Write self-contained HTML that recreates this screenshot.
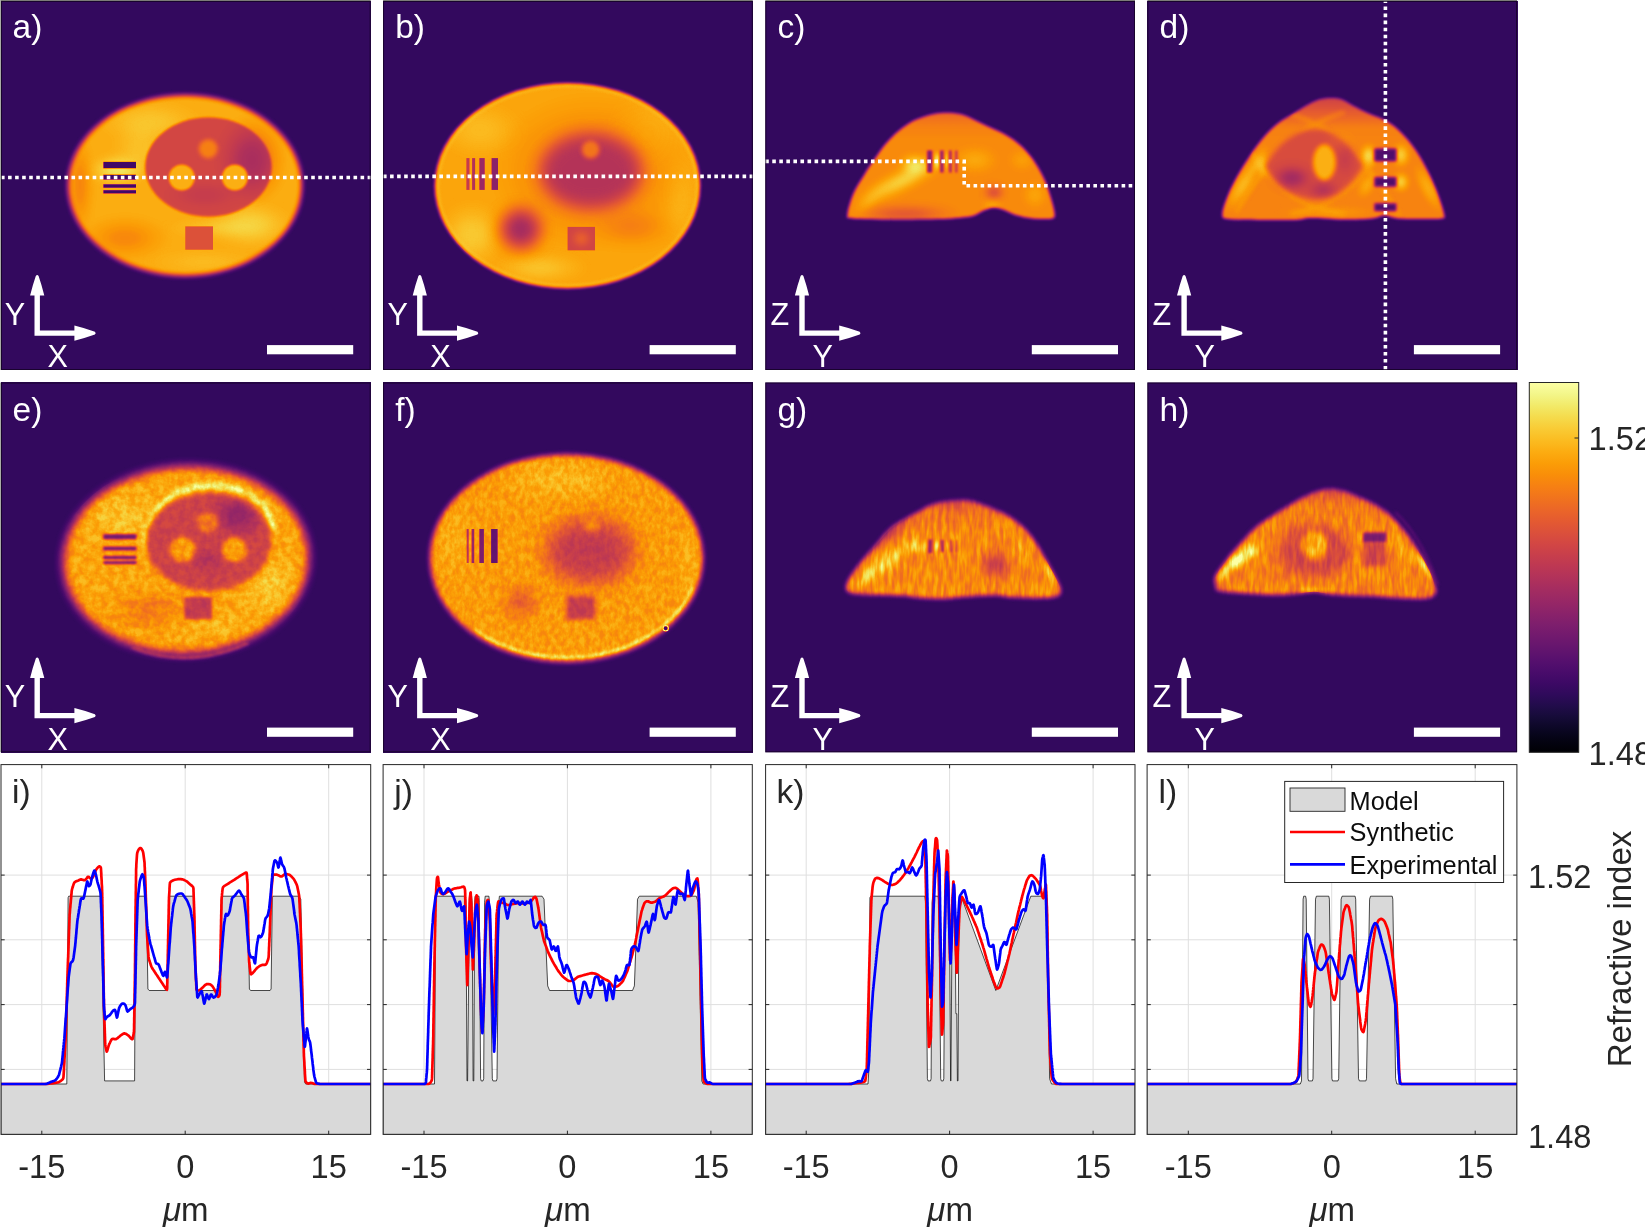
<!DOCTYPE html>
<html lang="en"><head><meta charset="utf-8"><title>Refractive index tomography figure</title>
<style>
html,body{margin:0;padding:0;background:#fff;}
body{width:1645px;height:1228px;overflow:hidden;}
svg{display:block;}
text{font-family:"Liberation Sans",Arial,Helvetica,sans-serif;}
.w{fill:#fff;}
.k{fill:#262626;}
</style></head><body>
<svg width="1645" height="1228" viewBox="0 0 1645 1228">
<defs>
<filter id="cmA" filterUnits="userSpaceOnUse" x="1.0" y="1.0" width="369.7" height="369.8" color-interpolation-filters="sRGB">
<feComponentTransfer in="SourceGraphic">
<feFuncR type="table" tableValues="0.0015 0.0060 0.0140 0.0258 0.0423 0.0613 0.0820 0.1046 0.1293 0.1558 0.1834 0.2111 0.2383 0.2648 0.2908 0.3163 0.3478 0.3728 0.3977 0.4225 0.4474 0.4723 0.4973 0.5222 0.5472 0.5721 0.5969 0.6217 0.6463 0.6706 0.6946 0.7183 0.7471 0.7696 0.7913 0.8122 0.8323 0.8514 0.8694 0.8863 0.9020 0.9165 0.9296 0.9415 0.9521 0.9613 0.9692 0.9757 0.9819 0.9853 0.9873 0.9879 0.9871 0.9849 0.9812 0.9761 0.9698 0.9625 0.9550 0.9487 0.9464 0.9517 0.9662 0.9884"/>
<feFuncG type="table" tableValues="0.0005 0.0047 0.0112 0.0193 0.0281 0.0366 0.0433 0.0470 0.0473 0.0446 0.0403 0.0370 0.0366 0.0396 0.0456 0.0535 0.0646 0.0739 0.0833 0.0925 0.1016 0.1105 0.1194 0.1281 0.1369 0.1458 0.1548 0.1642 0.1739 0.1842 0.1950 0.2066 0.2224 0.2361 0.2509 0.2668 0.2839 0.3023 0.3218 0.3426 0.3645 0.3875 0.4115 0.4364 0.4622 0.4887 0.5159 0.5438 0.5794 0.6084 0.6379 0.6677 0.6979 0.7284 0.7591 0.7900 0.8208 0.8515 0.8816 0.9105 0.9372 0.9606 0.9807 0.9984"/>
<feFuncB type="table" tableValues="0.0139 0.0386 0.0719 0.1059 0.1411 0.1776 0.2153 0.2534 0.2908 0.3253 0.3550 0.3786 0.3964 0.4093 0.4186 0.4251 0.4302 0.4324 0.4332 0.4327 0.4311 0.4283 0.4245 0.4195 0.4135 0.4064 0.3981 0.3888 0.3784 0.3669 0.3544 0.3409 0.3229 0.3075 0.2914 0.2747 0.2574 0.2396 0.2215 0.2030 0.1841 0.1649 0.1454 0.1254 0.1050 0.0843 0.0635 0.0436 0.0262 0.0242 0.0349 0.0583 0.0877 0.1208 0.1569 0.1960 0.2387 0.2855 0.3375 0.3953 0.4586 0.5242 0.5872 0.6449"/>
</feComponentTransfer>
</filter>
<filter id="cmB" filterUnits="userSpaceOnUse" x="383.1" y="1.0" width="369.7" height="369.8" color-interpolation-filters="sRGB">
<feComponentTransfer in="SourceGraphic">
<feFuncR type="table" tableValues="0.0015 0.0060 0.0140 0.0258 0.0423 0.0613 0.0820 0.1046 0.1293 0.1558 0.1834 0.2111 0.2383 0.2648 0.2908 0.3163 0.3478 0.3728 0.3977 0.4225 0.4474 0.4723 0.4973 0.5222 0.5472 0.5721 0.5969 0.6217 0.6463 0.6706 0.6946 0.7183 0.7471 0.7696 0.7913 0.8122 0.8323 0.8514 0.8694 0.8863 0.9020 0.9165 0.9296 0.9415 0.9521 0.9613 0.9692 0.9757 0.9819 0.9853 0.9873 0.9879 0.9871 0.9849 0.9812 0.9761 0.9698 0.9625 0.9550 0.9487 0.9464 0.9517 0.9662 0.9884"/>
<feFuncG type="table" tableValues="0.0005 0.0047 0.0112 0.0193 0.0281 0.0366 0.0433 0.0470 0.0473 0.0446 0.0403 0.0370 0.0366 0.0396 0.0456 0.0535 0.0646 0.0739 0.0833 0.0925 0.1016 0.1105 0.1194 0.1281 0.1369 0.1458 0.1548 0.1642 0.1739 0.1842 0.1950 0.2066 0.2224 0.2361 0.2509 0.2668 0.2839 0.3023 0.3218 0.3426 0.3645 0.3875 0.4115 0.4364 0.4622 0.4887 0.5159 0.5438 0.5794 0.6084 0.6379 0.6677 0.6979 0.7284 0.7591 0.7900 0.8208 0.8515 0.8816 0.9105 0.9372 0.9606 0.9807 0.9984"/>
<feFuncB type="table" tableValues="0.0139 0.0386 0.0719 0.1059 0.1411 0.1776 0.2153 0.2534 0.2908 0.3253 0.3550 0.3786 0.3964 0.4093 0.4186 0.4251 0.4302 0.4324 0.4332 0.4327 0.4311 0.4283 0.4245 0.4195 0.4135 0.4064 0.3981 0.3888 0.3784 0.3669 0.3544 0.3409 0.3229 0.3075 0.2914 0.2747 0.2574 0.2396 0.2215 0.2030 0.1841 0.1649 0.1454 0.1254 0.1050 0.0843 0.0635 0.0436 0.0262 0.0242 0.0349 0.0583 0.0877 0.1208 0.1569 0.1960 0.2387 0.2855 0.3375 0.3953 0.4586 0.5242 0.5872 0.6449"/>
</feComponentTransfer>
</filter>
<filter id="cmC" filterUnits="userSpaceOnUse" x="765.3" y="1.0" width="369.7" height="369.8" color-interpolation-filters="sRGB">
<feComponentTransfer in="SourceGraphic">
<feFuncR type="table" tableValues="0.0015 0.0060 0.0140 0.0258 0.0423 0.0613 0.0820 0.1046 0.1293 0.1558 0.1834 0.2111 0.2383 0.2648 0.2908 0.3163 0.3478 0.3728 0.3977 0.4225 0.4474 0.4723 0.4973 0.5222 0.5472 0.5721 0.5969 0.6217 0.6463 0.6706 0.6946 0.7183 0.7471 0.7696 0.7913 0.8122 0.8323 0.8514 0.8694 0.8863 0.9020 0.9165 0.9296 0.9415 0.9521 0.9613 0.9692 0.9757 0.9819 0.9853 0.9873 0.9879 0.9871 0.9849 0.9812 0.9761 0.9698 0.9625 0.9550 0.9487 0.9464 0.9517 0.9662 0.9884"/>
<feFuncG type="table" tableValues="0.0005 0.0047 0.0112 0.0193 0.0281 0.0366 0.0433 0.0470 0.0473 0.0446 0.0403 0.0370 0.0366 0.0396 0.0456 0.0535 0.0646 0.0739 0.0833 0.0925 0.1016 0.1105 0.1194 0.1281 0.1369 0.1458 0.1548 0.1642 0.1739 0.1842 0.1950 0.2066 0.2224 0.2361 0.2509 0.2668 0.2839 0.3023 0.3218 0.3426 0.3645 0.3875 0.4115 0.4364 0.4622 0.4887 0.5159 0.5438 0.5794 0.6084 0.6379 0.6677 0.6979 0.7284 0.7591 0.7900 0.8208 0.8515 0.8816 0.9105 0.9372 0.9606 0.9807 0.9984"/>
<feFuncB type="table" tableValues="0.0139 0.0386 0.0719 0.1059 0.1411 0.1776 0.2153 0.2534 0.2908 0.3253 0.3550 0.3786 0.3964 0.4093 0.4186 0.4251 0.4302 0.4324 0.4332 0.4327 0.4311 0.4283 0.4245 0.4195 0.4135 0.4064 0.3981 0.3888 0.3784 0.3669 0.3544 0.3409 0.3229 0.3075 0.2914 0.2747 0.2574 0.2396 0.2215 0.2030 0.1841 0.1649 0.1454 0.1254 0.1050 0.0843 0.0635 0.0436 0.0262 0.0242 0.0349 0.0583 0.0877 0.1208 0.1569 0.1960 0.2387 0.2855 0.3375 0.3953 0.4586 0.5242 0.5872 0.6449"/>
</feComponentTransfer>
</filter>
<filter id="cmD" filterUnits="userSpaceOnUse" x="1147.4" y="1.0" width="369.7" height="369.8" color-interpolation-filters="sRGB">
<feComponentTransfer in="SourceGraphic">
<feFuncR type="table" tableValues="0.0015 0.0060 0.0140 0.0258 0.0423 0.0613 0.0820 0.1046 0.1293 0.1558 0.1834 0.2111 0.2383 0.2648 0.2908 0.3163 0.3478 0.3728 0.3977 0.4225 0.4474 0.4723 0.4973 0.5222 0.5472 0.5721 0.5969 0.6217 0.6463 0.6706 0.6946 0.7183 0.7471 0.7696 0.7913 0.8122 0.8323 0.8514 0.8694 0.8863 0.9020 0.9165 0.9296 0.9415 0.9521 0.9613 0.9692 0.9757 0.9819 0.9853 0.9873 0.9879 0.9871 0.9849 0.9812 0.9761 0.9698 0.9625 0.9550 0.9487 0.9464 0.9517 0.9662 0.9884"/>
<feFuncG type="table" tableValues="0.0005 0.0047 0.0112 0.0193 0.0281 0.0366 0.0433 0.0470 0.0473 0.0446 0.0403 0.0370 0.0366 0.0396 0.0456 0.0535 0.0646 0.0739 0.0833 0.0925 0.1016 0.1105 0.1194 0.1281 0.1369 0.1458 0.1548 0.1642 0.1739 0.1842 0.1950 0.2066 0.2224 0.2361 0.2509 0.2668 0.2839 0.3023 0.3218 0.3426 0.3645 0.3875 0.4115 0.4364 0.4622 0.4887 0.5159 0.5438 0.5794 0.6084 0.6379 0.6677 0.6979 0.7284 0.7591 0.7900 0.8208 0.8515 0.8816 0.9105 0.9372 0.9606 0.9807 0.9984"/>
<feFuncB type="table" tableValues="0.0139 0.0386 0.0719 0.1059 0.1411 0.1776 0.2153 0.2534 0.2908 0.3253 0.3550 0.3786 0.3964 0.4093 0.4186 0.4251 0.4302 0.4324 0.4332 0.4327 0.4311 0.4283 0.4245 0.4195 0.4135 0.4064 0.3981 0.3888 0.3784 0.3669 0.3544 0.3409 0.3229 0.3075 0.2914 0.2747 0.2574 0.2396 0.2215 0.2030 0.1841 0.1649 0.1454 0.1254 0.1050 0.0843 0.0635 0.0436 0.0262 0.0242 0.0349 0.0583 0.0877 0.1208 0.1569 0.1960 0.2387 0.2855 0.3375 0.3953 0.4586 0.5242 0.5872 0.6449"/>
</feComponentTransfer>
</filter>
<filter id="cmE" filterUnits="userSpaceOnUse" x="1.0" y="382.5" width="369.7" height="369.8" color-interpolation-filters="sRGB">
<feTurbulence type="fractalNoise" baseFrequency="0.14" numOctaves="3" seed="3" result="t"/>
<feColorMatrix in="t" type="matrix" values="2.2 0 0 0 -0.6000000000000001  2.2 0 0 0 -0.6000000000000001  2.2 0 0 0 -0.6000000000000001  0 0 0 0 1" result="n"/>
<feComposite in="SourceGraphic" in2="n" operator="arithmetic" k1="0.15" k2="0.925" k3="-0.02535" k4="0.012675" result="ny"/>
<feComponentTransfer in="ny">
<feFuncR type="table" tableValues="0.0015 0.0060 0.0140 0.0258 0.0423 0.0613 0.0820 0.1046 0.1293 0.1558 0.1834 0.2111 0.2383 0.2648 0.2908 0.3163 0.3478 0.3728 0.3977 0.4225 0.4474 0.4723 0.4973 0.5222 0.5472 0.5721 0.5969 0.6217 0.6463 0.6706 0.6946 0.7183 0.7471 0.7696 0.7913 0.8122 0.8323 0.8514 0.8694 0.8863 0.9020 0.9165 0.9296 0.9415 0.9521 0.9613 0.9692 0.9757 0.9819 0.9853 0.9873 0.9879 0.9871 0.9849 0.9812 0.9761 0.9698 0.9625 0.9550 0.9487 0.9464 0.9517 0.9662 0.9884"/>
<feFuncG type="table" tableValues="0.0005 0.0047 0.0112 0.0193 0.0281 0.0366 0.0433 0.0470 0.0473 0.0446 0.0403 0.0370 0.0366 0.0396 0.0456 0.0535 0.0646 0.0739 0.0833 0.0925 0.1016 0.1105 0.1194 0.1281 0.1369 0.1458 0.1548 0.1642 0.1739 0.1842 0.1950 0.2066 0.2224 0.2361 0.2509 0.2668 0.2839 0.3023 0.3218 0.3426 0.3645 0.3875 0.4115 0.4364 0.4622 0.4887 0.5159 0.5438 0.5794 0.6084 0.6379 0.6677 0.6979 0.7284 0.7591 0.7900 0.8208 0.8515 0.8816 0.9105 0.9372 0.9606 0.9807 0.9984"/>
<feFuncB type="table" tableValues="0.0139 0.0386 0.0719 0.1059 0.1411 0.1776 0.2153 0.2534 0.2908 0.3253 0.3550 0.3786 0.3964 0.4093 0.4186 0.4251 0.4302 0.4324 0.4332 0.4327 0.4311 0.4283 0.4245 0.4195 0.4135 0.4064 0.3981 0.3888 0.3784 0.3669 0.3544 0.3409 0.3229 0.3075 0.2914 0.2747 0.2574 0.2396 0.2215 0.2030 0.1841 0.1649 0.1454 0.1254 0.1050 0.0843 0.0635 0.0436 0.0262 0.0242 0.0349 0.0583 0.0877 0.1208 0.1569 0.1960 0.2387 0.2855 0.3375 0.3953 0.4586 0.5242 0.5872 0.6449"/>
</feComponentTransfer>
</filter>
<filter id="cmF" filterUnits="userSpaceOnUse" x="383.1" y="382.5" width="369.7" height="369.8" color-interpolation-filters="sRGB">
<feTurbulence type="fractalNoise" baseFrequency="0.2 0.13" numOctaves="3" seed="8" result="t"/>
<feColorMatrix in="t" type="matrix" values="2.2 0 0 0 -0.6000000000000001  2.2 0 0 0 -0.6000000000000001  2.2 0 0 0 -0.6000000000000001  0 0 0 0 1" result="n"/>
<feComposite in="SourceGraphic" in2="n" operator="arithmetic" k1="0.14" k2="0.9299999999999999" k3="-0.023660000000000004" k4="0.011830000000000002" result="ny"/>
<feComponentTransfer in="ny">
<feFuncR type="table" tableValues="0.0015 0.0060 0.0140 0.0258 0.0423 0.0613 0.0820 0.1046 0.1293 0.1558 0.1834 0.2111 0.2383 0.2648 0.2908 0.3163 0.3478 0.3728 0.3977 0.4225 0.4474 0.4723 0.4973 0.5222 0.5472 0.5721 0.5969 0.6217 0.6463 0.6706 0.6946 0.7183 0.7471 0.7696 0.7913 0.8122 0.8323 0.8514 0.8694 0.8863 0.9020 0.9165 0.9296 0.9415 0.9521 0.9613 0.9692 0.9757 0.9819 0.9853 0.9873 0.9879 0.9871 0.9849 0.9812 0.9761 0.9698 0.9625 0.9550 0.9487 0.9464 0.9517 0.9662 0.9884"/>
<feFuncG type="table" tableValues="0.0005 0.0047 0.0112 0.0193 0.0281 0.0366 0.0433 0.0470 0.0473 0.0446 0.0403 0.0370 0.0366 0.0396 0.0456 0.0535 0.0646 0.0739 0.0833 0.0925 0.1016 0.1105 0.1194 0.1281 0.1369 0.1458 0.1548 0.1642 0.1739 0.1842 0.1950 0.2066 0.2224 0.2361 0.2509 0.2668 0.2839 0.3023 0.3218 0.3426 0.3645 0.3875 0.4115 0.4364 0.4622 0.4887 0.5159 0.5438 0.5794 0.6084 0.6379 0.6677 0.6979 0.7284 0.7591 0.7900 0.8208 0.8515 0.8816 0.9105 0.9372 0.9606 0.9807 0.9984"/>
<feFuncB type="table" tableValues="0.0139 0.0386 0.0719 0.1059 0.1411 0.1776 0.2153 0.2534 0.2908 0.3253 0.3550 0.3786 0.3964 0.4093 0.4186 0.4251 0.4302 0.4324 0.4332 0.4327 0.4311 0.4283 0.4245 0.4195 0.4135 0.4064 0.3981 0.3888 0.3784 0.3669 0.3544 0.3409 0.3229 0.3075 0.2914 0.2747 0.2574 0.2396 0.2215 0.2030 0.1841 0.1649 0.1454 0.1254 0.1050 0.0843 0.0635 0.0436 0.0262 0.0242 0.0349 0.0583 0.0877 0.1208 0.1569 0.1960 0.2387 0.2855 0.3375 0.3953 0.4586 0.5242 0.5872 0.6449"/>
</feComponentTransfer>
</filter>
<filter id="cmG" filterUnits="userSpaceOnUse" x="765.3" y="382.5" width="369.7" height="369.8" color-interpolation-filters="sRGB">
<feTurbulence type="fractalNoise" baseFrequency="0.26 0.06" numOctaves="2" seed="5" result="t"/>
<feColorMatrix in="t" type="matrix" values="2.2 0 0 0 -0.6000000000000001  2.2 0 0 0 -0.6000000000000001  2.2 0 0 0 -0.6000000000000001  0 0 0 0 1" result="n"/>
<feComposite in="SourceGraphic" in2="n" operator="arithmetic" k1="0.23" k2="0.885" k3="-0.03887" k4="0.019435" result="ny"/>
<feComponentTransfer in="ny">
<feFuncR type="table" tableValues="0.0015 0.0060 0.0140 0.0258 0.0423 0.0613 0.0820 0.1046 0.1293 0.1558 0.1834 0.2111 0.2383 0.2648 0.2908 0.3163 0.3478 0.3728 0.3977 0.4225 0.4474 0.4723 0.4973 0.5222 0.5472 0.5721 0.5969 0.6217 0.6463 0.6706 0.6946 0.7183 0.7471 0.7696 0.7913 0.8122 0.8323 0.8514 0.8694 0.8863 0.9020 0.9165 0.9296 0.9415 0.9521 0.9613 0.9692 0.9757 0.9819 0.9853 0.9873 0.9879 0.9871 0.9849 0.9812 0.9761 0.9698 0.9625 0.9550 0.9487 0.9464 0.9517 0.9662 0.9884"/>
<feFuncG type="table" tableValues="0.0005 0.0047 0.0112 0.0193 0.0281 0.0366 0.0433 0.0470 0.0473 0.0446 0.0403 0.0370 0.0366 0.0396 0.0456 0.0535 0.0646 0.0739 0.0833 0.0925 0.1016 0.1105 0.1194 0.1281 0.1369 0.1458 0.1548 0.1642 0.1739 0.1842 0.1950 0.2066 0.2224 0.2361 0.2509 0.2668 0.2839 0.3023 0.3218 0.3426 0.3645 0.3875 0.4115 0.4364 0.4622 0.4887 0.5159 0.5438 0.5794 0.6084 0.6379 0.6677 0.6979 0.7284 0.7591 0.7900 0.8208 0.8515 0.8816 0.9105 0.9372 0.9606 0.9807 0.9984"/>
<feFuncB type="table" tableValues="0.0139 0.0386 0.0719 0.1059 0.1411 0.1776 0.2153 0.2534 0.2908 0.3253 0.3550 0.3786 0.3964 0.4093 0.4186 0.4251 0.4302 0.4324 0.4332 0.4327 0.4311 0.4283 0.4245 0.4195 0.4135 0.4064 0.3981 0.3888 0.3784 0.3669 0.3544 0.3409 0.3229 0.3075 0.2914 0.2747 0.2574 0.2396 0.2215 0.2030 0.1841 0.1649 0.1454 0.1254 0.1050 0.0843 0.0635 0.0436 0.0262 0.0242 0.0349 0.0583 0.0877 0.1208 0.1569 0.1960 0.2387 0.2855 0.3375 0.3953 0.4586 0.5242 0.5872 0.6449"/>
</feComponentTransfer>
</filter>
<filter id="cmH" filterUnits="userSpaceOnUse" x="1147.4" y="382.5" width="369.7" height="369.8" color-interpolation-filters="sRGB">
<feTurbulence type="fractalNoise" baseFrequency="0.26 0.06" numOctaves="2" seed="11" result="t"/>
<feColorMatrix in="t" type="matrix" values="2.2 0 0 0 -0.6000000000000001  2.2 0 0 0 -0.6000000000000001  2.2 0 0 0 -0.6000000000000001  0 0 0 0 1" result="n"/>
<feComposite in="SourceGraphic" in2="n" operator="arithmetic" k1="0.23" k2="0.885" k3="-0.03887" k4="0.019435" result="ny"/>
<feComponentTransfer in="ny">
<feFuncR type="table" tableValues="0.0015 0.0060 0.0140 0.0258 0.0423 0.0613 0.0820 0.1046 0.1293 0.1558 0.1834 0.2111 0.2383 0.2648 0.2908 0.3163 0.3478 0.3728 0.3977 0.4225 0.4474 0.4723 0.4973 0.5222 0.5472 0.5721 0.5969 0.6217 0.6463 0.6706 0.6946 0.7183 0.7471 0.7696 0.7913 0.8122 0.8323 0.8514 0.8694 0.8863 0.9020 0.9165 0.9296 0.9415 0.9521 0.9613 0.9692 0.9757 0.9819 0.9853 0.9873 0.9879 0.9871 0.9849 0.9812 0.9761 0.9698 0.9625 0.9550 0.9487 0.9464 0.9517 0.9662 0.9884"/>
<feFuncG type="table" tableValues="0.0005 0.0047 0.0112 0.0193 0.0281 0.0366 0.0433 0.0470 0.0473 0.0446 0.0403 0.0370 0.0366 0.0396 0.0456 0.0535 0.0646 0.0739 0.0833 0.0925 0.1016 0.1105 0.1194 0.1281 0.1369 0.1458 0.1548 0.1642 0.1739 0.1842 0.1950 0.2066 0.2224 0.2361 0.2509 0.2668 0.2839 0.3023 0.3218 0.3426 0.3645 0.3875 0.4115 0.4364 0.4622 0.4887 0.5159 0.5438 0.5794 0.6084 0.6379 0.6677 0.6979 0.7284 0.7591 0.7900 0.8208 0.8515 0.8816 0.9105 0.9372 0.9606 0.9807 0.9984"/>
<feFuncB type="table" tableValues="0.0139 0.0386 0.0719 0.1059 0.1411 0.1776 0.2153 0.2534 0.2908 0.3253 0.3550 0.3786 0.3964 0.4093 0.4186 0.4251 0.4302 0.4324 0.4332 0.4327 0.4311 0.4283 0.4245 0.4195 0.4135 0.4064 0.3981 0.3888 0.3784 0.3669 0.3544 0.3409 0.3229 0.3075 0.2914 0.2747 0.2574 0.2396 0.2215 0.2030 0.1841 0.1649 0.1454 0.1254 0.1050 0.0843 0.0635 0.0436 0.0262 0.0242 0.0349 0.0583 0.0877 0.1208 0.1569 0.1960 0.2387 0.2855 0.3375 0.3953 0.4586 0.5242 0.5872 0.6449"/>
</feComponentTransfer>
</filter>
<filter id="b0_6" x="-50%" y="-50%" width="200%" height="200%" color-interpolation-filters="sRGB"><feGaussianBlur stdDeviation="0.6"/></filter>
<filter id="b1" x="-50%" y="-50%" width="200%" height="200%" color-interpolation-filters="sRGB"><feGaussianBlur stdDeviation="1"/></filter>
<filter id="b1_5" x="-50%" y="-50%" width="200%" height="200%" color-interpolation-filters="sRGB"><feGaussianBlur stdDeviation="1.5"/></filter>
<filter id="b2" x="-50%" y="-50%" width="200%" height="200%" color-interpolation-filters="sRGB"><feGaussianBlur stdDeviation="2"/></filter>
<filter id="b2_5" x="-50%" y="-50%" width="200%" height="200%" color-interpolation-filters="sRGB"><feGaussianBlur stdDeviation="2.5"/></filter>
<filter id="b3" x="-50%" y="-50%" width="200%" height="200%" color-interpolation-filters="sRGB"><feGaussianBlur stdDeviation="3"/></filter>
<filter id="b4" x="-50%" y="-50%" width="200%" height="200%" color-interpolation-filters="sRGB"><feGaussianBlur stdDeviation="4"/></filter>
<filter id="b5" x="-50%" y="-50%" width="200%" height="200%" color-interpolation-filters="sRGB"><feGaussianBlur stdDeviation="5"/></filter>
<filter id="b6" x="-50%" y="-50%" width="200%" height="200%" color-interpolation-filters="sRGB"><feGaussianBlur stdDeviation="6"/></filter>
<filter id="b8" x="-50%" y="-50%" width="200%" height="200%" color-interpolation-filters="sRGB"><feGaussianBlur stdDeviation="8"/></filter>
<filter id="b10" x="-50%" y="-50%" width="200%" height="200%" color-interpolation-filters="sRGB"><feGaussianBlur stdDeviation="10"/></filter>
<filter id="b14" x="-50%" y="-50%" width="200%" height="200%" color-interpolation-filters="sRGB"><feGaussianBlur stdDeviation="14"/></filter>
<clipPath id="cp00"><rect x="1.0" y="1.0" width="369.7" height="369.0"/></clipPath>
<clipPath id="cp01"><rect x="383.1" y="1.0" width="369.7" height="369.0"/></clipPath>
<clipPath id="cp02"><rect x="765.3" y="1.0" width="369.7" height="369.0"/></clipPath>
<clipPath id="cp03"><rect x="1147.4" y="1.0" width="369.7" height="369.0"/></clipPath>
<clipPath id="cp10"><rect x="1.0" y="382.5" width="369.7" height="369.8"/></clipPath>
<clipPath id="cp11"><rect x="383.1" y="382.5" width="369.7" height="369.8"/></clipPath>
<clipPath id="cp12"><rect x="765.3" y="382.5" width="369.7" height="369.8"/></clipPath>
<clipPath id="cp13"><rect x="1147.4" y="382.5" width="369.7" height="369.8"/></clipPath>
<linearGradient id="cbar" x1="0" y1="0" x2="0" y2="1"><stop offset="0.0000" stop-color="rgb(252,255,164)"/><stop offset="0.0312" stop-color="rgb(243,246,138)"/><stop offset="0.0625" stop-color="rgb(242,234,105)"/><stop offset="0.0938" stop-color="rgb(245,219,76)"/><stop offset="0.1250" stop-color="rgb(249,203,53)"/><stop offset="0.1562" stop-color="rgb(251,188,33)"/><stop offset="0.1875" stop-color="rgb(252,172,17)"/><stop offset="0.2188" stop-color="rgb(251,157,7)"/><stop offset="0.2500" stop-color="rgb(249,142,9)"/><stop offset="0.2812" stop-color="rgb(246,128,19)"/><stop offset="0.3125" stop-color="rgb(241,115,29)"/><stop offset="0.3438" stop-color="rgb(235,102,40)"/><stop offset="0.3750" stop-color="rgb(228,90,49)"/><stop offset="0.4062" stop-color="rgb(219,80,59)"/><stop offset="0.4375" stop-color="rgb(210,70,68)"/><stop offset="0.4688" stop-color="rgb(199,62,76)"/><stop offset="0.5000" stop-color="rgb(188,55,84)"/><stop offset="0.5312" stop-color="rgb(176,49,91)"/><stop offset="0.5625" stop-color="rgb(163,44,97)"/><stop offset="0.5938" stop-color="rgb(151,39,102)"/><stop offset="0.6250" stop-color="rgb(138,34,106)"/><stop offset="0.6562" stop-color="rgb(125,30,109)"/><stop offset="0.6875" stop-color="rgb(113,25,110)"/><stop offset="0.7188" stop-color="rgb(100,21,110)"/><stop offset="0.7500" stop-color="rgb(87,16,110)"/><stop offset="0.7812" stop-color="rgb(74,12,107)"/><stop offset="0.8125" stop-color="rgb(61,9,101)"/><stop offset="0.8438" stop-color="rgb(47,10,91)"/><stop offset="0.8750" stop-color="rgb(33,12,74)"/><stop offset="0.9062" stop-color="rgb(21,11,55)"/><stop offset="0.9375" stop-color="rgb(11,7,36)"/><stop offset="0.9688" stop-color="rgb(4,3,18)"/><stop offset="1.0000" stop-color="rgb(0,0,4)"/></linearGradient>
<radialGradient id="sw"><stop offset="0" stop-color="#fff" stop-opacity="1"/><stop offset="0.3" stop-color="#fff" stop-opacity="0.85"/><stop offset="0.65" stop-color="#fff" stop-opacity="0.35"/><stop offset="1" stop-color="#fff" stop-opacity="0"/></radialGradient>
<radialGradient id="sk"><stop offset="0" stop-color="#000" stop-opacity="1"/><stop offset="0.3" stop-color="#000" stop-opacity="0.85"/><stop offset="0.65" stop-color="#000" stop-opacity="0.35"/><stop offset="1" stop-color="#000" stop-opacity="0"/></radialGradient>
<g id="ax">
<path class="w" transform="translate(0.9 1.1)" d="M33.6 294.5 L33.6 334.7 L73.5 334.7 L73.5 339.6 Q84 337 94 333.4 Q95.6 332 94 330.6 Q84 327 73.5 324.4 L73.5 329.3 L39 329.3 L39 294.5 L43.4 294.5 Q40.8 284 37.7 275 Q36.3 272.6 34.9 275 Q31.8 284 29.2 294.5 Z"/>
<rect class="w" x="267.0" y="345.1" width="86.2" height="9.2"/>
</g>
</defs>
<rect x="0" y="0" width="1645" height="1228" fill="#fff"/>
<!-- panel a -->
<g clip-path="url(#cp00)"><g filter="url(#cmA)">
<rect x="-1.0" y="-1.0" width="373.7" height="373.8" fill="rgb(43,43,43)"/>
<clipPath id="ca"><ellipse cx="185" cy="185.5" rx="118" ry="91.5"/></clipPath>
<g filter="url(#b2_5)">
<ellipse cx="185" cy="185.5" rx="117" ry="90.5" fill="rgb(208,208,208)"/>
</g>
<g clip-path="url(#ca)"><g filter="url(#b4)">
<ellipse cx="118" cy="170" rx="30" ry="16" fill="url(#sw)" opacity="0.75"/>
<ellipse cx="140" cy="150" rx="30" ry="30" fill="url(#sw)" opacity="0.25"/>
<ellipse cx="250" cy="225" rx="45" ry="24" fill="url(#sw)" opacity="0.45"/>
<ellipse cx="215" cy="228" rx="50" ry="10" fill="url(#sw)" opacity="0.3"/>
<ellipse cx="150" cy="122" rx="55" ry="22" fill="url(#sw)" opacity="0.3"/>
<ellipse cx="205" cy="262" rx="60" ry="12" fill="url(#sw)" opacity="0.2"/>
<ellipse cx="125" cy="238" rx="45" ry="22" fill="url(#sk)" opacity="0.1"/>
<ellipse cx="80" cy="185" rx="12" ry="50" fill="url(#sk)" opacity="0.12"/>
</g></g>
<g filter="url(#b1)"><ellipse cx="208.5" cy="167" rx="63.2" ry="49.6" fill="rgb(144,144,144)"/></g>
<g filter="url(#b4)"><ellipse cx="252" cy="160" rx="34" ry="44" fill="url(#sk)" opacity="0.2"/>
<ellipse cx="205" cy="195" rx="40" ry="14" fill="url(#sk)" opacity="0.08"/>
</g>
<g filter="url(#b1)"><circle cx="181.7" cy="177.5" r="13" fill="rgb(209,209,209)"/><circle cx="234.9" cy="177.5" r="13" fill="rgb(209,209,209)"/></g>
<g filter="url(#b2)"><circle cx="208.2" cy="148.8" r="9.5" fill="rgb(184,184,184)"/></g>
<g filter="url(#b0_6)"><rect x="185.3" y="226.4" width="27.7" height="23.3" fill="rgb(153,153,153)"/></g>
<g filter="url(#b0_6)" fill="rgb(51,51,51)"><rect x="103.4" y="161.9" width="32.6" height="6.3"/><rect x="103.4" y="174.8" width="32.6" height="4.8"/><rect x="103.4" y="184.3" width="32.6" height="3.4"/><rect x="103.4" y="190.2" width="32.6" height="3.2"/></g>
</g></g>
<line x1="1" y1="177.5" x2="370.7" y2="177.5" stroke="#fff" stroke-width="3.6" stroke-dasharray="3.6 3.45"/>
<rect x="1.5" y="1.5" width="368.7" height="368.0" fill="none" stroke="#12021f" stroke-opacity="0.75" stroke-width="1"/>
<use href="#ax" x="0.0" y="0.0"/>
<text class="w" x="12.6" y="37.7" font-size="33.5">a)</text>
<text class="w" x="15.0" y="324.7" font-size="30.6" text-anchor="middle">Y</text>
<text class="w" x="57.8" y="367.0" font-size="30.6" text-anchor="middle">X</text>
<!-- panel b -->
<g clip-path="url(#cp01)"><g filter="url(#cmB)">
<rect x="381.1" y="-1.0" width="373.7" height="373.8" fill="rgb(43,43,43)"/>
<clipPath id="cb"><ellipse cx="567.5" cy="185.7" rx="133" ry="103"/></clipPath>
<g filter="url(#b1_5)"><ellipse cx="567.5" cy="185.7" rx="132.8" ry="102.8" fill="rgb(204,204,204)"/></g>
<g clip-path="url(#cb)"><g filter="url(#b5)">
<ellipse cx="480" cy="130" rx="45" ry="30" fill="url(#sw)" opacity="0.25"/>
<ellipse cx="472" cy="235" rx="35" ry="35" fill="url(#sw)" opacity="0.4"/>
<ellipse cx="540" cy="268" rx="50" ry="16" fill="url(#sw)" opacity="0.35"/>
<ellipse cx="650" cy="130" rx="40" ry="40" fill="url(#sw)" opacity="0.12"/>
<ellipse cx="680" cy="200" rx="20" ry="50" fill="url(#sw)" opacity="0.15"/>
<ellipse cx="635" cy="228" rx="45" ry="22" fill="url(#sk)" opacity="0.08"/>
<ellipse cx="591" cy="172" rx="100" ry="78" fill="url(#sk)" opacity="0.13"/>
</g></g>
<g filter="url(#b1_5)"><ellipse cx="567.5" cy="185.7" rx="129.6" ry="99.8" fill="none" stroke="rgb(235,235,235)" stroke-width="2.2" opacity="0.4"/></g>
<g filter="url(#b8)"><ellipse cx="591" cy="171" rx="50" ry="37" fill="rgb(124,124,124)"/></g>
<g filter="url(#b8)"><circle cx="520.8" cy="229" r="19" fill="rgb(112,112,112)"/></g>
<g filter="url(#b2)"><circle cx="590.6" cy="149.6" r="9" fill="rgb(178,178,178)"/></g>
<g filter="url(#b0_6)"><rect x="567.6" y="226.9" width="27.4" height="23.4" fill="rgb(143,143,143)"/></g>
<g filter="url(#b3)"><ellipse cx="581.3" cy="238.6" rx="11" ry="10" fill="url(#sw)" opacity="0.25"/>
</g>
<g filter="url(#b0_6)"><rect x="466.4" y="158.1" width="3.1" height="31.8" fill="rgb(133,133,133)"/><rect x="472.1" y="158.1" width="3" height="31.8" fill="rgb(122,122,122)"/><rect x="479.4" y="158.1" width="5.3" height="31.8" fill="rgb(107,107,107)"/><rect x="491.6" y="158.1" width="6.4" height="31.8" fill="rgb(97,97,97)"/></g>
</g></g>
<line x1="383" y1="176.4" x2="752.7" y2="176.4" stroke="#fff" stroke-width="3.6" stroke-dasharray="3.6 3.45"/>
<rect x="383.6" y="1.5" width="368.7" height="368.0" fill="none" stroke="#12021f" stroke-opacity="0.75" stroke-width="1"/>
<use href="#ax" x="382.6" y="0.0"/>
<text class="w" x="395.20000000000005" y="37.7" font-size="33.5">b)</text>
<text class="w" x="397.6" y="324.7" font-size="30.6" text-anchor="middle">Y</text>
<text class="w" x="440.40000000000003" y="367.0" font-size="30.6" text-anchor="middle">X</text>
<!-- panel c -->
<g clip-path="url(#cp02)"><g filter="url(#cmC)">
<rect x="763.3" y="-1.0" width="373.7" height="373.8" fill="rgb(43,43,43)"/>
<linearGradient id="gC" gradientUnits="userSpaceOnUse" x1="0" y1="112" x2="0" y2="140"><stop offset="0" stop-color="rgb(168,168,168)"/><stop offset="0.5" stop-color="rgb(184,184,184)"/><stop offset="1" stop-color="rgb(190,190,190)"/></linearGradient>
<g filter="url(#b1_5)"><path d="M847.4 215.0 C847.4 210.9 850.6 200.3 853.4 193.6 C856.2 186.9 860.5 180.7 864.1 174.9 C867.7 169.1 871.2 163.9 874.8 158.8 C878.4 153.7 881.5 148.8 885.5 144.1 C889.5 139.4 893.9 134.8 898.8 130.8 C903.7 126.8 909.1 122.9 914.9 120.1 C920.7 117.3 928.2 115.2 933.6 114.0 C939.0 112.8 942.5 112.7 947.0 112.7 C951.5 112.7 955.9 112.9 960.4 114.0 C964.9 115.1 969.2 117.4 973.7 119.4 C978.2 121.4 982.6 124.0 987.1 126.1 C991.6 128.2 996.0 129.8 1000.5 132.1 C1005.0 134.4 1009.4 136.8 1013.9 140.1 C1018.4 143.4 1023.2 147.7 1027.2 152.2 C1031.2 156.7 1034.8 161.8 1037.9 166.9 C1041.0 172.0 1043.8 177.6 1046.0 182.9 C1048.2 188.2 1049.8 193.9 1051.3 199.0 C1052.8 204.1 1054.5 210.5 1054.7 213.7 C1054.9 216.9 1055.1 217.5 1052.7 218.4 C1050.3 219.3 1044.8 219.1 1040.6 219.0 C1036.3 218.9 1031.7 218.5 1027.2 217.7 C1022.8 216.9 1017.9 215.7 1013.9 214.4 C1009.9 213.1 1006.6 210.8 1003.2 209.7 C999.9 208.6 996.9 207.6 993.8 207.7 C990.7 207.8 987.8 209.0 984.4 210.3 C981.0 211.6 977.7 214.5 973.7 215.7 C969.7 216.9 966.0 217.1 960.4 217.7 C954.8 218.2 951.4 218.7 940.3 219.0 C929.1 219.3 908.0 219.5 893.5 219.4 C879.0 219.3 861.1 219.1 853.4 218.4 C845.7 217.7 847.4 219.1 847.4 215.0 Z" fill="url(#gC)"/></g>
<clipPath id="dc"><path d="M847.4 215.0 C847.4 210.9 850.6 200.3 853.4 193.6 C856.2 186.9 860.5 180.7 864.1 174.9 C867.7 169.1 871.2 163.9 874.8 158.8 C878.4 153.7 881.5 148.8 885.5 144.1 C889.5 139.4 893.9 134.8 898.8 130.8 C903.7 126.8 909.1 122.9 914.9 120.1 C920.7 117.3 928.2 115.2 933.6 114.0 C939.0 112.8 942.5 112.7 947.0 112.7 C951.5 112.7 955.9 112.9 960.4 114.0 C964.9 115.1 969.2 117.4 973.7 119.4 C978.2 121.4 982.6 124.0 987.1 126.1 C991.6 128.2 996.0 129.8 1000.5 132.1 C1005.0 134.4 1009.4 136.8 1013.9 140.1 C1018.4 143.4 1023.2 147.7 1027.2 152.2 C1031.2 156.7 1034.8 161.8 1037.9 166.9 C1041.0 172.0 1043.8 177.6 1046.0 182.9 C1048.2 188.2 1049.8 193.9 1051.3 199.0 C1052.8 204.1 1054.5 210.5 1054.7 213.7 C1054.9 216.9 1055.1 217.5 1052.7 218.4 C1050.3 219.3 1044.8 219.1 1040.6 219.0 C1036.3 218.9 1031.7 218.5 1027.2 217.7 C1022.8 216.9 1017.9 215.7 1013.9 214.4 C1009.9 213.1 1006.6 210.8 1003.2 209.7 C999.9 208.6 996.9 207.6 993.8 207.7 C990.7 207.8 987.8 209.0 984.4 210.3 C981.0 211.6 977.7 214.5 973.7 215.7 C969.7 216.9 966.0 217.1 960.4 217.7 C954.8 218.2 951.4 218.7 940.3 219.0 C929.1 219.3 908.0 219.5 893.5 219.4 C879.0 219.3 861.1 219.1 853.4 218.4 C845.7 217.7 847.4 219.1 847.4 215.0 Z"/></clipPath>
<g clip-path="url(#dc)"><g filter="url(#b4)">
<ellipse cx="903" cy="180" rx="55" ry="11" fill="url(#sw)" opacity="0.7" transform="rotate(-27 903 180)"/>
<ellipse cx="915" cy="165" rx="16" ry="10" fill="url(#sw)" opacity="1.0"/>
<ellipse cx="870" cy="200" rx="30" ry="7" fill="url(#sw)" opacity="0.35" transform="rotate(-45 870 200)"/>
<ellipse cx="975" cy="160" rx="25" ry="14" fill="url(#sw)" opacity="0.3"/>
<ellipse cx="1022" cy="160" rx="14" ry="10" fill="url(#sw)" opacity="0.25"/>
<ellipse cx="1035" cy="195" rx="12" ry="14" fill="url(#sw)" opacity="0.3"/>
<ellipse cx="992.5" cy="205" rx="9" ry="3.5" fill="url(#sw)" opacity="0.9"/>
<ellipse cx="905" cy="214" rx="55" ry="9" fill="url(#sk)" opacity="0.22"/>
<ellipse cx="994" cy="192.5" rx="10" ry="7" fill="url(#sk)" opacity="0.4"/>
</g></g>
<g filter="url(#b1)"><ellipse cx="937" cy="161" rx="4" ry="11" fill="url(#sw)" opacity="0.8"/>
<ellipse cx="946.6" cy="161" rx="2.8" ry="11" fill="url(#sw)" opacity="0.6"/>
</g>
<g filter="url(#b1)"><rect x="927.2" y="150.5" width="5" height="22" fill="rgb(92,92,92)"/><rect x="940.2" y="150.5" width="3.3" height="22" fill="rgb(102,102,102)"/><rect x="949" y="150.5" width="2.7" height="22" fill="rgb(115,115,115)"/><rect x="955.1" y="150.5" width="2.4" height="22" fill="rgb(128,128,128)"/></g>
</g></g>
<path d="M765.2 161.4 H964.2 V185.7 H1135" fill="none" stroke="#fff" stroke-width="3.6" stroke-dasharray="3.6 3.45"/>
<rect x="765.8" y="1.5" width="368.7" height="368.0" fill="none" stroke="#12021f" stroke-opacity="0.75" stroke-width="1"/>
<use href="#ax" x="764.8" y="0.0"/>
<text class="w" x="777.4" y="37.7" font-size="33.5">c)</text>
<text class="w" x="779.8" y="324.7" font-size="30.6" text-anchor="middle">Z</text>
<text class="w" x="822.5999999999999" y="367.0" font-size="30.6" text-anchor="middle">Y</text>
<!-- panel d -->
<g clip-path="url(#cp03)"><g filter="url(#cmD)">
<rect x="1145.4" y="-1.0" width="373.7" height="373.8" fill="rgb(43,43,43)"/>
<linearGradient id="gD" gradientUnits="userSpaceOnUse" x1="0" y1="98" x2="0" y2="140"><stop offset="0" stop-color="rgb(140,140,140)"/><stop offset="0.35" stop-color="rgb(161,161,161)"/><stop offset="0.7" stop-color="rgb(184,184,184)"/><stop offset="1" stop-color="rgb(186,186,186)"/></linearGradient>
<g filter="url(#b1_5)"><path d="M1222.3 214.0 C1222.3 210.0 1225.4 201.6 1228.1 195.0 C1230.8 188.4 1234.6 181.2 1238.3 174.6 C1242.0 168.0 1245.9 161.8 1250.0 155.7 C1254.1 149.6 1258.5 143.4 1263.1 138.1 C1267.7 132.8 1272.6 127.7 1277.7 123.6 C1282.8 119.5 1289.2 116.2 1293.8 113.3 C1298.4 110.4 1301.6 108.2 1305.5 106.0 C1309.4 103.8 1313.2 101.5 1317.1 100.2 C1321.0 98.9 1324.9 98.2 1328.8 98.0 C1332.7 97.8 1336.4 97.7 1340.5 99.0 C1344.6 100.3 1349.0 103.6 1353.6 106.0 C1358.2 108.4 1363.3 111.1 1368.2 113.3 C1373.1 115.5 1378.4 117.0 1382.8 119.2 C1387.2 121.4 1390.4 123.1 1394.5 126.5 C1398.6 129.9 1403.5 134.7 1407.6 139.6 C1411.7 144.5 1415.6 149.9 1419.3 155.7 C1423.0 161.5 1426.3 168.0 1429.5 174.6 C1432.7 181.2 1435.8 188.4 1438.2 195.0 C1440.6 201.6 1443.5 210.1 1444.1 214.0 C1444.7 217.9 1446.0 217.6 1441.9 218.4 C1437.8 219.2 1426.7 219.1 1419.3 219.1 C1411.9 219.1 1403.2 219.0 1397.4 218.4 C1391.6 217.8 1388.3 215.5 1384.2 215.5 C1380.1 215.5 1378.9 217.7 1372.6 218.4 C1366.3 219.1 1354.3 219.6 1346.3 219.6 C1338.3 219.6 1330.5 218.7 1324.4 218.4 C1318.3 218.2 1314.7 217.8 1309.8 218.1 C1304.9 218.3 1303.7 219.6 1295.2 219.9 C1286.7 220.2 1270.0 220.0 1258.8 219.9 C1247.6 219.8 1234.2 220.1 1228.1 219.1 C1222.0 218.1 1222.3 218.0 1222.3 214.0 Z" fill="url(#gD)"/></g>
<clipPath id="dd"><path d="M1222.3 214.0 C1222.3 210.0 1225.4 201.6 1228.1 195.0 C1230.8 188.4 1234.6 181.2 1238.3 174.6 C1242.0 168.0 1245.9 161.8 1250.0 155.7 C1254.1 149.6 1258.5 143.4 1263.1 138.1 C1267.7 132.8 1272.6 127.7 1277.7 123.6 C1282.8 119.5 1289.2 116.2 1293.8 113.3 C1298.4 110.4 1301.6 108.2 1305.5 106.0 C1309.4 103.8 1313.2 101.5 1317.1 100.2 C1321.0 98.9 1324.9 98.2 1328.8 98.0 C1332.7 97.8 1336.4 97.7 1340.5 99.0 C1344.6 100.3 1349.0 103.6 1353.6 106.0 C1358.2 108.4 1363.3 111.1 1368.2 113.3 C1373.1 115.5 1378.4 117.0 1382.8 119.2 C1387.2 121.4 1390.4 123.1 1394.5 126.5 C1398.6 129.9 1403.5 134.7 1407.6 139.6 C1411.7 144.5 1415.6 149.9 1419.3 155.7 C1423.0 161.5 1426.3 168.0 1429.5 174.6 C1432.7 181.2 1435.8 188.4 1438.2 195.0 C1440.6 201.6 1443.5 210.1 1444.1 214.0 C1444.7 217.9 1446.0 217.6 1441.9 218.4 C1437.8 219.2 1426.7 219.1 1419.3 219.1 C1411.9 219.1 1403.2 219.0 1397.4 218.4 C1391.6 217.8 1388.3 215.5 1384.2 215.5 C1380.1 215.5 1378.9 217.7 1372.6 218.4 C1366.3 219.1 1354.3 219.6 1346.3 219.6 C1338.3 219.6 1330.5 218.7 1324.4 218.4 C1318.3 218.2 1314.7 217.8 1309.8 218.1 C1304.9 218.3 1303.7 219.6 1295.2 219.9 C1286.7 220.2 1270.0 220.0 1258.8 219.9 C1247.6 219.8 1234.2 220.1 1228.1 219.1 C1222.0 218.1 1222.3 218.0 1222.3 214.0 Z"/></clipPath>
<g clip-path="url(#dd)">
<g filter="url(#b3)"><ellipse cx="1243" cy="185" rx="9" ry="34" fill="url(#sw)" opacity="0.5" transform="rotate(32 1243 185)"/>
<ellipse cx="1258" cy="160" rx="6" ry="20" fill="url(#sw)" opacity="0.4" transform="rotate(32 1258 160)"/>
<ellipse cx="1428" cy="188" rx="8" ry="30" fill="url(#sw)" opacity="0.4" transform="rotate(-28 1428 188)"/>
<ellipse cx="1368.5" cy="156" rx="8" ry="13" fill="url(#sw)" opacity="0.95"/>
<ellipse cx="1401" cy="155" rx="9" ry="13" fill="url(#sw)" opacity="0.75"/>
<ellipse cx="1401" cy="182" rx="8" ry="10" fill="url(#sw)" opacity="0.85"/>
<ellipse cx="1263" cy="166" rx="7" ry="13" fill="url(#sw)" opacity="0.6"/>
<ellipse cx="1367" cy="185" rx="8" ry="16" fill="url(#sw)" opacity="0.4" transform="rotate(30 1367 185)"/>
<ellipse cx="1330" cy="212" rx="60" ry="6" fill="url(#sw)" opacity="0.2"/>
</g>
<g filter="url(#b2)" fill="none" stroke="rgb(219,219,219)" stroke-width="4" opacity="0.33"><path d="M1236 213 C1262 170 1290 128 1345 112"/><path d="M1400 216 C1372 170 1340 128 1290 114"/><path d="M1250 150 C1275 190 1300 208 1345 214"/><path d="M1380 150 C1355 190 1330 208 1290 214"/></g>
<g filter="url(#b2_5)"><path d="M1265.3 165.9 C1278 143 1296 129.5 1315 129.5 C1334 129.5 1351 143 1362.4 165.9 C1351 187 1334 199 1315 199 C1296 199 1278 187 1265.3 165.9 Z" fill="rgb(149,149,149)"/></g>
<g filter="url(#b5)"><ellipse cx="1292" cy="178" rx="22" ry="13" fill="url(#sk)" opacity="0.32"/>
<ellipse cx="1323" cy="190" rx="18" ry="8" fill="url(#sk)" opacity="0.28"/>
<ellipse cx="1345" cy="160" rx="10" ry="20" fill="url(#sk)" opacity="0.12"/>
<ellipse cx="1340" cy="140" rx="18" ry="7" fill="url(#sw)" opacity="0.15"/>
</g>
<g filter="url(#b2)"><ellipse cx="1324.4" cy="162.2" rx="11.5" ry="18" fill="rgb(209,209,209)"/></g>
<g filter="url(#b1_5)" fill="rgb(60,60,60)"><rect x="1374.5" y="148.6" width="21.8" height="12.6"/><rect x="1374.5" y="177.2" width="21.8" height="9.4"/><rect x="1374.5" y="203.4" width="21.8" height="7.6"/></g>
</g>
</g></g>
<line x1="1385.4" y1="-0.55" x2="1385.4" y2="370.6" stroke="#fff" stroke-width="3.6" stroke-dasharray="3.6 3.45"/>
<rect x="1147.9" y="1.5" width="368.7" height="368.0" fill="none" stroke="#12021f" stroke-opacity="0.75" stroke-width="1"/>
<use href="#ax" x="1146.9" y="0.0"/>
<text class="w" x="1159.5" y="37.7" font-size="33.5">d)</text>
<text class="w" x="1161.9" y="324.7" font-size="30.6" text-anchor="middle">Z</text>
<text class="w" x="1204.7" y="367.0" font-size="30.6" text-anchor="middle">Y</text>
<!-- panel e -->
<g clip-path="url(#cp10)"><g filter="url(#cmE)">
<rect x="-1.0" y="380.5" width="373.7" height="373.8" fill="rgb(43,43,43)"/>
<clipPath id="ce"><ellipse cx="186" cy="560" rx="126" ry="97"/></clipPath>
<g filter="url(#b5)"><ellipse cx="186" cy="560" rx="123" ry="93.5" fill="rgb(204,204,204)" transform="rotate(-2.8 186 560)"/></g>
<g filter="url(#b1_5)"><path d="M132 647 Q186 670 248 643" fill="none" stroke="rgb(133,133,133)" stroke-width="2.6"/></g>
<g clip-path="url(#ce)"><g filter="url(#b5)"><ellipse cx="120" cy="515" rx="50" ry="36" fill="url(#sw)" opacity="0.3"/>
<ellipse cx="270" cy="585" rx="36" ry="40" fill="url(#sw)" opacity="0.35"/>
<ellipse cx="215" cy="625" rx="60" ry="14" fill="url(#sw)" opacity="0.2"/>
<ellipse cx="150" cy="610" rx="50" ry="25" fill="url(#sk)" opacity="0.12"/>
</g></g>
<g filter="url(#b2)"><path d="M146 548 C142 515 170 487 210 486 C246 486 270 504 273.5 528" fill="none" stroke="rgb(255,255,255)" stroke-width="6.5" opacity="0.95"/></g>
<g filter="url(#b2_5)"><ellipse cx="208.5" cy="541.8" rx="62.5" ry="49" fill="rgb(140,140,140)"/></g>
<g filter="url(#b5)"><ellipse cx="238" cy="515" rx="30" ry="25" fill="url(#sk)" opacity="0.3"/>
<ellipse cx="208" cy="560" rx="22" ry="14" fill="url(#sk)" opacity="0.15"/>
</g>
<g filter="url(#b2)"><circle cx="182.6" cy="549.4" r="12.5" fill="rgb(199,199,199)"/><circle cx="234.5" cy="549.4" r="12.5" fill="rgb(199,199,199)"/><circle cx="207.6" cy="522.5" r="10.5" fill="rgb(178,178,178)"/></g>
<g filter="url(#b1_5)"><rect x="184.4" y="597" width="27.6" height="22.3" fill="rgb(133,133,133)"/></g>
<g filter="url(#b1)" fill="rgb(82,82,82)"><rect x="103.4" y="534.2" width="33" height="5"/><rect x="103.4" y="546.7" width="33" height="3.6"/><rect x="103.4" y="556" width="33" height="3.2"/><rect x="103.4" y="561.2" width="33" height="2.8"/></g>
</g></g>
<rect x="1.5" y="383.0" width="368.7" height="368.8" fill="none" stroke="#12021f" stroke-opacity="0.75" stroke-width="1"/>
<use href="#ax" x="0.0" y="382.5"/>
<text class="w" x="12.6" y="420.8" font-size="33.5">e)</text>
<text class="w" x="15.0" y="707.2" font-size="30.6" text-anchor="middle">Y</text>
<text class="w" x="57.8" y="749.5" font-size="30.6" text-anchor="middle">X</text>
<!-- panel f -->
<g clip-path="url(#cp11)"><g filter="url(#cmF)">
<rect x="381.1" y="380.5" width="373.7" height="373.8" fill="rgb(43,43,43)"/>
<clipPath id="cf"><ellipse cx="566.4" cy="558.2" rx="137" ry="104.5"/></clipPath>
<g filter="url(#b2_5)"><ellipse cx="566.4" cy="558.2" rx="136.6" ry="103.8" fill="rgb(199,199,199)"/></g>
<g clip-path="url(#cf)"><g filter="url(#b1_5)"><ellipse cx="566.4" cy="557" rx="132.6" ry="100.4" fill="none" stroke="rgb(255,255,255)" stroke-width="3.2" opacity="0.85" stroke-dasharray="250 600" stroke-dashoffset="-30"/></g>
<g filter="url(#b6)"><ellipse cx="560" cy="480" rx="70" ry="25" fill="url(#sw)" opacity="0.3"/>
<ellipse cx="455" cy="540" rx="22" ry="50" fill="url(#sw)" opacity="0.2"/>
<ellipse cx="690" cy="560" rx="14" ry="50" fill="url(#sw)" opacity="0.2"/>
</g></g>
<g filter="url(#b10)"><ellipse cx="590" cy="551" rx="44" ry="32" fill="rgb(133,133,133)"/></g>
<g filter="url(#b8)"><circle cx="521" cy="602" r="14" fill="rgb(158,158,158)"/></g>
<g filter="url(#b3)"><circle cx="591.8" cy="524" r="8.5" fill="rgb(184,184,184)"/></g>
<g filter="url(#b2)"><rect x="566.4" y="596.4" width="28.3" height="23" fill="rgb(135,135,135)"/></g>
<g filter="url(#b0_6)"><rect x="466.7" y="529" width="2" height="34" fill="rgb(128,128,128)"/><rect x="471.6" y="529" width="2.6" height="34" fill="rgb(107,107,107)"/><rect x="479.4" y="529" width="4.5" height="34" fill="rgb(87,87,87)"/><rect x="491.1" y="529" width="6.5" height="34" fill="rgb(71,71,71)"/></g>
<circle cx="665.7" cy="628.2" r="2.6" fill="rgb(51,51,51)" stroke="rgb(255,255,255)" stroke-width="1.2"/>
</g></g>
<rect x="383.6" y="383.0" width="368.7" height="368.8" fill="none" stroke="#12021f" stroke-opacity="0.75" stroke-width="1"/>
<use href="#ax" x="382.6" y="382.5"/>
<text class="w" x="395.20000000000005" y="420.8" font-size="33.5">f)</text>
<text class="w" x="397.6" y="707.2" font-size="30.6" text-anchor="middle">Y</text>
<text class="w" x="440.40000000000003" y="749.5" font-size="30.6" text-anchor="middle">X</text>
<!-- panel g -->
<g clip-path="url(#cp12)"><g filter="url(#cmG)">
<rect x="763.3" y="380.5" width="373.7" height="373.8" fill="rgb(43,43,43)"/>
<linearGradient id="gG" gradientUnits="userSpaceOnUse" x1="0" y1="500" x2="0" y2="530"><stop offset="0" stop-color="rgb(153,153,153)"/><stop offset="0.5" stop-color="rgb(178,178,178)"/><stop offset="1" stop-color="rgb(189,189,189)"/></linearGradient>
<g filter="url(#b2)"><path d="M846.7 584.2 C847.8 580.4 852.0 574.5 855.4 569.6 C858.8 564.7 863.2 559.6 867.1 555.0 C871.0 550.4 874.9 546.3 878.8 541.9 C882.7 537.5 886.3 532.4 890.4 528.8 C894.5 525.1 899.2 522.7 903.6 520.0 C908.0 517.3 912.3 515.1 916.7 512.7 C921.1 510.3 925.2 507.2 929.8 505.4 C934.4 503.6 938.3 502.6 944.4 501.8 C950.5 501.0 960.2 499.9 966.3 500.3 C972.4 500.7 976.0 502.4 980.9 504.0 C985.8 505.6 990.6 507.6 995.5 509.8 C1000.4 512.0 1005.2 513.9 1010.1 517.1 C1015.0 520.3 1020.3 524.4 1024.7 528.8 C1029.1 533.2 1032.7 538.0 1036.3 543.4 C1039.9 548.8 1043.4 555.3 1046.6 560.9 C1049.8 566.5 1053.0 572.3 1055.3 576.9 C1057.6 581.5 1060.0 585.4 1060.4 588.6 C1060.8 591.8 1061.0 594.3 1057.5 595.9 C1054.0 597.5 1047.2 597.9 1039.3 598.1 C1031.4 598.3 1017.4 597.6 1010.1 597.1 C1002.8 596.6 1002.8 595.3 995.5 595.2 C988.2 595.1 974.8 596.0 966.3 596.6 C957.8 597.2 951.7 598.5 944.4 598.8 C937.1 599.0 929.8 598.6 922.5 598.1 C915.2 597.6 910.4 596.2 900.7 595.6 C891.0 595.0 872.8 595.0 864.2 594.4 C855.6 593.8 851.8 593.9 848.9 592.2 C846.0 590.5 845.6 588.0 846.7 584.2 Z" fill="url(#gG)"/></g>
<clipPath id="dg"><path d="M846.7 584.2 C847.8 580.4 852.0 574.5 855.4 569.6 C858.8 564.7 863.2 559.6 867.1 555.0 C871.0 550.4 874.9 546.3 878.8 541.9 C882.7 537.5 886.3 532.4 890.4 528.8 C894.5 525.1 899.2 522.7 903.6 520.0 C908.0 517.3 912.3 515.1 916.7 512.7 C921.1 510.3 925.2 507.2 929.8 505.4 C934.4 503.6 938.3 502.6 944.4 501.8 C950.5 501.0 960.2 499.9 966.3 500.3 C972.4 500.7 976.0 502.4 980.9 504.0 C985.8 505.6 990.6 507.6 995.5 509.8 C1000.4 512.0 1005.2 513.9 1010.1 517.1 C1015.0 520.3 1020.3 524.4 1024.7 528.8 C1029.1 533.2 1032.7 538.0 1036.3 543.4 C1039.9 548.8 1043.4 555.3 1046.6 560.9 C1049.8 566.5 1053.0 572.3 1055.3 576.9 C1057.6 581.5 1060.0 585.4 1060.4 588.6 C1060.8 591.8 1061.0 594.3 1057.5 595.9 C1054.0 597.5 1047.2 597.9 1039.3 598.1 C1031.4 598.3 1017.4 597.6 1010.1 597.1 C1002.8 596.6 1002.8 595.3 995.5 595.2 C988.2 595.1 974.8 596.0 966.3 596.6 C957.8 597.2 951.7 598.5 944.4 598.8 C937.1 599.0 929.8 598.6 922.5 598.1 C915.2 597.6 910.4 596.2 900.7 595.6 C891.0 595.0 872.8 595.0 864.2 594.4 C855.6 593.8 851.8 593.9 848.9 592.2 C846.0 590.5 845.6 588.0 846.7 584.2 Z"/></clipPath>
<g clip-path="url(#dg)"><g filter="url(#b2_5)">
<ellipse cx="883" cy="565" rx="52" ry="11" fill="url(#sw)" opacity="0.7" transform="rotate(-37 883 565)"/>
<ellipse cx="918" cy="547" rx="12" ry="9" fill="url(#sw)" opacity="0.7"/>
<ellipse cx="1050.5" cy="573" rx="4.5" ry="22" fill="url(#sw)" opacity="1.0" transform="rotate(-27 1050.5 573)"/>
<ellipse cx="1020" cy="545" rx="20" ry="8" fill="url(#sw)" opacity="0.3" transform="rotate(40 1020 545)"/>
<ellipse cx="996" cy="565" rx="20" ry="20" fill="url(#sk)" opacity="0.3"/>
<ellipse cx="890" cy="535" rx="30" ry="8" fill="url(#sk)" opacity="0.3" transform="rotate(-40 890 535)"/>
</g></g>
<g filter="url(#b1)"><ellipse cx="936.5" cy="546" rx="3.5" ry="7" fill="url(#sw)" opacity="0.7"/>
<ellipse cx="947" cy="546" rx="2.5" ry="7" fill="url(#sw)" opacity="0.5"/>
</g>
<g filter="url(#b1)"><rect x="928.4" y="539.5" width="3.8" height="13.5" fill="rgb(102,102,102)"/><rect x="940.8" y="540" width="3" height="12" fill="rgb(115,115,115)"/><rect x="950.2" y="540" width="2.2" height="12" fill="rgb(133,133,133)"/><rect x="955.4" y="540" width="2" height="12" fill="rgb(143,143,143)"/></g>
</g></g>
<rect x="765.8" y="383.0" width="368.7" height="368.8" fill="none" stroke="#12021f" stroke-opacity="0.75" stroke-width="1"/>
<use href="#ax" x="764.8" y="382.5"/>
<text class="w" x="777.4" y="420.8" font-size="33.5">g)</text>
<text class="w" x="779.8" y="707.2" font-size="30.6" text-anchor="middle">Z</text>
<text class="w" x="822.5999999999999" y="749.5" font-size="30.6" text-anchor="middle">Y</text>
<!-- panel h -->
<g clip-path="url(#cp13)"><g filter="url(#cmH)">
<rect x="1145.4" y="380.5" width="373.7" height="373.8" fill="rgb(43,43,43)"/>
<linearGradient id="gH" gradientUnits="userSpaceOnUse" x1="0" y1="488" x2="0" y2="520"><stop offset="0" stop-color="rgb(153,153,153)"/><stop offset="0.5" stop-color="rgb(176,176,176)"/><stop offset="1" stop-color="rgb(186,186,186)"/></linearGradient>
<g filter="url(#b2)"><path d="M1215.2 577.1 C1216.3 573.7 1219.6 569.6 1222.5 565.5 C1225.4 561.4 1229.0 556.7 1232.7 552.3 C1236.4 547.9 1240.3 543.6 1244.4 539.2 C1248.5 534.8 1252.9 530.0 1257.5 526.1 C1262.1 522.2 1267.2 519.1 1272.1 515.9 C1277.0 512.7 1281.8 510.0 1286.7 507.1 C1291.6 504.2 1296.4 500.9 1301.3 498.3 C1306.2 495.8 1311.3 493.4 1315.9 491.8 C1320.5 490.2 1324.4 489.0 1329.0 488.9 C1333.6 488.8 1338.7 489.7 1343.6 491.0 C1348.5 492.3 1353.3 494.8 1358.2 496.9 C1363.1 499.0 1367.9 500.8 1372.8 503.5 C1377.7 506.2 1383.0 509.4 1387.4 512.9 C1391.8 516.4 1395.1 520.2 1399.0 524.6 C1402.9 529.0 1407.0 534.1 1410.7 539.2 C1414.4 544.3 1417.7 549.9 1420.9 555.2 C1424.1 560.6 1427.4 566.2 1429.7 571.3 C1432.0 576.4 1433.8 582.2 1434.8 585.9 C1435.8 589.5 1436.8 591.1 1435.5 593.2 C1434.2 595.3 1432.4 597.4 1426.8 598.3 C1421.2 599.1 1411.0 598.7 1402.0 598.3 C1393.0 597.9 1381.3 596.6 1372.8 596.1 C1364.3 595.6 1358.2 595.8 1350.9 595.4 C1343.6 595.0 1335.1 594.5 1329.0 593.9 C1322.9 593.3 1319.3 591.8 1314.4 591.7 C1309.5 591.6 1305.9 592.7 1299.8 593.2 C1293.7 593.7 1286.5 594.9 1278.0 594.9 C1269.5 594.9 1258.5 594.1 1248.8 593.5 C1239.1 592.9 1225.1 592.3 1219.6 591.0 C1214.1 589.7 1216.6 588.2 1215.9 585.9 C1215.2 583.6 1214.1 580.5 1215.2 577.1 Z" fill="url(#gH)"/></g>
<g filter="url(#b1_5)"><path d="M1395 512 C1415 530 1430 560 1438 585" fill="none" stroke="rgb(82,82,82)" stroke-width="1.5"/></g>
<clipPath id="dh"><path d="M1215.2 577.1 C1216.3 573.7 1219.6 569.6 1222.5 565.5 C1225.4 561.4 1229.0 556.7 1232.7 552.3 C1236.4 547.9 1240.3 543.6 1244.4 539.2 C1248.5 534.8 1252.9 530.0 1257.5 526.1 C1262.1 522.2 1267.2 519.1 1272.1 515.9 C1277.0 512.7 1281.8 510.0 1286.7 507.1 C1291.6 504.2 1296.4 500.9 1301.3 498.3 C1306.2 495.8 1311.3 493.4 1315.9 491.8 C1320.5 490.2 1324.4 489.0 1329.0 488.9 C1333.6 488.8 1338.7 489.7 1343.6 491.0 C1348.5 492.3 1353.3 494.8 1358.2 496.9 C1363.1 499.0 1367.9 500.8 1372.8 503.5 C1377.7 506.2 1383.0 509.4 1387.4 512.9 C1391.8 516.4 1395.1 520.2 1399.0 524.6 C1402.9 529.0 1407.0 534.1 1410.7 539.2 C1414.4 544.3 1417.7 549.9 1420.9 555.2 C1424.1 560.6 1427.4 566.2 1429.7 571.3 C1432.0 576.4 1433.8 582.2 1434.8 585.9 C1435.8 589.5 1436.8 591.1 1435.5 593.2 C1434.2 595.3 1432.4 597.4 1426.8 598.3 C1421.2 599.1 1411.0 598.7 1402.0 598.3 C1393.0 597.9 1381.3 596.6 1372.8 596.1 C1364.3 595.6 1358.2 595.8 1350.9 595.4 C1343.6 595.0 1335.1 594.5 1329.0 593.9 C1322.9 593.3 1319.3 591.8 1314.4 591.7 C1309.5 591.6 1305.9 592.7 1299.8 593.2 C1293.7 593.7 1286.5 594.9 1278.0 594.9 C1269.5 594.9 1258.5 594.1 1248.8 593.5 C1239.1 592.9 1225.1 592.3 1219.6 591.0 C1214.1 589.7 1216.6 588.2 1215.9 585.9 C1215.2 583.6 1214.1 580.5 1215.2 577.1 Z"/></clipPath>
<g clip-path="url(#dh)">
<g filter="url(#b2)"><ellipse cx="1238" cy="561" rx="32" ry="9" fill="url(#sw)" opacity="1.0" transform="rotate(-40 1238 561)"/>
<ellipse cx="1251" cy="550" rx="10" ry="10" fill="url(#sw)" opacity="1.0"/>
<ellipse cx="1425" cy="567" rx="4.5" ry="26" fill="url(#sw)" opacity="1.0" transform="rotate(-29 1425 567)"/>
<ellipse cx="1313" cy="591" rx="20" ry="4" fill="url(#sw)" opacity="0.8"/>
<ellipse cx="1361" cy="538" rx="3.5" ry="10" fill="url(#sw)" opacity="0.7"/>
<ellipse cx="1402" cy="548" rx="10" ry="25" fill="url(#sw)" opacity="0.25" transform="rotate(-30 1402 548)"/>
</g>
<g filter="url(#b5)"><ellipse cx="1314" cy="551" rx="36" ry="27" fill="rgb(145,145,145)"/></g>
<g filter="url(#b3)"><ellipse cx="1314.4" cy="545" rx="12.5" ry="14.5" fill="rgb(214,214,214)"/></g>
<g filter="url(#b2)"><rect x="1363.5" y="542" width="22" height="24" fill="rgb(143,143,143)"/></g>
<g filter="url(#b1_5)"><rect x="1363.3" y="532.6" width="22.6" height="9.5" fill="rgb(84,84,84)"/></g>
</g>
</g></g>
<rect x="1147.9" y="383.0" width="368.7" height="368.8" fill="none" stroke="#12021f" stroke-opacity="0.75" stroke-width="1"/>
<use href="#ax" x="1146.9" y="382.5"/>
<text class="w" x="1159.5" y="420.8" font-size="33.5">h)</text>
<text class="w" x="1161.9" y="707.2" font-size="30.6" text-anchor="middle">Z</text>
<text class="w" x="1204.7" y="749.5" font-size="30.6" text-anchor="middle">Y</text>
<!-- colour bar -->
<rect x="1529.3" y="382.5" width="49.4" height="369.8" fill="url(#cbar)" stroke="#262626" stroke-width="1"/>
<path d="M1574.5 438 H1578.7" stroke="#262626" stroke-width="1"/>
<text class="k" x="1588.6" y="449.5" font-size="32.6">1.52</text>
<text class="k" x="1588.6" y="764.5" font-size="32.6">1.48</text>
<!-- plot i) -->
<clipPath id="pc0"><rect x="1.0" y="764.6" width="369.7" height="369.80000000000007"/></clipPath>
<rect x="1.0" y="764.6" width="369.7" height="369.80000000000007" fill="#fff"/>
<path d="M41.8 764.6 V1134.4 M185.2 764.6 V1134.4 M328.7 764.6 V1134.4 M1.0 875.1 H370.7 M1.0 939.8 H370.7 M1.0 1004.6 H370.7 M1.0 1069.4 H370.7 " stroke="#dfdfdf" stroke-width="1" fill="none"/>
<g clip-path="url(#pc0)">
<path d="M0.9 1134.4 L0.9 1084.0 L66.8 1084.0 L68.1 897.7 L68.7 896.2 L100.0 896.2 L100.9 897.7 L104.6 1080.9 L134.6 1080.9 L135.5 897.7 L136.2 896.2 L145.4 896.2 L146.4 897.7 L147.9 989.0 L149.2 990.5 L166.5 990.5 L167.4 989.0 L169.0 897.7 L169.6 896.2 L193.4 896.2 L194.3 897.7 L195.6 989.0 L196.8 990.5 L219.1 990.5 L220.0 989.0 L221.9 897.7 L222.8 896.2 L246.9 896.2 L247.9 897.7 L249.4 989.0 L250.6 990.5 L270.1 990.5 L271.1 989.0 L272.3 897.7 L272.9 896.2 L298.9 896.2 L300.8 899.2 L304.5 1081.8 L305.7 1084.0 L370.7 1084.0 L370.7 1134.4 Z" fill="#d9d9d9" stroke="#000" stroke-width="0.7" stroke-linejoin="round"/>
<path d="M1.3 1084.0 L2.5 1084.0 L3.9 1084.0 L5.4 1084.0 L6.9 1084.0 L8.4 1084.0 L9.9 1084.0 L11.4 1084.0 L12.9 1084.0 L14.4 1084.0 L15.9 1084.0 L17.4 1084.0 L18.9 1084.0 L20.4 1084.0 L21.9 1084.0 L23.4 1084.0 L24.9 1084.0 L26.4 1084.0 L27.9 1084.0 L29.4 1084.0 L30.9 1084.0 L32.4 1084.0 L33.9 1084.0 L35.4 1084.0 L36.9 1084.0 L38.4 1084.0 L39.9 1084.0 L41.4 1084.0 L42.9 1084.0 L44.4 1084.0 L45.9 1084.0 L47.4 1083.9 L48.9 1083.7 L50.4 1083.5 L51.9 1083.3 L53.4 1083.1 L54.9 1082.9 L56.4 1082.7 L57.8 1082.5 L59.2 1082.0 L60.4 1081.2 L61.6 1080.2 L62.7 1079.3 L63.3 1078.1 L63.5 1076.6 L63.6 1075.1 L63.7 1073.6 L63.8 1072.1 L63.9 1070.6 L64.0 1069.1 L64.0 1067.7 L64.1 1066.2 L64.2 1064.7 L64.3 1063.2 L64.4 1061.7 L64.4 1060.2 L64.5 1058.7 L64.6 1057.2 L64.7 1055.7 L64.8 1054.2 L64.8 1052.7 L64.9 1051.2 L65.0 1049.7 L65.1 1048.2 L65.2 1046.7 L65.2 1045.2 L65.3 1043.7 L65.4 1042.2 L65.5 1040.7 L65.6 1039.2 L65.6 1037.7 L65.7 1036.2 L65.7 1034.7 L65.8 1033.2 L65.8 1031.7 L65.9 1030.2 L65.9 1028.7 L65.9 1027.2 L66.0 1025.7 L66.0 1024.2 L66.1 1022.7 L66.1 1021.2 L66.2 1019.7 L66.2 1018.2 L66.3 1016.7 L66.3 1015.2 L66.3 1013.7 L66.4 1012.2 L66.4 1010.7 L66.5 1009.2 L66.5 1007.7 L66.6 1006.2 L66.6 1004.7 L66.7 1003.2 L66.7 1001.7 L66.8 1000.2 L66.8 998.7 L66.8 997.2 L66.9 995.7 L66.9 994.2 L67.0 992.7 L67.0 991.2 L67.1 989.7 L67.1 988.2 L67.2 986.7 L67.2 985.2 L67.2 983.7 L67.3 982.2 L67.3 980.7 L67.4 979.2 L67.4 977.7 L67.5 976.2 L67.5 974.7 L67.6 973.2 L67.6 971.7 L67.7 970.2 L67.7 968.7 L67.8 967.2 L67.8 965.7 L67.9 964.2 L67.9 962.7 L68.0 961.2 L68.0 959.7 L68.1 958.2 L68.2 956.7 L68.2 955.2 L68.3 953.7 L68.3 952.2 L68.4 950.7 L68.4 949.2 L68.5 947.7 L68.5 946.2 L68.6 944.7 L68.6 943.2 L68.7 941.7 L68.7 940.2 L68.8 938.7 L68.8 937.2 L68.9 935.7 L68.9 934.2 L69.0 932.7 L69.0 931.2 L69.1 929.7 L69.2 928.2 L69.2 926.8 L69.3 925.3 L69.3 923.8 L69.4 922.3 L69.4 920.8 L69.5 919.3 L69.5 917.8 L69.6 916.3 L69.6 914.8 L69.8 913.3 L69.9 911.8 L70.0 910.3 L70.1 908.8 L70.3 907.3 L70.4 905.8 L70.5 904.3 L70.7 902.8 L70.8 901.3 L70.9 899.8 L71.1 898.3 L71.2 896.8 L71.3 895.3 L71.5 893.8 L71.6 892.3 L71.7 890.9 L72.0 889.4 L72.4 888.0 L72.9 886.5 L73.3 885.1 L73.8 883.7 L74.5 882.4 L75.6 881.6 L77.0 881.0 L78.4 880.4 L79.7 879.8 L81.1 879.4 L82.5 879.7 L83.9 880.2 L85.1 880.1 L86.0 879.2 L86.9 878.0 L87.7 876.9 L88.6 876.8 L89.5 877.7 L90.5 878.5 L91.6 878.4 L92.7 877.5 L93.4 876.2 L93.9 874.8 L94.5 873.4 L95.1 872.0 L95.6 870.6 L96.4 869.3 L97.3 868.1 L98.2 867.0 L99.2 866.3 L100.3 866.7 L100.9 867.8 L101.0 869.3 L101.1 870.8 L101.2 872.3 L101.3 873.8 L101.3 875.3 L101.4 876.8 L101.5 878.3 L101.6 879.8 L101.7 881.3 L101.7 882.8 L101.8 884.3 L101.9 885.7 L102.0 887.2 L102.0 888.7 L102.1 890.2 L102.1 891.7 L102.2 893.2 L102.2 894.7 L102.2 896.2 L102.2 897.7 L102.3 899.2 L102.3 900.7 L102.3 902.2 L102.3 903.7 L102.4 905.2 L102.4 906.7 L102.4 908.2 L102.4 909.7 L102.5 911.2 L102.5 912.7 L102.5 914.2 L102.5 915.7 L102.6 917.2 L102.6 918.7 L102.6 920.2 L102.6 921.7 L102.7 923.2 L102.7 924.7 L102.7 926.2 L102.7 927.7 L102.8 929.2 L102.8 930.7 L102.8 932.2 L102.8 933.7 L102.9 935.2 L102.9 936.7 L102.9 938.2 L102.9 939.7 L103.0 941.2 L103.0 942.7 L103.0 944.2 L103.0 945.7 L103.1 947.2 L103.1 948.7 L103.1 950.2 L103.1 951.7 L103.2 953.2 L103.2 954.7 L103.2 956.2 L103.2 957.7 L103.2 959.2 L103.3 960.7 L103.3 962.2 L103.3 963.7 L103.3 965.2 L103.4 966.7 L103.4 968.2 L103.4 969.7 L103.4 971.2 L103.5 972.7 L103.5 974.2 L103.5 975.7 L103.5 977.2 L103.5 978.7 L103.6 980.2 L103.6 981.7 L103.6 983.2 L103.6 984.7 L103.7 986.2 L103.7 987.7 L103.7 989.2 L103.7 990.7 L103.7 992.2 L103.8 993.7 L103.8 995.2 L103.8 996.7 L103.8 998.2 L103.9 999.7 L103.9 1001.2 L103.9 1002.7 L103.9 1004.2 L103.9 1005.7 L104.0 1007.2 L104.0 1008.7 L104.1 1010.2 L104.1 1011.7 L104.2 1013.2 L104.2 1014.7 L104.3 1016.2 L104.3 1017.7 L104.4 1019.2 L104.4 1020.7 L104.5 1022.2 L104.5 1023.7 L104.6 1025.2 L104.6 1026.7 L104.7 1028.2 L104.7 1029.7 L104.8 1031.2 L104.8 1032.7 L104.9 1034.2 L104.9 1035.7 L105.0 1037.2 L105.0 1038.7 L105.1 1040.2 L105.1 1041.7 L105.2 1043.2 L105.3 1044.7 L105.5 1046.2 L105.8 1047.6 L106.1 1049.1 L106.4 1050.6 L106.7 1051.6 L107.1 1051.2 L107.5 1049.9 L107.9 1048.4 L108.3 1047.0 L108.7 1045.6 L109.2 1044.2 L109.9 1042.8 L110.5 1041.5 L111.2 1040.1 L112.0 1039.1 L113.2 1038.8 L114.6 1039.1 L116.0 1039.1 L117.2 1038.4 L118.3 1037.4 L119.5 1036.5 L120.6 1035.5 L121.9 1034.6 L123.1 1033.8 L124.4 1033.4 L125.6 1033.7 L126.9 1034.5 L128.1 1035.3 L129.2 1036.3 L130.2 1037.5 L131.2 1038.6 L132.1 1039.3 L132.6 1038.9 L132.9 1037.5 L133.2 1036.1 L133.5 1034.6 L133.8 1033.1 L134.0 1031.6 L134.0 1030.1 L134.1 1028.6 L134.1 1027.1 L134.1 1025.6 L134.1 1024.1 L134.2 1022.6 L134.2 1021.1 L134.2 1019.6 L134.2 1018.1 L134.3 1016.6 L134.3 1015.1 L134.3 1013.6 L134.3 1012.1 L134.4 1010.6 L134.4 1009.1 L134.4 1007.6 L134.4 1006.1 L134.5 1004.6 L134.5 1003.1 L134.5 1001.6 L134.5 1000.1 L134.6 998.6 L134.6 997.1 L134.6 995.6 L134.6 994.1 L134.7 992.6 L134.7 991.1 L134.7 989.6 L134.7 988.1 L134.8 986.6 L134.8 985.1 L134.8 983.6 L134.8 982.1 L134.9 980.6 L134.9 979.1 L134.9 977.6 L134.9 976.1 L134.9 974.6 L135.0 973.1 L135.0 971.6 L135.0 970.1 L135.0 968.6 L135.0 967.1 L135.0 965.6 L135.0 964.1 L135.1 962.6 L135.1 961.1 L135.1 959.6 L135.1 958.1 L135.1 956.6 L135.1 955.1 L135.1 953.6 L135.2 952.1 L135.2 950.6 L135.2 949.1 L135.2 947.6 L135.2 946.1 L135.2 944.6 L135.3 943.1 L135.3 941.6 L135.3 940.1 L135.3 938.6 L135.3 937.1 L135.3 935.6 L135.3 934.1 L135.4 932.6 L135.4 931.1 L135.4 929.6 L135.4 928.1 L135.4 926.6 L135.4 925.1 L135.4 923.6 L135.5 922.1 L135.5 920.6 L135.5 919.1 L135.5 917.6 L135.5 916.1 L135.5 914.6 L135.6 913.1 L135.6 911.6 L135.6 910.1 L135.6 908.6 L135.6 907.1 L135.7 905.6 L135.7 904.1 L135.7 902.6 L135.7 901.1 L135.7 899.6 L135.8 898.1 L135.8 896.6 L135.8 895.1 L135.8 893.6 L135.8 892.1 L135.9 890.6 L135.9 889.1 L135.9 887.6 L135.9 886.1 L135.9 884.6 L136.0 883.1 L136.0 881.6 L136.0 880.1 L136.0 878.6 L136.0 877.1 L136.1 875.6 L136.1 874.1 L136.1 872.6 L136.1 871.1 L136.1 869.6 L136.2 868.1 L136.3 866.6 L136.3 865.1 L136.4 863.6 L136.5 862.2 L136.6 860.7 L136.7 859.2 L136.8 857.7 L136.9 856.2 L137.0 854.7 L137.2 853.2 L137.6 851.8 L138.2 850.4 L138.9 849.1 L139.8 848.2 L140.9 848.2 L141.7 849.2 L142.5 850.5 L143.0 851.9 L143.3 853.3 L143.5 854.8 L143.7 856.3 L143.9 857.8 L144.1 859.3 L144.3 860.8 L144.5 862.3 L144.6 863.8 L144.6 865.3 L144.7 866.8 L144.8 868.2 L144.8 869.7 L144.9 871.2 L145.0 872.7 L145.0 874.2 L145.1 875.7 L145.2 877.2 L145.2 878.7 L145.3 880.2 L145.4 881.7 L145.4 883.2 L145.5 884.7 L145.5 886.2 L145.6 887.7 L145.6 889.2 L145.7 890.7 L145.7 892.2 L145.7 893.7 L145.8 895.2 L145.8 896.7 L145.9 898.2 L145.9 899.7 L146.0 901.2 L146.0 902.7 L146.1 904.2 L146.1 905.7 L146.2 907.2 L146.2 908.7 L146.3 910.2 L146.3 911.7 L146.4 913.2 L146.4 914.7 L146.5 916.2 L146.5 917.7 L146.5 919.2 L146.6 920.7 L146.6 922.2 L146.7 923.7 L146.7 925.2 L146.8 926.7 L146.8 928.2 L146.9 929.7 L146.9 931.2 L147.0 932.7 L147.0 934.2 L147.1 935.7 L147.2 937.2 L147.3 938.7 L147.4 940.2 L147.5 941.7 L147.6 943.2 L147.7 944.7 L147.8 946.2 L147.9 947.7 L148.0 949.2 L148.1 950.7 L148.2 952.2 L148.3 953.7 L148.4 955.2 L148.5 956.7 L148.7 958.1 L149.1 959.6 L149.5 961.0 L150.0 962.4 L150.5 963.8 L150.9 965.3 L151.5 966.7 L152.1 968.0 L152.9 969.3 L153.8 970.5 L154.6 971.8 L155.4 973.0 L156.2 974.3 L157.1 975.5 L157.9 976.8 L158.7 978.0 L159.6 979.3 L160.4 980.5 L161.2 981.7 L162.1 983.0 L162.9 984.2 L163.7 985.5 L164.6 986.7 L165.4 988.0 L166.2 989.2 L166.9 989.8 L167.1 989.0 L167.2 987.6 L167.2 986.1 L167.2 984.6 L167.3 983.1 L167.3 981.6 L167.3 980.1 L167.3 978.6 L167.4 977.1 L167.4 975.6 L167.4 974.1 L167.5 972.6 L167.5 971.1 L167.5 969.6 L167.6 968.1 L167.6 966.6 L167.6 965.1 L167.7 963.6 L167.7 962.1 L167.7 960.6 L167.8 959.1 L167.8 957.6 L167.8 956.1 L167.8 954.6 L167.9 953.1 L167.9 951.6 L167.9 950.1 L168.0 948.6 L168.0 947.1 L168.0 945.6 L168.1 944.1 L168.1 942.6 L168.1 941.1 L168.1 939.6 L168.2 938.1 L168.2 936.6 L168.2 935.1 L168.3 933.6 L168.3 932.1 L168.3 930.6 L168.4 929.1 L168.4 927.6 L168.4 926.1 L168.4 924.6 L168.5 923.1 L168.5 921.6 L168.5 920.1 L168.6 918.6 L168.6 917.1 L168.6 915.6 L168.7 914.1 L168.7 912.6 L168.7 911.1 L168.7 909.6 L168.8 908.1 L168.8 906.6 L168.8 905.1 L168.9 903.6 L168.9 902.1 L168.9 900.6 L169.0 899.1 L169.0 897.6 L169.1 896.1 L169.2 894.6 L169.3 893.1 L169.4 891.6 L169.5 890.1 L169.5 888.6 L169.6 887.1 L169.7 885.6 L169.8 884.1 L170.0 882.7 L170.9 881.7 L172.1 880.9 L173.4 880.2 L174.8 879.8 L176.3 879.5 L177.8 879.2 L179.3 879.1 L180.8 879.1 L182.2 879.3 L183.6 879.7 L184.9 880.4 L186.3 881.1 L187.5 881.9 L188.6 882.9 L189.7 883.9 L190.8 884.9 L192.0 885.9 L193.0 886.9 L193.4 888.2 L193.5 889.7 L193.5 891.2 L193.6 892.7 L193.6 894.2 L193.7 895.7 L193.7 897.1 L193.8 898.6 L193.8 900.1 L193.9 901.6 L193.9 903.1 L194.0 904.6 L194.0 906.1 L194.1 907.6 L194.1 909.1 L194.2 910.6 L194.2 912.1 L194.3 913.6 L194.3 915.1 L194.4 916.6 L194.4 918.1 L194.4 919.6 L194.5 921.1 L194.5 922.6 L194.5 924.1 L194.5 925.6 L194.6 927.1 L194.6 928.6 L194.6 930.1 L194.7 931.6 L194.7 933.1 L194.7 934.6 L194.8 936.1 L194.8 937.6 L194.8 939.1 L194.8 940.6 L194.9 942.1 L194.9 943.6 L194.9 945.1 L195.0 946.6 L195.0 948.1 L195.0 949.6 L195.1 951.1 L195.1 952.6 L195.1 954.1 L195.1 955.6 L195.2 957.1 L195.2 958.6 L195.2 960.1 L195.3 961.6 L195.3 963.1 L195.4 964.6 L195.5 966.1 L195.5 967.6 L195.6 969.1 L195.7 970.6 L195.7 972.1 L195.8 973.6 L195.8 975.1 L195.9 976.6 L196.0 978.1 L196.0 979.6 L196.1 981.1 L196.2 982.6 L196.2 984.1 L196.3 985.6 L196.4 987.1 L196.4 988.6 L196.7 989.9 L197.6 990.5 L199.0 990.4 L200.3 989.8 L201.3 988.8 L202.4 987.7 L203.5 986.7 L204.5 985.6 L205.7 984.7 L207.0 984.1 L208.4 984.0 L209.8 984.3 L211.1 984.9 L212.2 985.9 L213.0 987.1 L213.8 988.4 L214.5 989.7 L215.2 991.0 L215.9 992.4 L216.5 993.7 L217.1 995.1 L217.7 996.4 L218.3 996.9 L219.1 996.1 L219.6 994.8 L219.7 993.4 L219.8 991.9 L219.8 990.4 L219.8 988.9 L219.9 987.4 L219.9 985.9 L219.9 984.4 L219.9 982.9 L220.0 981.4 L220.0 979.9 L220.0 978.4 L220.0 976.9 L220.1 975.4 L220.1 973.9 L220.1 972.4 L220.2 970.9 L220.2 969.4 L220.2 967.9 L220.2 966.4 L220.3 964.9 L220.3 963.4 L220.3 961.9 L220.4 960.4 L220.4 958.9 L220.4 957.4 L220.4 955.9 L220.5 954.4 L220.5 952.9 L220.5 951.4 L220.6 949.9 L220.6 948.4 L220.6 946.9 L220.6 945.4 L220.7 943.9 L220.7 942.4 L220.7 940.9 L220.8 939.4 L220.8 937.9 L220.8 936.4 L220.8 934.9 L220.9 933.4 L220.9 931.9 L220.9 930.4 L221.0 928.9 L221.0 927.4 L221.0 925.9 L221.1 924.4 L221.1 922.9 L221.1 921.4 L221.1 919.9 L221.2 918.4 L221.2 916.9 L221.2 915.4 L221.3 913.9 L221.3 912.4 L221.3 910.9 L221.4 909.4 L221.4 907.9 L221.4 906.4 L221.4 904.9 L221.5 903.4 L221.5 901.9 L221.5 900.4 L221.6 898.9 L221.7 897.4 L221.9 895.9 L222.0 894.4 L222.2 892.9 L222.3 891.4 L222.5 889.9 L222.7 888.4 L223.1 887.1 L224.1 886.1 L225.3 885.4 L226.6 884.6 L227.9 883.8 L229.2 883.0 L230.4 882.2 L231.7 881.4 L232.9 880.6 L234.2 879.8 L235.5 879.0 L236.7 878.1 L238.0 877.3 L239.2 876.5 L240.5 875.7 L241.8 874.9 L243.1 874.1 L244.3 873.4 L245.6 872.7 L246.5 872.7 L246.8 873.9 L246.9 875.4 L247.0 876.9 L247.1 878.4 L247.2 879.8 L247.4 881.3 L247.5 882.8 L247.6 884.3 L247.6 885.8 L247.6 887.3 L247.6 888.8 L247.6 890.3 L247.7 891.8 L247.7 893.3 L247.7 894.8 L247.7 896.3 L247.7 897.8 L247.8 899.3 L247.8 900.8 L247.8 902.3 L247.8 903.8 L247.8 905.3 L247.9 906.8 L247.9 908.3 L247.9 909.8 L247.9 911.3 L247.9 912.8 L248.0 914.3 L248.0 915.8 L248.0 917.3 L248.0 918.8 L248.0 920.3 L248.1 921.8 L248.1 923.3 L248.1 924.8 L248.1 926.3 L248.1 927.8 L248.2 929.3 L248.2 930.8 L248.2 932.3 L248.3 933.8 L248.3 935.3 L248.4 936.8 L248.4 938.3 L248.5 939.8 L248.5 941.3 L248.6 942.8 L248.6 944.3 L248.6 945.8 L248.7 947.3 L248.7 948.8 L248.8 950.3 L248.8 951.8 L248.9 953.3 L248.9 954.8 L249.0 956.3 L249.0 957.8 L249.0 959.3 L249.1 960.8 L249.2 962.3 L249.4 963.8 L249.6 965.3 L249.7 966.8 L249.9 968.3 L250.1 969.8 L250.2 971.3 L250.4 972.7 L250.6 974.0 L251.2 974.3 L252.2 973.5 L253.2 972.5 L254.2 971.3 L255.1 970.2 L256.1 969.0 L257.1 967.9 L258.3 967.0 L259.5 966.2 L260.8 965.4 L262.1 964.9 L263.6 964.9 L265.1 964.8 L266.2 964.2 L266.8 963.0 L267.3 961.6 L267.8 960.2 L268.3 958.7 L268.6 957.3 L268.7 955.8 L268.8 954.3 L268.8 952.8 L268.9 951.3 L269.0 949.8 L269.0 948.3 L269.1 946.8 L269.2 945.3 L269.2 943.8 L269.3 942.3 L269.4 940.8 L269.4 939.3 L269.5 937.8 L269.6 936.3 L269.6 934.8 L269.7 933.3 L269.8 931.8 L269.8 930.3 L269.9 928.8 L269.9 927.3 L270.0 925.8 L270.1 924.3 L270.1 922.8 L270.2 921.3 L270.2 919.8 L270.3 918.3 L270.3 916.8 L270.4 915.3 L270.5 913.8 L270.5 912.3 L270.6 910.8 L270.6 909.3 L270.7 907.8 L270.8 906.3 L270.8 904.8 L270.9 903.3 L270.9 901.8 L271.0 900.3 L271.0 898.8 L271.1 897.3 L271.2 895.8 L271.2 894.3 L271.3 892.8 L271.3 891.3 L271.4 889.9 L271.5 888.4 L271.7 886.9 L271.8 885.4 L272.0 883.9 L272.1 882.4 L272.3 880.9 L272.4 879.4 L272.6 877.9 L272.7 876.4 L273.1 875.1 L274.1 874.6 L275.5 874.5 L276.9 874.7 L278.3 875.2 L279.6 875.9 L280.9 876.5 L282.1 876.3 L283.2 875.4 L284.3 874.4 L285.6 874.1 L287.1 874.2 L288.5 874.5 L289.8 875.1 L290.9 876.1 L292.0 877.1 L293.0 878.2 L294.0 879.3 L294.7 880.6 L295.4 882.0 L296.1 883.3 L296.7 884.7 L297.2 886.1 L297.5 887.5 L297.8 889.0 L298.1 890.5 L298.4 891.9 L298.7 893.4 L299.0 894.9 L299.2 896.4 L299.3 897.9 L299.4 899.4 L299.4 900.8 L299.5 902.3 L299.6 903.8 L299.7 905.3 L299.7 906.8 L299.8 908.3 L299.9 909.8 L299.9 911.3 L300.0 912.8 L300.1 914.3 L300.1 915.8 L300.2 917.3 L300.3 918.8 L300.3 920.3 L300.4 921.8 L300.5 923.3 L300.5 924.8 L300.6 926.3 L300.7 927.8 L300.7 929.3 L300.8 930.8 L300.8 932.3 L300.9 933.8 L300.9 935.3 L300.9 936.8 L301.0 938.3 L301.0 939.8 L301.1 941.3 L301.1 942.8 L301.1 944.3 L301.2 945.8 L301.2 947.3 L301.2 948.8 L301.3 950.3 L301.3 951.8 L301.4 953.3 L301.4 954.8 L301.4 956.3 L301.5 957.8 L301.5 959.3 L301.5 960.8 L301.6 962.3 L301.6 963.8 L301.7 965.3 L301.7 966.8 L301.7 968.3 L301.8 969.8 L301.8 971.3 L301.8 972.8 L301.9 974.3 L301.9 975.8 L302.0 977.3 L302.0 978.8 L302.0 980.3 L302.1 981.8 L302.1 983.3 L302.1 984.8 L302.2 986.3 L302.2 987.8 L302.3 989.3 L302.3 990.8 L302.3 992.3 L302.4 993.8 L302.4 995.3 L302.4 996.8 L302.5 998.3 L302.5 999.8 L302.6 1001.3 L302.6 1002.8 L302.6 1004.3 L302.7 1005.8 L302.7 1007.3 L302.7 1008.8 L302.8 1010.3 L302.8 1011.8 L302.9 1013.3 L302.9 1014.8 L302.9 1016.3 L303.0 1017.8 L303.0 1019.3 L303.0 1020.8 L303.1 1022.3 L303.1 1023.8 L303.2 1025.3 L303.2 1026.8 L303.2 1028.3 L303.3 1029.8 L303.3 1031.3 L303.3 1032.8 L303.4 1034.3 L303.4 1035.8 L303.5 1037.3 L303.5 1038.8 L303.5 1040.3 L303.6 1041.8 L303.6 1043.3 L303.6 1044.8 L303.7 1046.3 L303.7 1047.8 L303.8 1049.3 L303.8 1050.8 L303.8 1052.3 L303.9 1053.8 L303.9 1055.3 L304.0 1056.8 L304.1 1058.3 L304.2 1059.8 L304.3 1061.3 L304.4 1062.8 L304.4 1064.3 L304.5 1065.8 L304.6 1067.3 L304.7 1068.8 L304.8 1070.3 L304.9 1071.8 L304.9 1073.3 L305.0 1074.7 L305.1 1076.2 L305.2 1077.7 L305.3 1079.2 L305.4 1080.7 L305.9 1082.0 L306.9 1083.0 L308.1 1083.6 L309.4 1083.2 L310.7 1082.8 L312.0 1083.0 L313.4 1083.6 L314.8 1083.9 L316.3 1084.0 L317.8 1084.0 L319.3 1084.0 L320.8 1084.0 L322.3 1084.0 L323.8 1084.0 L325.3 1084.0 L326.8 1084.0 L328.3 1084.0 L329.8 1084.0 L331.3 1084.0 L332.8 1084.0 L334.3 1084.0 L335.8 1084.0 L337.3 1084.0 L338.8 1084.0 L340.3 1084.0 L341.8 1084.0 L343.3 1084.0 L344.8 1084.0 L346.3 1084.0 L347.8 1084.0 L349.3 1084.0 L350.8 1084.0 L352.3 1084.0 L353.8 1084.0 L355.3 1084.0 L356.8 1084.0 L358.3 1084.0 L359.8 1084.0 L361.3 1084.0 L362.8 1084.0 L364.3 1084.0 L365.8 1084.0 L367.3 1084.0 L368.8 1084.0 L369.9 1084.0 L370.7 1084.0" fill="none" stroke="#ff0000" stroke-width="2.7" stroke-linejoin="round" stroke-linecap="round"/>
<path d="M1.3 1084.0 L2.5 1084.0 L3.9 1084.0 L5.4 1084.0 L6.9 1084.0 L8.4 1084.0 L9.9 1084.0 L11.4 1084.0 L12.9 1084.0 L14.4 1084.0 L15.9 1084.0 L17.4 1084.0 L18.9 1084.0 L20.4 1084.0 L21.9 1084.0 L23.4 1084.0 L24.9 1084.0 L26.4 1084.0 L27.9 1084.0 L29.4 1084.0 L30.9 1084.0 L32.4 1084.0 L33.9 1084.0 L35.4 1084.0 L36.9 1084.0 L38.4 1084.0 L39.9 1084.0 L41.4 1084.0 L42.9 1084.0 L44.4 1084.0 L45.9 1083.9 L47.3 1083.5 L48.7 1082.9 L50.1 1082.3 L51.4 1081.7 L52.9 1081.2 L54.3 1080.7 L55.5 1080.1 L56.5 1079.0 L57.4 1077.8 L58.2 1076.5 L58.8 1075.2 L59.3 1073.8 L59.6 1072.3 L60.0 1070.9 L60.4 1069.4 L60.7 1068.0 L61.1 1066.5 L61.4 1065.0 L61.8 1063.6 L62.0 1062.1 L62.2 1060.6 L62.3 1059.1 L62.5 1057.6 L62.6 1056.1 L62.8 1054.6 L62.9 1053.1 L63.0 1051.7 L63.2 1050.2 L63.3 1048.7 L63.5 1047.2 L63.6 1045.7 L63.8 1044.2 L63.9 1042.7 L64.1 1041.2 L64.2 1039.7 L64.4 1038.2 L64.5 1036.7 L64.6 1035.2 L64.7 1033.7 L64.8 1032.2 L64.9 1030.7 L65.0 1029.2 L65.1 1027.7 L65.2 1026.2 L65.3 1024.8 L65.4 1023.3 L65.5 1021.8 L65.6 1020.3 L65.7 1018.8 L65.9 1017.3 L66.0 1015.8 L66.1 1014.3 L66.2 1012.8 L66.3 1011.3 L66.4 1009.8 L66.5 1008.3 L66.6 1006.8 L66.7 1005.3 L66.8 1003.8 L66.9 1002.3 L67.0 1000.8 L67.1 999.3 L67.2 997.8 L67.3 996.3 L67.4 994.8 L67.5 993.3 L67.6 991.8 L67.7 990.3 L67.8 988.8 L67.9 987.3 L68.1 985.8 L68.2 984.4 L68.3 982.9 L68.4 981.4 L68.5 979.9 L68.6 978.4 L68.7 976.9 L68.9 975.4 L69.1 973.9 L69.3 972.4 L69.5 970.9 L69.7 969.4 L69.9 967.9 L70.1 966.5 L70.3 965.0 L70.5 963.5 L71.2 962.4 L72.3 961.5 L73.0 960.3 L73.3 958.9 L73.6 957.4 L73.8 955.9 L74.0 954.4 L74.2 952.9 L74.4 951.5 L74.6 950.0 L74.8 948.5 L75.0 947.0 L75.2 945.5 L75.3 944.0 L75.5 942.5 L75.6 941.0 L75.7 939.5 L75.9 938.0 L76.0 936.6 L76.1 935.1 L76.3 933.6 L76.4 932.1 L76.5 930.6 L76.6 929.1 L76.8 927.6 L76.9 926.1 L77.0 924.6 L77.2 923.1 L77.3 921.6 L77.5 920.1 L77.7 918.6 L78.0 917.2 L78.2 915.7 L78.4 914.2 L78.7 912.7 L78.9 911.2 L79.1 909.8 L79.4 908.3 L79.6 906.8 L79.9 905.3 L80.1 903.8 L80.3 902.3 L80.6 900.9 L80.8 899.4 L81.3 898.4 L82.2 898.4 L83.2 898.7 L83.8 897.8 L84.1 896.4 L84.4 895.0 L84.7 893.5 L85.0 892.0 L85.3 890.5 L85.6 889.1 L85.9 887.6 L86.2 886.1 L86.5 884.7 L86.8 883.2 L87.1 881.9 L87.4 881.5 L87.7 882.6 L88.1 884.0 L88.5 885.4 L89.0 886.2 L89.8 885.7 L90.5 884.4 L90.8 883.0 L91.1 881.5 L91.4 880.1 L91.7 878.6 L92.1 877.1 L92.5 875.7 L93.0 874.3 L93.4 872.8 L93.9 871.5 L94.3 870.6 L94.8 871.2 L95.3 872.6 L95.7 874.0 L96.1 875.4 L96.4 876.9 L96.7 878.4 L97.0 879.9 L97.3 881.3 L97.7 882.8 L98.1 884.2 L98.6 885.6 L99.0 887.1 L99.4 888.5 L99.8 890.0 L100.2 891.4 L100.5 892.9 L100.6 894.4 L100.7 895.9 L100.8 897.4 L100.8 898.9 L100.9 900.4 L100.9 901.9 L101.0 903.4 L101.1 904.9 L101.1 906.4 L101.2 907.9 L101.3 909.4 L101.3 910.9 L101.4 912.4 L101.5 913.9 L101.5 915.3 L101.6 916.8 L101.6 918.3 L101.6 919.8 L101.7 921.3 L101.7 922.8 L101.8 924.3 L101.8 925.8 L101.8 927.3 L101.9 928.8 L101.9 930.3 L102.0 931.8 L102.0 933.3 L102.0 934.8 L102.1 936.3 L102.1 937.8 L102.2 939.3 L102.2 940.8 L102.2 942.3 L102.3 943.8 L102.3 945.3 L102.4 946.8 L102.4 948.3 L102.4 949.8 L102.5 951.3 L102.5 952.8 L102.6 954.3 L102.6 955.8 L102.6 957.3 L102.7 958.8 L102.7 960.3 L102.8 961.8 L102.8 963.3 L102.8 964.8 L102.9 966.3 L102.9 967.8 L103.0 969.3 L103.0 970.8 L103.0 972.3 L103.1 973.8 L103.1 975.3 L103.2 976.8 L103.2 978.3 L103.2 979.8 L103.3 981.3 L103.3 982.8 L103.4 984.3 L103.4 985.8 L103.4 987.3 L103.5 988.8 L103.5 990.3 L103.6 991.8 L103.6 993.3 L103.6 994.8 L103.7 996.3 L103.7 997.8 L103.8 999.3 L103.8 1000.8 L103.8 1002.3 L103.9 1003.8 L103.9 1005.3 L104.0 1006.8 L104.1 1008.3 L104.2 1009.8 L104.3 1011.3 L104.5 1012.8 L104.6 1014.3 L104.8 1015.8 L104.9 1017.3 L105.1 1018.6 L105.4 1019.2 L106.0 1018.3 L106.8 1017.1 L108.0 1016.2 L109.3 1015.5 L110.3 1014.5 L111.2 1013.3 L112.0 1012.0 L112.9 1010.9 L114.0 1010.0 L114.9 1009.8 L115.4 1010.8 L115.7 1012.2 L116.0 1013.7 L116.3 1015.1 L116.6 1016.6 L116.9 1017.6 L117.2 1017.1 L117.5 1015.7 L117.8 1014.3 L118.1 1012.8 L118.4 1011.3 L118.7 1009.9 L119.0 1008.4 L119.6 1007.0 L120.3 1005.8 L121.2 1004.5 L122.1 1003.6 L123.2 1003.5 L124.5 1004.1 L125.4 1005.1 L125.9 1006.5 L126.3 1007.9 L126.7 1009.4 L127.1 1010.8 L127.7 1011.5 L128.5 1010.9 L129.4 1009.8 L130.6 1008.9 L131.8 1008.1 L133.0 1007.3 L133.9 1006.1 L134.6 1004.8 L134.9 1003.4 L135.0 1001.9 L135.0 1000.4 L135.0 998.9 L135.1 997.4 L135.1 995.9 L135.1 994.4 L135.2 992.9 L135.2 991.4 L135.2 989.9 L135.3 988.4 L135.3 986.9 L135.3 985.4 L135.4 983.9 L135.4 982.4 L135.4 980.9 L135.4 979.4 L135.5 977.9 L135.5 976.4 L135.5 974.9 L135.6 973.4 L135.6 971.9 L135.6 970.4 L135.7 968.9 L135.7 967.4 L135.7 965.9 L135.8 964.4 L135.8 962.9 L135.8 961.4 L135.9 959.9 L135.9 958.4 L135.9 956.9 L136.0 955.4 L136.0 953.9 L136.0 952.4 L136.0 950.9 L136.1 949.4 L136.1 947.9 L136.1 946.4 L136.2 944.9 L136.2 943.4 L136.3 941.9 L136.3 940.4 L136.4 938.9 L136.4 937.4 L136.5 935.9 L136.5 934.4 L136.6 932.9 L136.6 931.4 L136.7 929.9 L136.7 928.4 L136.8 926.9 L136.8 925.4 L136.9 923.9 L136.9 922.4 L137.0 920.9 L137.0 919.4 L137.1 917.9 L137.1 916.4 L137.2 914.9 L137.2 913.4 L137.3 911.9 L137.3 910.4 L137.4 908.9 L137.4 907.4 L137.5 905.9 L137.5 904.5 L137.6 903.0 L137.6 901.5 L137.7 900.0 L137.8 898.5 L138.0 897.0 L138.1 895.5 L138.3 894.0 L138.5 892.5 L138.7 891.0 L138.8 889.5 L139.0 888.0 L139.2 886.5 L139.4 885.0 L139.5 883.6 L139.7 882.1 L140.0 880.6 L140.4 879.2 L140.9 877.8 L141.4 876.3 L141.9 875.0 L142.4 874.3 L142.9 875.1 L143.4 876.4 L143.8 877.9 L144.0 879.3 L144.1 880.8 L144.2 882.3 L144.3 883.8 L144.4 885.3 L144.6 886.8 L144.7 888.3 L144.8 889.8 L144.9 891.3 L145.0 892.8 L145.1 894.3 L145.2 895.8 L145.3 897.3 L145.4 898.8 L145.5 900.3 L145.6 901.8 L145.7 903.3 L145.8 904.8 L145.9 906.3 L146.0 907.8 L146.1 909.3 L146.2 910.8 L146.3 912.3 L146.4 913.8 L146.5 915.3 L146.6 916.8 L146.7 918.3 L146.8 919.7 L146.9 921.2 L147.0 922.7 L147.1 924.2 L147.2 925.7 L147.4 927.2 L147.6 928.7 L147.9 930.2 L148.1 931.7 L148.4 933.1 L148.6 934.6 L148.9 936.1 L149.2 937.6 L149.4 939.0 L149.7 940.5 L150.0 942.0 L150.3 943.4 L150.7 944.9 L151.2 946.3 L151.6 947.8 L152.0 949.2 L152.4 950.7 L152.8 952.1 L153.2 953.5 L153.6 955.0 L154.0 956.4 L154.5 957.9 L154.9 959.3 L155.3 960.8 L155.7 962.2 L156.2 963.4 L157.2 963.9 L158.3 964.1 L159.0 965.2 L159.5 966.6 L160.0 968.0 L160.5 969.4 L161.1 970.8 L161.6 972.2 L162.2 973.6 L162.7 974.9 L163.3 975.8 L163.7 975.3 L164.1 974.0 L164.5 972.6 L164.9 971.8 L165.4 972.5 L165.8 973.9 L166.2 975.3 L166.7 976.7 L167.0 977.4 L167.2 976.6 L167.3 975.2 L167.4 973.7 L167.6 972.2 L167.7 970.7 L167.8 969.2 L167.9 967.7 L168.0 966.2 L168.1 964.7 L168.3 963.2 L168.4 961.7 L168.5 960.2 L168.6 958.7 L168.7 957.2 L168.8 955.7 L168.9 954.2 L169.0 952.7 L169.1 951.2 L169.2 949.7 L169.3 948.2 L169.4 946.7 L169.5 945.2 L169.6 943.8 L169.8 942.3 L169.9 940.8 L170.0 939.3 L170.1 937.8 L170.2 936.3 L170.3 934.8 L170.4 933.3 L170.5 931.8 L170.6 930.3 L170.7 928.8 L170.8 927.3 L171.0 925.8 L171.1 924.3 L171.3 922.8 L171.5 921.3 L171.6 919.8 L171.8 918.4 L172.0 916.9 L172.2 915.4 L172.3 913.9 L172.5 912.4 L172.7 910.9 L172.8 909.4 L173.0 907.9 L173.2 906.4 L173.5 905.0 L173.8 903.5 L174.3 902.1 L174.7 900.6 L175.1 899.2 L175.5 897.7 L175.9 896.3 L176.5 895.1 L177.6 894.3 L179.0 893.8 L180.4 893.5 L181.8 893.5 L182.8 894.3 L183.6 895.5 L184.5 896.7 L185.3 898.0 L186.2 899.2 L187.0 900.5 L187.6 901.8 L188.2 903.2 L188.7 904.6 L189.3 906.0 L189.8 907.4 L190.3 908.8 L190.6 910.3 L190.9 911.8 L191.1 913.2 L191.4 914.7 L191.6 916.2 L191.9 917.7 L192.2 919.1 L192.4 920.6 L192.6 922.1 L192.7 923.6 L192.8 925.1 L192.9 926.6 L193.0 928.1 L193.1 929.6 L193.2 931.1 L193.3 932.6 L193.5 934.1 L193.6 935.6 L193.7 937.1 L193.8 938.6 L193.9 940.1 L194.0 941.6 L194.1 943.1 L194.2 944.5 L194.3 946.0 L194.4 947.5 L194.5 949.0 L194.6 950.5 L194.6 952.0 L194.7 953.5 L194.8 955.0 L194.9 956.5 L194.9 958.0 L195.0 959.5 L195.1 961.0 L195.2 962.5 L195.2 964.0 L195.3 965.5 L195.4 967.0 L195.5 968.5 L195.5 970.0 L195.6 971.5 L195.7 973.0 L195.8 974.5 L195.9 976.0 L195.9 977.5 L196.0 979.0 L196.2 980.5 L196.3 982.0 L196.4 983.5 L196.5 985.0 L196.6 986.5 L196.7 988.0 L196.8 989.5 L196.9 991.0 L197.0 992.5 L197.1 994.0 L197.2 995.5 L197.3 996.9 L197.6 997.5 L198.1 996.7 L198.8 995.4 L199.4 994.1 L200.2 992.8 L201.0 991.6 L201.7 991.3 L202.1 992.3 L202.3 993.8 L202.6 995.2 L202.9 996.7 L203.1 998.2 L203.4 999.7 L203.6 1001.1 L203.9 1002.6 L204.2 1003.6 L204.5 1003.2 L204.8 1001.9 L205.2 1000.4 L205.5 999.0 L205.8 997.5 L206.2 996.0 L206.5 994.7 L206.9 994.5 L207.4 995.6 L207.9 997.0 L208.4 998.3 L208.9 999.1 L209.4 998.4 L209.9 997.0 L210.4 995.6 L210.9 994.5 L211.5 994.6 L212.2 995.8 L212.9 997.0 L213.7 997.6 L214.7 997.1 L215.7 996.0 L216.5 994.8 L216.9 993.4 L217.2 992.0 L217.4 990.5 L217.7 989.0 L218.0 987.5 L218.2 986.0 L218.5 984.6 L218.7 983.1 L218.9 981.6 L219.1 980.1 L219.3 978.6 L219.5 977.1 L219.7 975.6 L219.9 974.2 L220.0 972.7 L220.2 971.2 L220.4 969.7 L220.5 968.2 L220.6 966.7 L220.7 965.2 L220.8 963.7 L220.9 962.2 L221.1 960.7 L221.2 959.2 L221.3 957.7 L221.4 956.2 L221.5 954.7 L221.6 953.2 L221.7 951.7 L221.8 950.2 L221.9 948.7 L222.1 947.3 L222.2 945.8 L222.3 944.3 L222.4 942.8 L222.6 941.3 L222.7 939.8 L222.8 938.3 L222.9 936.8 L223.1 935.3 L223.2 933.8 L223.3 932.3 L223.5 930.8 L223.6 929.3 L223.7 927.8 L223.8 926.3 L224.0 924.8 L224.2 923.3 L224.4 921.9 L224.7 920.4 L224.9 918.9 L225.2 917.4 L225.4 916.0 L225.7 914.6 L226.1 913.9 L226.7 914.7 L227.3 915.5 L228.0 915.1 L228.6 913.8 L229.2 912.4 L229.7 911.0 L230.0 909.6 L230.2 908.1 L230.5 906.6 L230.8 905.1 L231.0 903.7 L231.3 902.2 L231.6 900.7 L231.8 899.2 L232.3 897.9 L233.3 896.9 L234.5 896.0 L235.4 894.9 L236.3 893.7 L237.2 892.5 L238.1 891.3 L239.0 890.6 L239.7 891.2 L240.4 892.5 L241.0 893.8 L241.8 895.1 L242.7 896.3 L243.5 897.5 L244.0 898.9 L244.2 900.4 L244.4 901.9 L244.6 903.4 L244.8 904.9 L244.9 906.3 L245.1 907.8 L245.3 909.3 L245.5 910.8 L245.7 912.3 L245.9 913.8 L246.0 915.3 L246.2 916.8 L246.3 918.3 L246.4 919.8 L246.5 921.3 L246.6 922.8 L246.7 924.3 L246.8 925.7 L246.9 927.2 L247.0 928.7 L247.1 930.2 L247.2 931.7 L247.3 933.2 L247.4 934.7 L247.6 936.2 L247.7 937.7 L247.8 939.2 L247.9 940.7 L248.1 942.2 L248.2 943.7 L248.4 945.2 L248.5 946.7 L248.6 948.2 L248.8 949.7 L248.9 951.2 L249.1 952.6 L249.5 954.1 L250.1 955.4 L250.7 956.7 L251.5 957.4 L252.5 957.2 L253.2 957.4 L253.6 958.7 L254.0 960.1 L254.3 961.6 L254.7 962.9 L255.0 963.4 L255.2 962.5 L255.3 961.0 L255.5 959.5 L255.6 958.0 L255.8 956.5 L255.9 955.0 L256.1 953.5 L256.2 952.0 L256.4 950.5 L256.5 949.1 L256.6 947.6 L256.8 946.1 L257.0 944.6 L257.3 943.1 L257.5 941.6 L257.8 940.2 L258.0 938.7 L258.3 937.2 L258.6 935.9 L259.1 935.7 L259.8 936.6 L260.5 937.3 L261.3 936.6 L262.0 935.3 L262.6 933.9 L263.1 932.5 L263.4 931.1 L263.6 929.6 L263.9 928.1 L264.1 926.6 L264.3 925.2 L264.6 923.7 L264.8 922.2 L265.0 920.7 L265.3 919.2 L265.8 917.9 L266.8 916.9 L267.6 915.8 L268.0 914.4 L268.3 912.9 L268.6 911.5 L268.9 910.0 L269.2 908.5 L269.4 907.0 L269.5 905.5 L269.7 904.0 L269.8 902.5 L270.0 901.1 L270.1 899.6 L270.3 898.1 L270.4 896.6 L270.6 895.1 L270.7 893.6 L270.9 892.1 L271.0 890.6 L271.1 889.1 L271.3 887.6 L271.4 886.1 L271.5 884.6 L271.7 883.1 L271.8 881.6 L271.9 880.1 L272.0 878.7 L272.2 877.2 L272.3 875.7 L272.4 874.2 L272.6 872.7 L272.7 871.2 L272.8 869.7 L273.0 868.2 L273.3 866.7 L273.6 865.3 L273.9 863.8 L274.2 862.3 L274.5 860.9 L275.1 860.3 L275.9 861.0 L276.8 862.2 L277.3 863.5 L277.7 865.0 L278.0 866.4 L278.4 867.5 L278.7 867.1 L278.9 865.7 L279.2 864.3 L279.4 862.8 L279.6 861.3 L279.9 859.8 L280.1 858.4 L280.4 857.6 L280.7 858.4 L281.0 859.8 L281.3 861.2 L281.7 862.7 L282.0 864.1 L282.7 865.4 L283.6 866.5 L284.2 867.8 L284.6 869.2 L284.9 870.7 L285.2 872.2 L285.4 873.6 L285.7 875.1 L286.0 876.6 L286.3 878.0 L286.7 879.5 L287.0 881.0 L287.4 882.4 L287.7 883.9 L288.0 885.3 L288.4 886.8 L288.7 888.3 L289.1 889.7 L289.4 891.2 L289.8 892.6 L290.2 894.1 L290.8 895.4 L291.7 896.6 L292.3 898.0 L292.6 899.4 L292.8 900.9 L293.0 902.4 L293.2 903.9 L293.4 905.3 L293.6 906.8 L293.8 908.3 L294.0 909.8 L294.2 911.3 L294.3 912.8 L294.5 914.3 L294.8 915.7 L295.1 917.2 L295.4 918.7 L295.7 920.2 L296.0 921.6 L296.3 923.1 L296.5 924.6 L296.7 926.1 L296.8 927.6 L297.0 929.1 L297.1 930.6 L297.3 932.0 L297.4 933.5 L297.5 935.0 L297.7 936.5 L297.8 938.0 L298.0 939.5 L298.1 941.0 L298.3 942.5 L298.4 944.0 L298.6 945.5 L298.7 947.0 L298.8 948.5 L298.9 950.0 L299.0 951.5 L299.0 953.0 L299.1 954.5 L299.2 956.0 L299.3 957.5 L299.4 959.0 L299.5 960.5 L299.6 961.9 L299.7 963.4 L299.7 964.9 L299.8 966.4 L299.9 967.9 L300.0 969.4 L300.1 970.9 L300.2 972.4 L300.3 973.9 L300.3 975.4 L300.4 976.9 L300.5 978.4 L300.6 979.9 L300.7 981.4 L300.8 982.9 L300.9 984.4 L300.9 985.9 L301.0 987.4 L301.1 988.9 L301.1 990.4 L301.2 991.9 L301.3 993.4 L301.3 994.9 L301.4 996.4 L301.5 997.9 L301.5 999.4 L301.6 1000.9 L301.7 1002.4 L301.8 1003.9 L301.8 1005.4 L301.9 1006.9 L302.0 1008.4 L302.0 1009.9 L302.1 1011.4 L302.2 1012.9 L302.2 1014.4 L302.3 1015.9 L302.4 1017.4 L302.4 1018.9 L302.5 1020.4 L302.6 1021.9 L302.7 1023.4 L302.8 1024.9 L302.9 1026.4 L303.1 1027.9 L303.2 1029.3 L303.3 1030.8 L303.5 1032.3 L303.6 1033.8 L303.7 1035.3 L303.8 1036.8 L304.0 1038.3 L304.1 1039.8 L304.2 1041.3 L304.4 1042.8 L304.5 1044.3 L304.6 1045.8 L304.8 1046.9 L304.9 1046.6 L305.1 1045.3 L305.2 1043.8 L305.4 1042.3 L305.6 1040.8 L305.7 1039.3 L305.9 1037.8 L306.0 1036.4 L306.2 1034.9 L306.4 1033.4 L306.5 1031.9 L306.7 1030.4 L306.8 1029.0 L307.0 1028.5 L307.2 1029.4 L307.5 1030.9 L307.7 1032.4 L307.9 1033.9 L308.1 1035.3 L308.3 1036.8 L308.6 1038.3 L308.9 1039.7 L309.6 1041.0 L310.1 1042.4 L310.3 1043.8 L310.5 1045.3 L310.7 1046.8 L310.9 1048.3 L311.0 1049.8 L311.2 1051.3 L311.4 1052.8 L311.6 1054.3 L311.8 1055.8 L311.9 1057.2 L312.1 1058.7 L312.3 1060.2 L312.5 1061.7 L312.6 1063.2 L312.8 1064.7 L313.0 1066.2 L313.2 1067.7 L313.3 1069.2 L313.5 1070.7 L313.7 1072.1 L313.9 1073.6 L314.1 1075.1 L314.4 1076.6 L314.8 1078.0 L315.2 1079.5 L315.6 1080.9 L316.0 1082.3 L316.9 1083.3 L318.2 1083.7 L319.7 1083.9 L321.2 1084.0 L322.7 1084.0 L324.2 1084.0 L325.7 1084.0 L327.2 1084.0 L328.7 1084.0 L330.2 1084.0 L331.7 1084.0 L333.2 1084.0 L334.7 1084.0 L336.2 1084.0 L337.7 1084.0 L339.2 1084.0 L340.7 1084.0 L342.2 1084.0 L343.7 1084.0 L345.2 1084.0 L346.7 1084.0 L348.2 1084.0 L349.7 1084.0 L351.2 1084.0 L352.7 1084.0 L354.2 1084.0 L355.7 1084.0 L357.2 1084.0 L358.7 1084.0 L360.2 1084.0 L361.7 1084.0 L363.2 1084.0 L364.7 1084.0 L366.2 1084.0 L367.7 1084.0 L369.1 1084.0 L370.3 1084.0 L370.7 1084.0" fill="none" stroke="#0000ff" stroke-width="2.7" stroke-linejoin="round" stroke-linecap="round"/>
</g>
<path d="M41.8 1134.4 v-3.7 M41.8 764.6 v3.7 M185.2 1134.4 v-3.7 M185.2 764.6 v3.7 M328.7 1134.4 v-3.7 M328.7 764.6 v3.7 M1.0 875.1 h3.7 M370.7 875.1 h-3.7 M1.0 939.8 h3.7 M370.7 939.8 h-3.7 M1.0 1004.6 h3.7 M370.7 1004.6 h-3.7 M1.0 1069.4 h3.7 M370.7 1069.4 h-3.7 " stroke="#262626" stroke-width="1" fill="none"/>
<rect x="1.0" y="764.6" width="369.7" height="369.80000000000007" fill="none" stroke="#262626" stroke-width="1"/>
<text class="k" x="12.0" y="802.6" font-size="33.5">i)</text>
<text class="k" x="41.8" y="1177.6" font-size="32.6" text-anchor="middle">-15</text>
<text class="k" x="185.2" y="1177.6" font-size="32.6" text-anchor="middle">0</text>
<text class="k" x="328.7" y="1177.6" font-size="32.6" text-anchor="middle">15</text>
<text class="k" x="185.7" y="1220.6" font-size="33" text-anchor="middle"><tspan font-style="italic">μ</tspan>m</text>
<!-- plot j) -->
<clipPath id="pc1"><rect x="383.1" y="764.6" width="369.19999999999993" height="369.80000000000007"/></clipPath>
<rect x="383.1" y="764.6" width="369.19999999999993" height="369.80000000000007" fill="#fff"/>
<path d="M424.0 764.6 V1134.4 M567.4 764.6 V1134.4 M710.9 764.6 V1134.4 M383.1 875.1 H752.3 M383.1 939.8 H752.3 M383.1 1004.6 H752.3 M383.1 1069.4 H752.3 " stroke="#dfdfdf" stroke-width="1" fill="none"/>
<g clip-path="url(#pc1)">
<path d="M383.1 1134.4 L383.1 1084.0 L434.5 1084.0 L435.7 897.7 L437.6 896.2 L465.4 896.2 L466.0 902.3 L467.0 1080.9 L467.6 1080.9 L469.4 902.3 L469.7 896.2 L471.6 896.2 L472.2 902.3 L473.1 1080.9 L473.8 1080.9 L474.7 902.3 L475.0 896.2 L479.0 896.2 L479.3 902.3 L480.6 1078.7 L481.2 1080.9 L483.0 1080.9 L483.7 1078.7 L484.6 902.3 L485.2 896.2 L488.9 896.2 L489.5 902.3 L492.3 1078.7 L492.9 1080.9 L496.4 1080.9 L497.0 1078.7 L498.8 902.3 L499.4 896.2 L542.1 896.2 L544.0 899.2 L545.9 945.7 L547.7 985.9 L549.6 990.5 L632.5 990.5 L634.4 985.9 L635.9 945.7 L637.5 899.2 L639.3 896.2 L696.3 896.2 L698.1 902.3 L701.8 1080.9 L703.1 1084.0 L752.3 1084.0 L752.3 1134.4 Z" fill="#d9d9d9" stroke="#000" stroke-width="0.7" stroke-linejoin="round"/>
<path d="M383.5 1084.0 L384.6 1084.0 L386.1 1084.0 L387.6 1084.0 L389.1 1084.0 L390.6 1084.0 L392.1 1084.0 L393.6 1084.0 L395.1 1084.0 L396.6 1084.0 L398.1 1084.0 L399.6 1084.0 L401.1 1084.0 L402.6 1084.0 L404.1 1084.0 L405.6 1084.0 L407.1 1084.0 L408.6 1084.0 L410.1 1084.0 L411.6 1084.0 L413.1 1084.0 L414.6 1084.0 L416.1 1084.0 L417.6 1084.0 L419.1 1084.0 L420.6 1084.0 L422.1 1084.0 L423.6 1084.0 L425.1 1084.0 L426.6 1084.0 L428.1 1084.0 L429.4 1083.6 L430.4 1082.7 L431.2 1081.4 L431.8 1080.1 L432.0 1078.7 L432.1 1077.2 L432.1 1075.7 L432.2 1074.2 L432.2 1072.7 L432.3 1071.2 L432.3 1069.7 L432.3 1068.2 L432.4 1066.7 L432.4 1065.2 L432.5 1063.7 L432.5 1062.2 L432.6 1060.7 L432.6 1059.2 L432.7 1057.7 L432.7 1056.2 L432.7 1054.7 L432.8 1053.2 L432.8 1051.7 L432.9 1050.2 L432.9 1048.7 L433.0 1047.2 L433.0 1045.7 L433.1 1044.2 L433.1 1042.7 L433.1 1041.2 L433.2 1039.7 L433.2 1038.2 L433.3 1036.7 L433.3 1035.2 L433.3 1033.7 L433.3 1032.2 L433.3 1030.7 L433.4 1029.2 L433.4 1027.7 L433.4 1026.2 L433.4 1024.7 L433.5 1023.2 L433.5 1021.7 L433.5 1020.2 L433.5 1018.7 L433.6 1017.2 L433.6 1015.7 L433.6 1014.2 L433.6 1012.7 L433.7 1011.2 L433.7 1009.7 L433.7 1008.2 L433.7 1006.7 L433.8 1005.2 L433.8 1003.7 L433.8 1002.2 L433.8 1000.7 L433.9 999.2 L433.9 997.7 L433.9 996.2 L433.9 994.7 L433.9 993.2 L434.0 991.7 L434.0 990.2 L434.0 988.7 L434.0 987.2 L434.1 985.7 L434.1 984.2 L434.1 982.7 L434.1 981.2 L434.2 979.7 L434.2 978.2 L434.2 976.7 L434.2 975.2 L434.3 973.7 L434.3 972.2 L434.3 970.7 L434.3 969.2 L434.4 967.7 L434.4 966.2 L434.4 964.7 L434.4 963.2 L434.5 961.7 L434.5 960.2 L434.5 958.7 L434.5 957.2 L434.6 955.7 L434.6 954.2 L434.6 952.7 L434.7 951.2 L434.7 949.7 L434.7 948.2 L434.8 946.7 L434.8 945.2 L434.8 943.7 L434.8 942.2 L434.9 940.7 L434.9 939.2 L434.9 937.7 L435.0 936.2 L435.0 934.7 L435.0 933.2 L435.1 931.7 L435.1 930.2 L435.1 928.7 L435.1 927.2 L435.2 925.7 L435.2 924.2 L435.2 922.7 L435.3 921.2 L435.3 919.7 L435.3 918.2 L435.4 916.7 L435.4 915.2 L435.4 913.7 L435.4 912.2 L435.5 910.7 L435.5 909.2 L435.5 907.7 L435.6 906.2 L435.6 904.7 L435.6 903.2 L435.7 901.7 L435.7 900.2 L435.7 898.7 L435.8 897.2 L435.9 895.7 L436.0 894.2 L436.1 892.7 L436.2 891.2 L436.2 889.7 L436.3 888.2 L436.4 886.7 L436.5 885.2 L436.6 883.7 L436.7 882.2 L436.8 880.7 L436.9 879.2 L437.1 877.8 L437.6 876.8 L438.0 877.2 L438.2 878.6 L438.3 880.1 L438.5 881.6 L438.7 883.0 L438.9 884.5 L439.2 886.0 L439.4 887.5 L439.7 889.0 L439.9 890.4 L440.2 891.9 L440.8 893.1 L442.0 893.9 L443.3 894.2 L444.6 893.8 L445.8 893.0 L447.1 892.2 L448.4 891.4 L449.7 890.7 L451.0 890.0 L452.4 889.4 L453.7 888.7 L455.2 888.3 L456.6 888.1 L458.1 887.8 L459.6 887.6 L461.1 887.3 L462.5 886.8 L463.7 886.7 L464.4 887.5 L464.8 888.9 L465.1 890.4 L465.1 891.9 L465.2 893.4 L465.2 894.9 L465.2 896.4 L465.2 897.9 L465.3 899.4 L465.3 900.9 L465.3 902.4 L465.3 903.9 L465.4 905.4 L465.4 906.9 L465.4 908.4 L465.4 909.9 L465.5 911.4 L465.5 912.9 L465.5 914.4 L465.5 915.9 L465.6 917.4 L465.6 918.9 L465.6 920.4 L465.6 921.9 L465.7 923.4 L465.7 924.9 L465.7 926.4 L465.7 927.9 L465.8 929.4 L465.8 930.9 L465.8 932.4 L465.8 933.9 L465.9 935.4 L465.9 936.9 L465.9 938.4 L465.9 939.9 L466.0 941.4 L466.0 942.9 L466.0 944.4 L466.0 945.9 L466.1 947.4 L466.1 948.9 L466.2 950.4 L466.2 951.8 L466.3 953.3 L466.3 954.8 L466.4 956.3 L466.4 957.8 L466.4 959.3 L466.5 960.8 L466.5 962.3 L466.6 963.8 L466.6 965.3 L466.7 966.8 L466.7 968.3 L466.8 969.8 L466.8 971.3 L466.9 972.8 L466.9 974.3 L467.0 975.8 L467.0 977.3 L467.0 978.8 L467.1 980.3 L467.1 981.8 L467.2 983.3 L467.2 984.7 L467.3 985.0 L467.3 983.9 L467.4 982.5 L467.4 981.0 L467.5 979.5 L467.5 978.0 L467.6 976.5 L467.6 975.0 L467.6 973.5 L467.7 972.0 L467.7 970.5 L467.8 969.0 L467.8 967.5 L467.9 966.0 L467.9 964.5 L468.0 963.0 L468.0 961.5 L468.1 960.0 L468.1 958.5 L468.2 957.0 L468.2 955.5 L468.2 954.0 L468.3 952.5 L468.3 951.0 L468.4 949.5 L468.4 948.0 L468.5 946.5 L468.5 945.0 L468.6 943.5 L468.6 942.0 L468.6 940.5 L468.7 939.0 L468.7 937.5 L468.8 936.0 L468.8 934.5 L468.8 933.0 L468.9 931.5 L468.9 930.0 L469.0 928.5 L469.0 927.0 L469.0 925.5 L469.1 924.0 L469.1 922.5 L469.2 921.0 L469.2 919.5 L469.2 918.0 L469.3 916.5 L469.3 915.0 L469.4 913.5 L469.4 912.0 L469.4 910.5 L469.5 909.0 L469.5 907.5 L469.6 906.0 L469.6 904.5 L469.6 903.0 L469.7 901.5 L469.7 900.0 L469.8 898.5 L470.0 897.0 L470.2 895.5 L470.4 894.0 L470.5 892.7 L470.7 892.4 L470.7 893.5 L470.8 895.0 L470.9 896.5 L470.9 898.0 L471.0 899.5 L471.0 901.0 L471.1 902.5 L471.2 904.0 L471.2 905.5 L471.3 907.0 L471.3 908.5 L471.4 910.0 L471.5 911.5 L471.5 913.0 L471.6 914.5 L471.6 916.0 L471.7 917.5 L471.7 919.0 L471.7 920.5 L471.8 922.0 L471.8 923.5 L471.8 925.0 L471.9 926.5 L471.9 928.0 L471.9 929.5 L472.0 931.0 L472.0 932.5 L472.0 934.0 L472.1 935.5 L472.1 937.0 L472.1 938.5 L472.2 940.0 L472.2 941.5 L472.2 943.0 L472.3 944.5 L472.3 946.0 L472.3 947.5 L472.4 949.0 L472.4 950.5 L472.4 952.0 L472.5 953.5 L472.5 955.0 L472.5 956.5 L472.6 958.0 L472.6 959.5 L472.6 961.0 L472.7 962.5 L472.7 964.0 L472.7 965.5 L472.8 966.9 L472.8 968.4 L472.8 969.5 L472.9 969.2 L473.0 967.9 L473.0 966.4 L473.1 964.9 L473.2 963.4 L473.3 961.9 L473.3 960.4 L473.4 958.9 L473.5 957.4 L473.6 955.9 L473.6 954.4 L473.7 952.9 L473.8 951.4 L473.9 949.9 L473.9 948.4 L474.0 946.9 L474.1 945.4 L474.1 943.9 L474.2 942.4 L474.2 940.9 L474.3 939.4 L474.3 937.9 L474.4 936.4 L474.4 934.9 L474.4 933.4 L474.5 931.9 L474.5 930.4 L474.6 928.9 L474.6 927.4 L474.7 925.9 L474.7 924.4 L474.8 922.9 L474.8 921.4 L474.9 919.9 L474.9 918.4 L475.0 916.9 L475.0 915.4 L475.0 913.9 L475.1 912.4 L475.1 910.9 L475.2 909.4 L475.2 907.9 L475.3 906.4 L475.4 904.9 L475.5 903.5 L475.7 902.0 L475.9 900.5 L476.0 899.0 L476.2 897.5 L476.4 896.1 L476.6 895.4 L477.0 896.2 L477.3 897.6 L477.7 899.1 L477.8 900.5 L477.9 902.0 L477.9 903.5 L477.9 905.0 L478.0 906.5 L478.0 908.0 L478.1 909.5 L478.1 911.0 L478.1 912.5 L478.2 914.0 L478.2 915.5 L478.3 917.0 L478.3 918.5 L478.3 920.0 L478.4 921.5 L478.4 923.0 L478.5 924.5 L478.5 926.0 L478.5 927.5 L478.6 929.0 L478.6 930.5 L478.7 932.0 L478.7 933.5 L478.7 935.0 L478.8 936.5 L478.8 938.0 L478.9 939.5 L478.9 941.0 L478.9 942.5 L479.0 944.0 L479.0 945.5 L479.1 947.0 L479.1 948.5 L479.2 950.0 L479.2 951.5 L479.2 953.0 L479.3 954.5 L479.3 956.0 L479.4 957.5 L479.4 959.0 L479.5 960.5 L479.5 962.0 L479.6 963.5 L479.6 965.0 L479.6 966.5 L479.7 968.0 L479.7 969.5 L479.8 971.0 L479.8 972.5 L479.9 974.0 L479.9 975.5 L480.0 977.0 L480.0 978.5 L480.1 980.0 L480.1 981.5 L480.1 983.0 L480.2 984.5 L480.2 986.0 L480.3 987.5 L480.3 989.0 L480.4 990.5 L480.4 992.0 L480.5 993.5 L480.5 995.0 L480.5 996.5 L480.6 998.0 L480.6 999.5 L480.7 1001.0 L480.7 1002.5 L480.8 1004.0 L480.8 1005.5 L480.9 1007.0 L480.9 1008.5 L481.0 1010.0 L481.1 1011.5 L481.2 1013.0 L481.2 1014.5 L481.3 1016.0 L481.4 1017.5 L481.5 1019.0 L481.5 1020.5 L481.6 1022.0 L481.7 1023.5 L481.7 1025.0 L481.8 1026.5 L481.9 1028.0 L482.0 1029.5 L482.0 1030.9 L482.1 1031.5 L482.2 1030.6 L482.3 1029.2 L482.4 1027.7 L482.5 1026.2 L482.6 1024.7 L482.7 1023.2 L482.8 1021.7 L482.9 1020.2 L483.0 1018.7 L483.1 1017.2 L483.2 1015.7 L483.2 1014.2 L483.3 1012.7 L483.4 1011.2 L483.5 1009.7 L483.6 1008.2 L483.7 1006.7 L483.7 1005.2 L483.7 1003.7 L483.8 1002.2 L483.8 1000.7 L483.8 999.2 L483.9 997.7 L483.9 996.2 L483.9 994.7 L484.0 993.2 L484.0 991.7 L484.0 990.2 L484.0 988.7 L484.1 987.2 L484.1 985.7 L484.1 984.2 L484.2 982.7 L484.2 981.2 L484.2 979.7 L484.3 978.2 L484.3 976.7 L484.3 975.2 L484.3 973.7 L484.4 972.2 L484.4 970.7 L484.4 969.2 L484.5 967.7 L484.5 966.2 L484.5 964.7 L484.6 963.2 L484.6 961.7 L484.6 960.2 L484.6 958.7 L484.7 957.2 L484.7 955.7 L484.7 954.2 L484.8 952.7 L484.8 951.2 L484.8 949.7 L484.9 948.2 L484.9 946.7 L484.9 945.2 L484.9 943.7 L485.0 942.2 L485.0 940.7 L485.0 939.2 L485.1 937.7 L485.1 936.2 L485.1 934.7 L485.2 933.2 L485.2 931.7 L485.2 930.2 L485.3 928.7 L485.4 927.2 L485.4 925.7 L485.5 924.2 L485.6 922.7 L485.7 921.2 L485.8 919.7 L485.8 918.2 L485.9 916.7 L486.0 915.2 L486.1 913.7 L486.2 912.2 L486.2 910.7 L486.3 909.3 L486.4 907.8 L486.5 906.3 L486.5 904.8 L486.6 903.3 L486.8 901.8 L487.2 900.5 L488.0 899.9 L488.4 900.7 L488.5 902.1 L488.6 903.6 L488.7 905.1 L488.8 906.6 L488.9 908.1 L489.0 909.6 L489.1 911.1 L489.3 912.6 L489.4 914.1 L489.5 915.6 L489.6 917.1 L489.7 918.5 L489.8 920.0 L489.9 921.5 L489.9 923.0 L490.0 924.5 L490.0 926.0 L490.0 927.5 L490.1 929.0 L490.1 930.5 L490.2 932.0 L490.2 933.5 L490.2 935.0 L490.3 936.5 L490.3 938.0 L490.4 939.5 L490.4 941.0 L490.5 942.5 L490.5 944.0 L490.5 945.5 L490.6 947.0 L490.6 948.5 L490.7 950.0 L490.7 951.5 L490.7 953.0 L490.8 954.5 L490.8 956.0 L490.9 957.5 L490.9 959.0 L491.0 960.5 L491.0 962.0 L491.0 963.5 L491.1 965.0 L491.1 966.5 L491.2 968.0 L491.2 969.5 L491.2 971.0 L491.3 972.5 L491.3 974.0 L491.4 975.5 L491.4 977.0 L491.5 978.5 L491.6 980.0 L491.6 981.5 L491.7 983.0 L491.8 984.5 L491.9 986.0 L491.9 987.5 L492.0 989.0 L492.1 990.5 L492.1 992.0 L492.2 993.5 L492.3 995.0 L492.4 996.5 L492.4 998.0 L492.5 999.5 L492.6 1001.0 L492.6 1002.5 L492.7 1004.0 L492.8 1005.5 L492.9 1007.0 L492.9 1008.5 L493.0 1010.0 L493.1 1011.5 L493.1 1013.0 L493.2 1014.2 L493.3 1014.3 L493.4 1013.1 L493.4 1011.6 L493.5 1010.1 L493.6 1008.6 L493.6 1007.1 L493.7 1005.6 L493.8 1004.1 L493.9 1002.6 L493.9 1001.1 L494.0 999.6 L494.1 998.1 L494.2 996.6 L494.2 995.1 L494.3 993.6 L494.4 992.1 L494.4 990.6 L494.5 989.1 L494.6 987.6 L494.7 986.1 L494.7 984.6 L494.8 983.1 L494.9 981.6 L494.9 980.1 L495.0 978.7 L495.1 977.2 L495.1 975.7 L495.2 974.2 L495.2 972.7 L495.2 971.2 L495.3 969.7 L495.3 968.2 L495.4 966.7 L495.4 965.2 L495.4 963.7 L495.5 962.2 L495.5 960.7 L495.5 959.2 L495.6 957.7 L495.6 956.2 L495.7 954.7 L495.7 953.2 L495.7 951.7 L495.8 950.2 L495.8 948.7 L495.8 947.2 L495.9 945.7 L495.9 944.2 L496.0 942.7 L496.0 941.2 L496.0 939.7 L496.1 938.2 L496.1 936.7 L496.1 935.2 L496.2 933.7 L496.2 932.2 L496.3 930.7 L496.3 929.2 L496.3 927.7 L496.4 926.2 L496.4 924.7 L496.4 923.2 L496.5 921.7 L496.5 920.2 L496.6 918.7 L496.6 917.2 L496.6 915.7 L496.7 914.2 L496.9 912.7 L497.1 911.2 L497.2 909.7 L497.4 908.2 L497.5 906.7 L497.7 905.2 L497.9 903.7 L498.1 902.3 L498.5 901.4 L499.5 901.6 L500.8 902.3 L502.3 902.7 L503.7 903.1 L505.1 903.7 L506.4 904.4 L507.7 905.0 L509.1 905.1 L510.5 904.7 L511.9 904.3 L513.4 903.9 L514.9 903.6 L516.3 903.4 L517.8 903.2 L519.3 903.1 L520.8 903.2 L522.3 903.4 L523.8 903.6 L525.2 903.7 L526.6 903.3 L527.9 902.6 L529.3 902.0 L530.6 901.3 L531.8 900.4 L532.7 899.2 L533.5 898.0 L534.4 897.0 L535.3 896.9 L536.1 897.9 L536.6 899.3 L536.9 900.8 L537.2 902.2 L537.5 903.7 L537.8 905.2 L538.1 906.6 L538.3 908.1 L538.6 909.6 L538.8 911.1 L539.0 912.6 L539.2 914.0 L539.4 915.5 L539.6 917.0 L539.8 918.5 L540.0 920.0 L540.2 921.5 L540.4 923.0 L540.6 924.5 L540.8 925.9 L541.0 927.4 L541.3 928.9 L541.6 930.4 L542.0 931.8 L542.3 933.3 L542.6 934.7 L542.9 936.2 L543.3 937.7 L543.6 939.1 L543.9 940.6 L544.4 942.0 L544.9 943.4 L545.4 944.8 L546.0 946.2 L546.5 947.6 L547.0 949.0 L547.5 950.5 L548.1 951.9 L548.6 953.2 L549.3 954.6 L549.9 956.0 L550.6 957.3 L551.3 958.6 L551.9 960.0 L552.6 961.3 L553.3 962.6 L554.0 963.9 L554.8 965.2 L555.6 966.5 L556.4 967.8 L557.1 969.1 L557.9 970.4 L558.8 971.6 L559.7 972.8 L560.6 974.0 L561.5 975.2 L562.5 976.3 L563.6 977.3 L564.7 978.2 L565.9 979.1 L567.1 980.0 L568.4 980.8 L569.7 981.0 L571.2 980.8 L572.6 980.4 L574.0 979.8 L575.2 978.9 L576.3 978.0 L577.5 977.1 L578.8 976.5 L580.3 976.1 L581.7 975.7 L583.2 975.3 L584.6 974.9 L586.1 974.5 L587.5 974.1 L589.0 973.7 L590.4 973.3 L591.9 973.1 L593.3 973.3 L594.8 973.6 L596.2 974.1 L597.5 974.7 L598.8 975.5 L600.0 976.4 L601.3 977.2 L602.6 978.0 L603.9 978.7 L605.2 979.4 L606.6 980.0 L607.9 980.7 L609.1 981.6 L610.1 982.7 L611.0 983.9 L611.9 985.1 L612.8 986.2 L613.8 987.0 L615.1 986.9 L616.5 986.5 L617.9 985.9 L619.1 985.1 L620.1 984.0 L621.2 983.0 L622.2 981.9 L623.1 980.7 L623.7 979.3 L624.3 978.0 L624.9 976.6 L625.5 975.2 L626.1 973.8 L626.7 972.4 L627.3 971.1 L627.8 969.6 L628.2 968.2 L628.6 966.8 L629.1 965.3 L629.5 963.9 L629.9 962.5 L630.4 961.0 L630.8 959.6 L631.2 958.2 L631.7 956.7 L632.1 955.3 L632.5 953.8 L632.8 952.4 L633.2 950.9 L633.6 949.5 L633.9 948.0 L634.3 946.6 L634.7 945.1 L635.0 943.6 L635.4 942.2 L635.7 940.7 L636.0 939.2 L636.3 937.8 L636.5 936.3 L636.8 934.8 L637.1 933.4 L637.4 931.9 L637.7 930.4 L638.0 929.0 L638.3 927.5 L638.6 926.0 L638.9 924.5 L639.2 923.1 L639.5 921.6 L639.8 920.1 L640.1 918.7 L640.4 917.2 L640.7 915.7 L641.0 914.2 L641.3 912.8 L641.6 911.3 L642.1 909.9 L642.5 908.5 L643.0 907.0 L643.5 905.6 L644.0 904.2 L644.6 902.9 L645.6 901.9 L646.8 901.3 L648.1 901.3 L649.4 902.0 L650.7 902.6 L652.0 902.6 L653.5 902.2 L654.9 901.8 L656.2 901.0 L657.3 900.1 L658.4 899.1 L659.6 898.2 L660.9 897.5 L662.3 897.0 L663.7 896.5 L665.0 895.7 L666.1 894.8 L667.1 893.7 L668.2 892.6 L669.3 891.6 L670.3 890.5 L671.4 889.5 L672.6 888.6 L673.9 888.0 L675.3 887.8 L676.5 888.3 L677.7 889.2 L678.8 890.2 L679.9 891.3 L681.0 892.3 L682.1 893.3 L683.3 894.1 L684.6 895.0 L685.9 895.7 L687.3 896.1 L688.7 896.1 L690.2 896.0 L691.2 895.4 L692.0 894.1 L692.7 892.8 L693.3 891.5 L693.9 890.1 L694.3 888.7 L694.6 887.2 L694.9 885.7 L695.2 884.3 L695.5 882.8 L695.8 881.3 L696.2 879.9 L696.8 878.7 L697.4 878.4 L697.6 879.4 L697.8 880.9 L697.9 882.4 L698.0 883.9 L698.1 885.4 L698.2 886.9 L698.4 888.4 L698.5 889.8 L698.6 891.3 L698.7 892.8 L698.8 894.3 L698.8 895.8 L698.8 897.3 L698.9 898.8 L698.9 900.3 L698.9 901.8 L699.0 903.3 L699.0 904.8 L699.0 906.3 L699.1 907.8 L699.1 909.3 L699.1 910.8 L699.2 912.3 L699.2 913.8 L699.3 915.3 L699.3 916.8 L699.3 918.3 L699.4 919.8 L699.4 921.3 L699.4 922.8 L699.5 924.3 L699.5 925.8 L699.5 927.3 L699.6 928.8 L699.6 930.3 L699.6 931.8 L699.7 933.3 L699.7 934.8 L699.7 936.3 L699.8 937.8 L699.8 939.3 L699.9 940.8 L699.9 942.3 L699.9 943.8 L700.0 945.3 L700.0 946.8 L700.0 948.3 L700.0 949.8 L700.1 951.3 L700.1 952.8 L700.1 954.3 L700.2 955.8 L700.2 957.3 L700.2 958.8 L700.3 960.3 L700.3 961.8 L700.3 963.3 L700.3 964.8 L700.4 966.3 L700.4 967.8 L700.4 969.3 L700.5 970.8 L700.5 972.3 L700.5 973.8 L700.6 975.3 L700.6 976.8 L700.6 978.3 L700.6 979.8 L700.7 981.3 L700.7 982.8 L700.7 984.3 L700.8 985.8 L700.8 987.3 L700.8 988.8 L700.9 990.3 L700.9 991.8 L700.9 993.3 L700.9 994.8 L701.0 996.3 L701.0 997.8 L701.0 999.3 L701.1 1000.8 L701.1 1002.3 L701.1 1003.8 L701.2 1005.3 L701.2 1006.8 L701.2 1008.3 L701.3 1009.8 L701.3 1011.3 L701.3 1012.8 L701.4 1014.3 L701.4 1015.8 L701.4 1017.3 L701.5 1018.8 L701.5 1020.3 L701.5 1021.8 L701.6 1023.3 L701.6 1024.8 L701.6 1026.3 L701.7 1027.8 L701.7 1029.3 L701.7 1030.8 L701.8 1032.3 L701.8 1033.8 L701.8 1035.3 L701.9 1036.8 L701.9 1038.3 L701.9 1039.8 L702.0 1041.3 L702.0 1042.8 L702.0 1044.3 L702.1 1045.8 L702.1 1047.3 L702.1 1048.8 L702.2 1050.3 L702.2 1051.8 L702.2 1053.3 L702.3 1054.8 L702.3 1056.3 L702.3 1057.8 L702.4 1059.3 L702.4 1060.8 L702.4 1062.3 L702.5 1063.8 L702.6 1065.3 L702.7 1066.8 L702.8 1068.3 L702.9 1069.8 L703.0 1071.3 L703.1 1072.8 L703.2 1074.3 L703.3 1075.8 L703.4 1077.3 L703.5 1078.8 L703.6 1080.2 L703.9 1081.6 L704.8 1082.7 L706.0 1083.5 L707.4 1083.9 L708.9 1084.0 L710.4 1084.0 L711.9 1084.0 L713.4 1084.0 L714.9 1084.0 L716.4 1084.0 L717.9 1084.0 L719.4 1084.0 L720.9 1084.0 L722.4 1084.0 L723.9 1084.0 L725.4 1084.0 L726.9 1084.0 L728.4 1084.0 L729.9 1084.0 L731.4 1084.0 L732.9 1084.0 L734.4 1084.0 L735.9 1084.0 L737.4 1084.0 L738.9 1084.0 L740.4 1084.0 L741.9 1084.0 L743.4 1084.0 L744.9 1084.0 L746.4 1084.0 L747.9 1084.0 L749.4 1084.0 L750.8 1084.0 L752.3 1084.0" fill="none" stroke="#ff0000" stroke-width="2.7" stroke-linejoin="round" stroke-linecap="round"/>
<path d="M383.5 1084.0 L384.6 1084.0 L386.1 1084.0 L387.6 1084.0 L389.1 1084.0 L390.6 1084.0 L392.1 1084.0 L393.6 1084.0 L395.1 1084.0 L396.6 1084.0 L398.1 1084.0 L399.6 1084.0 L401.1 1084.0 L402.6 1084.0 L404.1 1084.0 L405.6 1084.0 L407.1 1084.0 L408.6 1084.0 L410.1 1084.0 L411.6 1084.0 L413.1 1084.0 L414.6 1084.0 L416.1 1084.0 L417.6 1084.0 L419.1 1084.0 L420.6 1084.0 L422.1 1084.0 L423.6 1084.0 L425.0 1083.8 L425.8 1083.1 L426.0 1081.7 L426.1 1080.2 L426.2 1078.7 L426.4 1077.2 L426.5 1075.7 L426.6 1074.2 L426.8 1072.7 L426.9 1071.2 L427.0 1069.7 L427.1 1068.2 L427.1 1066.7 L427.2 1065.2 L427.2 1063.7 L427.3 1062.2 L427.3 1060.7 L427.3 1059.2 L427.4 1057.7 L427.4 1056.2 L427.5 1054.8 L427.5 1053.3 L427.6 1051.8 L427.6 1050.3 L427.7 1048.8 L427.7 1047.3 L427.7 1045.8 L427.8 1044.3 L427.8 1042.8 L427.9 1041.3 L427.9 1039.8 L428.0 1038.3 L428.0 1036.8 L428.1 1035.3 L428.1 1033.8 L428.2 1032.3 L428.2 1030.8 L428.2 1029.3 L428.3 1027.8 L428.3 1026.3 L428.4 1024.8 L428.4 1023.3 L428.5 1021.8 L428.5 1020.3 L428.6 1018.8 L428.6 1017.3 L428.6 1015.8 L428.7 1014.3 L428.7 1012.8 L428.8 1011.3 L428.8 1009.8 L428.9 1008.3 L428.9 1006.8 L429.0 1005.3 L429.0 1003.8 L429.1 1002.3 L429.1 1000.8 L429.2 999.3 L429.2 997.8 L429.3 996.3 L429.3 994.8 L429.4 993.3 L429.4 991.8 L429.5 990.3 L429.5 988.8 L429.6 987.3 L429.7 985.8 L429.7 984.3 L429.8 982.8 L429.8 981.3 L429.9 979.8 L429.9 978.3 L430.0 976.8 L430.0 975.3 L430.1 973.8 L430.1 972.3 L430.2 970.8 L430.2 969.3 L430.3 967.8 L430.3 966.3 L430.4 964.8 L430.4 963.3 L430.5 961.8 L430.5 960.3 L430.6 958.8 L430.7 957.3 L430.7 955.8 L430.8 954.3 L430.8 952.8 L430.9 951.3 L430.9 949.8 L431.0 948.3 L431.0 946.8 L431.1 945.3 L431.2 943.8 L431.3 942.3 L431.4 940.8 L431.5 939.3 L431.6 937.8 L431.7 936.3 L431.8 934.8 L431.9 933.3 L432.0 931.8 L432.1 930.3 L432.2 928.9 L432.3 927.4 L432.4 925.9 L432.5 924.4 L432.7 922.9 L432.8 921.4 L432.9 919.9 L433.0 918.4 L433.1 916.9 L433.2 915.4 L433.3 913.9 L433.5 912.4 L433.7 910.9 L433.9 909.4 L434.1 907.9 L434.3 906.5 L434.5 905.0 L434.7 903.5 L434.9 902.0 L435.1 900.5 L435.3 899.0 L435.5 897.5 L435.8 896.1 L436.3 894.6 L436.8 893.2 L437.3 891.8 L437.8 890.4 L438.6 889.2 L439.6 888.3 L440.4 888.3 L440.9 889.4 L441.3 890.9 L441.7 892.3 L442.5 893.5 L443.4 894.0 L444.3 893.3 L445.2 892.1 L446.0 890.9 L446.8 889.6 L447.6 888.5 L448.4 888.3 L449.1 889.2 L449.9 890.5 L450.7 891.8 L451.6 893.0 L452.4 894.3 L453.0 895.6 L453.6 897.0 L454.1 898.4 L454.6 899.8 L455.1 901.2 L455.6 902.6 L456.2 904.0 L456.7 905.4 L457.3 906.2 L457.8 905.7 L458.4 904.4 L459.0 903.0 L459.5 901.8 L459.9 901.7 L460.3 902.9 L460.6 904.4 L460.8 905.8 L461.1 907.3 L461.4 908.8 L461.7 910.2 L462.1 910.9 L462.5 910.1 L463.0 908.7 L463.5 907.3 L464.0 906.3 L464.2 906.6 L464.3 908.0 L464.3 909.5 L464.4 911.0 L464.5 912.5 L464.5 914.0 L464.6 915.5 L464.7 917.0 L464.7 918.5 L464.8 920.0 L464.9 921.5 L464.9 923.0 L465.0 924.5 L465.1 926.0 L465.1 927.5 L465.2 929.0 L465.3 930.5 L465.3 932.0 L465.4 933.5 L465.5 935.0 L465.6 936.5 L465.7 938.0 L465.8 939.4 L465.8 940.9 L465.9 942.4 L466.0 943.9 L466.1 945.4 L466.2 946.9 L466.3 948.4 L466.4 949.9 L466.4 951.4 L466.5 952.9 L466.6 954.1 L466.7 953.8 L466.8 952.5 L466.9 951.0 L467.0 949.5 L467.0 948.0 L467.1 946.5 L467.2 945.0 L467.3 943.5 L467.4 942.0 L467.5 940.5 L467.6 939.0 L467.6 937.5 L467.7 936.0 L467.8 934.5 L467.9 933.0 L468.1 931.5 L468.2 930.0 L468.4 928.5 L468.5 927.0 L468.7 925.5 L468.8 924.1 L469.0 922.6 L469.1 921.7 L469.4 922.3 L469.7 923.7 L470.0 925.2 L470.2 926.6 L470.4 928.1 L470.5 929.6 L470.6 931.1 L470.7 932.6 L470.8 934.1 L470.9 935.6 L471.0 937.1 L471.1 938.6 L471.2 940.1 L471.3 941.6 L471.4 943.1 L471.5 944.6 L471.6 946.1 L471.8 947.6 L471.9 949.1 L472.1 950.6 L472.2 952.1 L472.4 953.5 L472.5 955.0 L472.7 956.5 L472.8 957.3 L472.9 956.5 L473.0 955.1 L473.1 953.6 L473.1 952.1 L473.2 950.6 L473.3 949.1 L473.4 947.6 L473.4 946.1 L473.5 944.6 L473.6 943.1 L473.7 941.6 L473.7 940.1 L473.8 938.6 L473.9 937.1 L474.0 935.6 L474.0 934.1 L474.1 932.6 L474.2 931.1 L474.3 929.6 L474.4 928.1 L474.5 926.6 L474.5 925.1 L474.6 923.6 L474.7 922.1 L474.8 920.6 L474.9 919.1 L475.0 917.6 L475.1 916.1 L475.1 914.6 L475.2 913.1 L475.4 911.6 L475.6 910.2 L475.9 908.7 L476.2 907.2 L476.5 905.8 L476.8 904.7 L476.9 905.1 L477.1 906.5 L477.2 908.0 L477.4 909.5 L477.5 911.0 L477.6 912.5 L477.8 914.0 L477.9 915.5 L478.0 916.9 L478.2 918.4 L478.3 919.9 L478.4 921.4 L478.5 922.9 L478.5 924.4 L478.5 925.9 L478.6 927.4 L478.6 928.9 L478.7 930.4 L478.7 931.9 L478.8 933.4 L478.8 934.9 L478.8 936.4 L478.9 937.9 L478.9 939.4 L479.0 940.9 L479.0 942.4 L479.0 943.9 L479.1 945.4 L479.1 946.9 L479.2 948.4 L479.2 949.9 L479.3 951.4 L479.3 952.9 L479.3 954.4 L479.4 955.9 L479.4 957.4 L479.5 958.9 L479.5 960.4 L479.5 961.9 L479.6 963.4 L479.6 964.9 L479.7 966.4 L479.7 967.9 L479.8 969.4 L479.8 970.9 L479.8 972.4 L479.9 973.9 L479.9 975.4 L480.0 976.9 L480.0 978.4 L480.1 979.9 L480.1 981.4 L480.1 982.9 L480.2 984.4 L480.2 985.9 L480.3 987.4 L480.3 988.9 L480.4 990.4 L480.4 991.9 L480.5 993.4 L480.5 994.9 L480.6 996.4 L480.6 997.9 L480.7 999.4 L480.7 1000.9 L480.8 1002.4 L480.8 1003.9 L480.8 1005.4 L480.9 1006.9 L480.9 1008.4 L481.0 1009.9 L481.0 1011.4 L481.1 1012.9 L481.1 1014.4 L481.2 1015.9 L481.2 1017.4 L481.3 1018.9 L481.3 1020.4 L481.4 1021.9 L481.4 1023.4 L481.5 1024.9 L481.6 1026.4 L481.7 1027.9 L481.9 1029.4 L482.1 1030.8 L482.2 1032.3 L482.4 1033.1 L482.5 1032.3 L482.6 1030.9 L482.6 1029.4 L482.7 1027.9 L482.8 1026.4 L482.8 1024.9 L482.9 1023.4 L483.0 1021.9 L483.1 1020.4 L483.1 1018.9 L483.2 1017.4 L483.3 1015.9 L483.3 1014.4 L483.4 1012.9 L483.5 1011.4 L483.6 1009.9 L483.6 1008.4 L483.7 1006.9 L483.7 1005.4 L483.8 1003.9 L483.8 1002.4 L483.8 1000.9 L483.9 999.4 L483.9 997.9 L483.9 996.4 L484.0 994.9 L484.0 993.4 L484.1 991.9 L484.1 990.4 L484.1 988.9 L484.2 987.4 L484.2 985.9 L484.2 984.4 L484.3 982.9 L484.3 981.4 L484.4 979.9 L484.4 978.4 L484.4 976.9 L484.5 975.4 L484.5 973.9 L484.5 972.4 L484.6 970.9 L484.6 969.4 L484.7 967.9 L484.7 966.4 L484.7 964.9 L484.8 963.4 L484.8 961.9 L484.8 960.4 L484.9 958.9 L484.9 957.4 L485.0 955.9 L485.0 954.4 L485.0 952.9 L485.1 951.4 L485.1 949.9 L485.1 948.4 L485.2 946.9 L485.2 945.4 L485.3 943.9 L485.3 942.4 L485.4 940.9 L485.5 939.4 L485.5 937.9 L485.6 936.4 L485.6 934.9 L485.7 933.4 L485.7 931.9 L485.8 930.4 L485.9 928.9 L485.9 927.5 L486.0 926.0 L486.0 924.5 L486.1 923.0 L486.1 921.5 L486.2 920.0 L486.3 918.5 L486.3 917.0 L486.4 915.5 L486.4 914.0 L486.5 912.5 L486.5 911.0 L486.6 909.5 L486.7 908.0 L486.7 906.5 L487.0 905.0 L487.4 903.6 L487.9 902.2 L488.3 901.6 L488.6 902.4 L488.9 903.8 L489.2 905.3 L489.5 906.8 L489.7 908.2 L489.9 909.7 L489.9 911.2 L490.0 912.7 L490.0 914.2 L490.1 915.7 L490.1 917.2 L490.2 918.7 L490.2 920.2 L490.2 921.7 L490.3 923.2 L490.3 924.7 L490.4 926.2 L490.4 927.7 L490.5 929.2 L490.5 930.7 L490.5 932.2 L490.6 933.7 L490.6 935.2 L490.7 936.7 L490.7 938.2 L490.8 939.7 L490.8 941.2 L490.9 942.7 L490.9 944.2 L490.9 945.7 L491.0 947.2 L491.0 948.7 L491.1 950.2 L491.1 951.7 L491.2 953.2 L491.2 954.7 L491.3 956.2 L491.3 957.7 L491.3 959.2 L491.4 960.7 L491.4 962.2 L491.5 963.7 L491.5 965.2 L491.5 966.7 L491.6 968.2 L491.6 969.7 L491.7 971.2 L491.7 972.7 L491.7 974.2 L491.8 975.7 L491.8 977.2 L491.8 978.7 L491.9 980.2 L491.9 981.7 L492.0 983.2 L492.0 984.7 L492.0 986.2 L492.1 987.7 L492.1 989.2 L492.1 990.7 L492.2 992.2 L492.2 993.7 L492.3 995.2 L492.3 996.7 L492.3 998.2 L492.4 999.7 L492.4 1001.2 L492.4 1002.7 L492.5 1004.2 L492.5 1005.7 L492.6 1007.2 L492.6 1008.7 L492.6 1010.2 L492.7 1011.7 L492.7 1013.2 L492.7 1014.7 L492.8 1016.2 L492.8 1017.7 L492.9 1019.2 L492.9 1020.7 L492.9 1022.2 L493.0 1023.7 L493.0 1025.2 L493.1 1026.7 L493.2 1028.2 L493.2 1029.7 L493.3 1031.2 L493.4 1032.7 L493.4 1034.2 L493.5 1035.7 L493.5 1037.2 L493.6 1038.7 L493.7 1040.2 L493.7 1041.7 L493.8 1043.2 L493.9 1044.7 L493.9 1046.2 L494.0 1047.7 L494.0 1049.2 L494.1 1050.6 L494.2 1051.6 L494.2 1051.1 L494.3 1049.7 L494.4 1048.2 L494.4 1046.7 L494.5 1045.2 L494.6 1043.7 L494.6 1042.2 L494.7 1040.7 L494.7 1039.2 L494.8 1037.7 L494.9 1036.2 L494.9 1034.7 L495.0 1033.2 L495.1 1031.7 L495.1 1030.2 L495.2 1028.7 L495.2 1027.2 L495.3 1025.7 L495.4 1024.2 L495.4 1022.7 L495.5 1021.2 L495.5 1019.7 L495.5 1018.2 L495.6 1016.7 L495.6 1015.2 L495.7 1013.7 L495.7 1012.2 L495.7 1010.7 L495.8 1009.2 L495.8 1007.7 L495.8 1006.2 L495.9 1004.7 L495.9 1003.2 L496.0 1001.7 L496.0 1000.2 L496.0 998.7 L496.1 997.2 L496.1 995.7 L496.1 994.2 L496.2 992.7 L496.2 991.2 L496.3 989.7 L496.3 988.2 L496.3 986.7 L496.4 985.2 L496.4 983.7 L496.4 982.2 L496.5 980.7 L496.5 979.2 L496.6 977.7 L496.6 976.2 L496.6 974.7 L496.7 973.2 L496.7 971.7 L496.7 970.2 L496.8 968.7 L496.8 967.2 L496.9 965.7 L496.9 964.2 L496.9 962.7 L497.0 961.2 L497.0 959.7 L497.1 958.2 L497.1 956.7 L497.2 955.2 L497.2 953.7 L497.3 952.2 L497.3 950.7 L497.4 949.2 L497.4 947.7 L497.5 946.2 L497.5 944.8 L497.6 943.3 L497.7 941.8 L497.7 940.3 L497.8 938.8 L497.8 937.3 L497.9 935.8 L497.9 934.3 L498.0 932.8 L498.0 931.3 L498.1 929.8 L498.1 928.3 L498.2 926.8 L498.2 925.3 L498.3 923.8 L498.3 922.3 L498.4 920.8 L498.4 919.3 L498.5 917.8 L498.6 916.3 L498.6 914.8 L498.7 913.3 L498.7 911.8 L498.8 910.3 L498.9 908.8 L499.2 907.3 L499.5 905.9 L499.9 904.4 L500.3 903.0 L500.7 901.5 L501.2 900.1 L501.9 899.0 L503.0 898.3 L503.8 898.6 L504.1 899.9 L504.3 901.4 L504.5 902.9 L504.7 904.4 L504.9 905.9 L505.2 907.3 L505.4 908.8 L505.7 910.3 L506.0 911.8 L506.3 913.2 L506.6 914.7 L506.9 916.2 L507.1 917.6 L507.4 918.5 L507.7 918.0 L508.0 916.7 L508.2 915.2 L508.5 913.7 L508.7 912.2 L509.0 910.7 L509.2 909.3 L509.6 907.8 L510.0 906.4 L510.4 904.9 L510.8 903.5 L511.2 902.0 L511.9 900.8 L512.9 899.9 L513.8 900.0 L514.4 901.2 L515.0 902.5 L515.6 903.2 L516.4 902.6 L517.3 901.6 L518.0 901.7 L518.7 902.9 L519.3 904.2 L520.0 904.7 L520.7 903.9 L521.4 902.7 L522.1 901.6 L522.8 901.8 L523.5 902.9 L524.2 904.2 L524.9 904.7 L525.5 903.9 L526.2 902.6 L526.8 901.6 L527.6 901.8 L528.4 902.8 L529.2 903.1 L529.7 902.2 L530.2 900.9 L530.6 900.0 L530.8 900.7 L531.0 902.1 L531.1 903.6 L531.3 905.1 L531.4 906.6 L531.6 908.1 L531.7 909.6 L531.9 911.0 L532.0 912.5 L532.2 914.0 L532.4 915.5 L532.6 917.0 L532.8 918.5 L533.0 920.0 L533.3 921.4 L533.5 922.9 L533.7 924.4 L534.0 925.9 L534.5 927.1 L535.5 928.0 L536.4 927.8 L537.0 926.6 L537.5 925.2 L538.0 923.8 L538.7 922.6 L539.8 921.7 L540.9 921.5 L541.7 922.4 L542.4 923.7 L543.2 924.8 L544.1 924.9 L545.1 924.6 L545.6 925.3 L545.9 926.7 L546.0 928.2 L546.2 929.7 L546.4 931.2 L546.5 932.7 L546.7 934.2 L546.9 935.7 L547.1 937.1 L547.8 938.2 L548.9 939.2 L549.7 940.3 L550.0 941.7 L550.3 943.2 L550.6 944.7 L550.9 946.1 L551.2 947.6 L551.5 949.0 L551.9 949.5 L552.5 948.7 L553.1 947.4 L553.7 946.5 L554.2 946.9 L554.7 948.2 L555.1 949.6 L555.5 950.8 L556.0 950.9 L556.5 949.8 L557.0 948.4 L557.5 947.1 L557.9 946.4 L558.1 947.3 L558.3 948.8 L558.5 950.2 L558.7 951.7 L558.9 953.2 L559.1 954.7 L559.2 956.2 L559.5 957.7 L559.9 959.1 L560.5 960.5 L561.0 961.9 L561.6 963.3 L562.0 964.7 L562.4 966.2 L562.7 967.6 L563.1 969.1 L563.4 970.5 L563.8 971.9 L564.1 972.7 L564.5 972.1 L564.9 970.7 L565.3 969.2 L565.6 967.8 L566.0 966.3 L566.4 965.2 L567.0 965.2 L567.6 966.4 L568.2 967.7 L568.8 969.1 L569.3 970.5 L569.7 971.9 L570.2 973.4 L570.7 974.8 L571.1 976.2 L571.6 977.6 L572.2 979.0 L572.8 980.4 L573.3 981.8 L573.7 983.2 L574.0 984.7 L574.3 986.2 L574.5 987.7 L574.7 989.1 L575.0 990.6 L575.2 992.1 L575.4 993.6 L575.7 995.1 L575.9 996.5 L576.2 998.0 L576.7 999.4 L577.2 1000.8 L577.8 1002.2 L578.3 1003.4 L578.8 1003.6 L579.2 1002.4 L579.6 1001.0 L580.0 999.5 L580.4 998.1 L580.7 996.6 L581.1 995.2 L581.4 993.7 L581.7 992.2 L581.9 990.8 L582.2 989.3 L582.4 987.8 L582.7 986.3 L583.0 984.9 L583.2 983.4 L583.6 982.1 L584.4 981.9 L585.4 982.7 L586.0 984.0 L586.4 985.4 L586.7 986.9 L587.1 988.3 L587.4 989.8 L587.8 991.2 L588.2 992.7 L588.7 994.1 L589.3 995.5 L589.9 996.8 L590.4 997.5 L590.7 996.8 L591.1 995.4 L591.4 993.9 L591.8 992.4 L592.1 991.0 L592.4 989.5 L592.8 988.1 L593.1 986.6 L593.4 985.1 L593.7 983.7 L593.9 982.2 L594.2 980.7 L594.5 979.2 L594.9 977.8 L595.6 976.9 L596.9 976.7 L598.0 977.1 L598.5 978.3 L598.9 979.8 L599.2 981.2 L599.6 982.7 L599.9 984.1 L600.3 985.1 L600.7 984.6 L601.1 983.3 L601.5 981.9 L602.0 980.7 L602.4 980.7 L602.9 981.8 L603.4 983.2 L603.9 984.6 L604.3 986.1 L604.6 987.6 L604.8 989.0 L605.0 990.5 L605.2 992.0 L605.4 993.5 L605.6 995.0 L605.8 996.5 L606.0 997.9 L606.2 999.4 L606.4 1000.5 L606.7 1000.2 L606.9 998.8 L607.0 997.4 L607.2 995.9 L607.4 994.4 L607.6 992.9 L607.8 991.4 L608.0 989.9 L608.2 988.4 L608.4 986.9 L608.6 985.5 L608.8 984.1 L609.1 983.6 L609.5 984.6 L609.8 986.0 L610.2 987.5 L610.6 988.9 L611.0 990.4 L611.4 991.8 L611.7 993.3 L612.0 994.7 L612.3 996.2 L612.6 997.7 L612.9 998.9 L613.1 998.8 L613.3 997.5 L613.5 996.0 L613.7 994.5 L613.9 993.1 L614.0 991.6 L614.2 990.1 L614.4 988.6 L614.6 987.1 L614.8 985.6 L615.0 984.1 L615.2 982.6 L615.3 981.1 L615.5 979.7 L615.7 978.2 L615.9 976.7 L616.2 975.8 L616.6 976.4 L617.1 977.8 L617.6 979.2 L618.1 980.4 L619.0 980.6 L620.2 980.0 L621.2 978.9 L622.1 977.7 L622.9 976.5 L623.6 975.1 L624.2 973.8 L624.8 972.4 L625.3 971.0 L625.7 969.5 L626.0 968.1 L626.4 966.6 L626.8 965.3 L627.5 964.8 L628.6 965.2 L629.4 964.9 L629.6 963.7 L629.8 962.2 L630.0 960.7 L630.1 959.2 L630.3 957.7 L630.5 956.2 L630.6 954.7 L630.8 953.2 L630.9 951.7 L631.1 950.3 L631.5 948.8 L632.2 947.6 L633.2 946.5 L634.2 946.2 L635.4 946.8 L636.4 947.8 L637.1 949.1 L637.7 950.4 L638.3 951.1 L638.6 950.3 L638.8 948.9 L639.1 947.4 L639.3 945.9 L639.5 944.4 L639.8 943.0 L640.0 941.5 L640.2 940.0 L640.5 938.5 L640.7 937.0 L641.0 935.6 L641.3 934.1 L641.6 932.6 L641.9 931.2 L642.2 929.7 L642.9 928.5 L643.9 927.5 L644.8 926.3 L645.3 924.9 L645.8 923.5 L646.3 922.2 L646.7 921.7 L647.0 922.6 L647.2 924.1 L647.4 925.6 L647.7 927.1 L647.9 928.5 L648.1 930.0 L648.3 931.5 L648.6 932.5 L648.9 932.0 L649.2 930.7 L649.6 929.2 L649.9 927.7 L650.2 926.3 L650.6 924.8 L650.9 923.3 L651.2 921.9 L651.5 920.4 L651.8 918.9 L652.1 917.5 L652.4 916.0 L652.7 914.6 L653.0 914.0 L653.3 914.8 L653.7 916.2 L654.0 917.7 L654.4 919.1 L654.7 920.1 L654.9 919.6 L655.2 918.3 L655.4 916.8 L655.6 915.3 L655.8 913.8 L656.0 912.3 L656.2 910.8 L656.4 909.4 L656.6 907.9 L656.8 906.4 L657.2 904.9 L657.6 903.5 L658.1 902.1 L658.6 900.7 L659.1 900.0 L659.5 900.7 L659.9 902.1 L660.3 903.6 L660.7 905.0 L661.0 906.5 L661.4 907.9 L661.8 909.4 L662.2 910.8 L662.6 912.3 L663.0 913.7 L663.4 915.2 L663.8 916.6 L664.4 917.9 L665.5 918.7 L666.3 918.5 L666.8 917.3 L667.2 915.9 L667.6 914.4 L668.0 913.0 L668.7 912.2 L669.7 912.4 L670.7 912.5 L671.1 911.5 L671.3 910.0 L671.5 908.6 L671.8 907.1 L672.0 905.6 L672.2 904.1 L672.4 902.6 L672.6 901.1 L672.8 899.7 L673.1 898.2 L673.3 897.0 L673.6 897.3 L673.9 898.6 L674.3 900.0 L674.6 901.5 L674.9 902.9 L675.3 904.3 L675.6 904.6 L675.8 903.5 L676.0 902.0 L676.2 900.6 L676.4 899.1 L676.6 897.6 L676.8 896.1 L677.0 894.6 L677.2 893.1 L677.5 891.7 L677.8 890.7 L678.3 891.2 L679.0 892.4 L679.7 893.6 L680.7 894.1 L681.8 893.7 L682.7 893.9 L683.2 895.1 L683.6 896.6 L684.0 898.0 L684.4 899.4 L684.7 900.0 L684.9 899.2 L685.1 897.7 L685.2 896.2 L685.4 894.7 L685.5 893.2 L685.6 891.7 L685.8 890.2 L685.9 888.8 L686.0 887.3 L686.2 885.8 L686.3 884.3 L686.5 882.8 L686.6 881.3 L686.8 879.8 L687.0 878.3 L687.1 876.8 L687.3 875.3 L687.5 873.8 L687.6 872.3 L687.8 871.0 L688.0 870.7 L688.1 871.8 L688.3 873.3 L688.4 874.8 L688.6 876.3 L688.8 877.8 L688.9 879.3 L689.1 880.8 L689.3 882.3 L689.4 883.8 L689.6 885.2 L689.8 886.7 L690.0 888.2 L690.2 889.7 L690.4 891.2 L690.6 892.7 L690.7 894.2 L691.0 895.3 L691.2 895.0 L691.6 893.7 L691.9 892.3 L692.2 890.8 L692.6 889.3 L692.9 887.9 L693.4 886.4 L693.9 885.0 L694.4 883.6 L695.0 882.3 L695.6 881.4 L696.3 881.9 L697.0 883.1 L697.5 884.5 L697.8 886.0 L698.0 887.4 L698.2 888.9 L698.4 890.4 L698.6 891.9 L698.7 893.4 L698.8 894.9 L698.8 896.4 L698.9 897.9 L699.0 899.4 L699.0 900.9 L699.1 902.4 L699.1 903.9 L699.2 905.4 L699.2 906.9 L699.3 908.4 L699.3 909.9 L699.4 911.4 L699.4 912.9 L699.5 914.4 L699.5 915.9 L699.6 917.4 L699.6 918.9 L699.7 920.4 L699.7 921.9 L699.8 923.4 L699.9 924.9 L699.9 926.4 L700.0 927.9 L700.0 929.4 L700.1 930.9 L700.1 932.4 L700.2 933.9 L700.2 935.4 L700.3 936.9 L700.3 938.4 L700.4 939.9 L700.4 941.4 L700.5 942.9 L700.5 944.4 L700.6 945.9 L700.6 947.4 L700.7 948.9 L700.7 950.4 L700.7 951.9 L700.8 953.4 L700.8 954.9 L700.9 956.4 L700.9 957.9 L700.9 959.4 L701.0 960.9 L701.0 962.4 L701.0 963.9 L701.1 965.4 L701.1 966.9 L701.2 968.4 L701.2 969.9 L701.2 971.4 L701.3 972.9 L701.3 974.4 L701.3 975.9 L701.4 977.4 L701.4 978.9 L701.5 980.4 L701.5 981.9 L701.5 983.4 L701.6 984.8 L701.6 986.3 L701.6 987.8 L701.7 989.3 L701.7 990.8 L701.8 992.3 L701.8 993.8 L701.8 995.3 L701.9 996.8 L701.9 998.3 L701.9 999.8 L702.0 1001.3 L702.0 1002.8 L702.1 1004.3 L702.1 1005.8 L702.1 1007.3 L702.2 1008.8 L702.2 1010.3 L702.3 1011.8 L702.3 1013.3 L702.4 1014.8 L702.4 1016.3 L702.5 1017.8 L702.5 1019.3 L702.6 1020.8 L702.6 1022.3 L702.7 1023.8 L702.7 1025.3 L702.8 1026.8 L702.8 1028.3 L702.9 1029.8 L702.9 1031.3 L703.0 1032.8 L703.0 1034.3 L703.1 1035.8 L703.1 1037.3 L703.2 1038.8 L703.2 1040.3 L703.3 1041.8 L703.3 1043.3 L703.4 1044.8 L703.4 1046.3 L703.5 1047.8 L703.5 1049.3 L703.6 1050.8 L703.6 1052.3 L703.7 1053.8 L703.7 1055.3 L703.8 1056.8 L703.9 1058.3 L704.0 1059.8 L704.0 1061.3 L704.1 1062.8 L704.2 1064.3 L704.3 1065.8 L704.3 1067.3 L704.4 1068.8 L704.5 1070.3 L704.6 1071.8 L704.6 1073.3 L704.7 1074.8 L704.8 1076.3 L704.9 1077.8 L705.3 1079.2 L705.9 1080.5 L706.6 1081.8 L707.4 1082.7 L708.5 1082.6 L709.6 1082.3 L710.7 1083.0 L711.9 1083.7 L713.3 1084.0 L714.8 1084.0 L716.3 1084.0 L717.8 1084.0 L719.3 1084.0 L720.8 1084.0 L722.3 1084.0 L723.8 1084.0 L725.3 1084.0 L726.8 1084.0 L728.3 1084.0 L729.8 1084.0 L731.3 1084.0 L732.8 1084.0 L734.3 1084.0 L735.8 1084.0 L737.3 1084.0 L738.8 1084.0 L740.3 1084.0 L741.8 1084.0 L743.3 1084.0 L744.8 1084.0 L746.3 1084.0 L747.8 1084.0 L749.3 1084.0 L750.7 1084.0 L752.3 1084.0" fill="none" stroke="#0000ff" stroke-width="2.7" stroke-linejoin="round" stroke-linecap="round"/>
</g>
<path d="M424.0 1134.4 v-3.7 M424.0 764.6 v3.7 M567.4 1134.4 v-3.7 M567.4 764.6 v3.7 M710.9 1134.4 v-3.7 M710.9 764.6 v3.7 M383.1 875.1 h3.7 M752.3 875.1 h-3.7 M383.1 939.8 h3.7 M752.3 939.8 h-3.7 M383.1 1004.6 h3.7 M752.3 1004.6 h-3.7 M383.1 1069.4 h3.7 M752.3 1069.4 h-3.7 " stroke="#262626" stroke-width="1" fill="none"/>
<rect x="383.1" y="764.6" width="369.19999999999993" height="369.80000000000007" fill="none" stroke="#262626" stroke-width="1"/>
<text class="k" x="394.20000000000005" y="802.6" font-size="33.5">j)</text>
<text class="k" x="424.0" y="1177.6" font-size="32.6" text-anchor="middle">-15</text>
<text class="k" x="567.4" y="1177.6" font-size="32.6" text-anchor="middle">0</text>
<text class="k" x="710.9" y="1177.6" font-size="32.6" text-anchor="middle">15</text>
<text class="k" x="567.9" y="1220.6" font-size="33" text-anchor="middle"><tspan font-style="italic">μ</tspan>m</text>
<!-- plot k) -->
<clipPath id="pc2"><rect x="765.6" y="764.6" width="369.4" height="369.80000000000007"/></clipPath>
<rect x="765.6" y="764.6" width="369.4" height="369.80000000000007" fill="#fff"/>
<path d="M806.2 764.6 V1134.4 M949.6 764.6 V1134.4 M1093.1 764.6 V1134.4 M765.6 875.1 H1135.0 M765.6 939.8 H1135.0 M765.6 1004.6 H1135.0 M765.6 1069.4 H1135.0 " stroke="#dfdfdf" stroke-width="1" fill="none"/>
<g clip-path="url(#pc2)">
<path d="M765.6 1134.4 L765.6 1084.0 L868.0 1084.0 L868.9 1069.4 L869.9 897.7 L870.8 896.2 L924.9 896.2 L925.6 902.3 L927.4 1078.7 L928.0 1080.9 L930.5 1080.9 L931.1 1078.7 L932.1 902.3 L932.7 896.2 L938.2 896.2 L938.9 902.3 L940.7 1078.7 L941.3 1080.9 L943.2 1080.9 L943.8 1078.7 L945.0 902.3 L945.7 896.2 L948.8 896.2 L949.4 902.3 L950.6 1080.9 L950.9 1080.9 L952.2 902.3 L952.8 896.2 L954.3 896.2 L954.9 902.3 L955.9 1013.7 L956.8 1013.7 L957.4 1080.9 L958.0 1080.9 L958.7 945.7 L959.6 897.7 L961.1 896.2 L995.8 990.5 L1030.8 896.2 L1046.2 896.2 L1047.2 902.3 L1049.6 1078.7 L1051.5 1084.0 L1135.0 1084.0 L1135.0 1134.4 Z" fill="#d9d9d9" stroke="#000" stroke-width="0.7" stroke-linejoin="round"/>
<path d="M766.0 1084.0 L767.1 1084.0 L768.6 1084.0 L770.1 1084.0 L771.6 1084.0 L773.1 1084.0 L774.6 1084.0 L776.1 1084.0 L777.6 1084.0 L779.1 1084.0 L780.6 1084.0 L782.1 1084.0 L783.6 1084.0 L785.1 1084.0 L786.6 1084.0 L788.1 1084.0 L789.6 1084.0 L791.1 1084.0 L792.6 1084.0 L794.1 1084.0 L795.6 1084.0 L797.1 1084.0 L798.6 1084.0 L800.1 1084.0 L801.6 1084.0 L803.1 1084.0 L804.6 1084.0 L806.1 1084.0 L807.6 1084.0 L809.1 1084.0 L810.6 1084.0 L812.1 1084.0 L813.6 1084.0 L815.1 1084.0 L816.6 1084.0 L818.1 1084.0 L819.6 1084.0 L821.1 1084.0 L822.6 1084.0 L824.1 1084.0 L825.6 1084.0 L827.1 1084.0 L828.6 1084.0 L830.1 1084.0 L831.6 1084.0 L833.1 1084.0 L834.6 1084.0 L836.1 1084.0 L837.6 1084.0 L839.1 1084.0 L840.6 1084.0 L842.1 1084.0 L843.6 1084.0 L845.1 1084.0 L846.6 1084.0 L848.1 1084.0 L849.6 1083.9 L851.1 1083.8 L852.5 1083.6 L854.0 1083.4 L855.5 1083.2 L857.0 1083.0 L858.5 1082.8 L860.0 1082.6 L861.5 1082.4 L862.9 1082.2 L864.3 1081.8 L865.2 1081.0 L865.5 1079.6 L865.7 1078.1 L865.9 1076.7 L866.0 1075.2 L866.2 1073.7 L866.4 1072.2 L866.6 1070.7 L866.7 1069.2 L866.8 1067.7 L866.8 1066.2 L866.9 1064.7 L866.9 1063.2 L867.0 1061.7 L867.0 1060.2 L867.0 1058.7 L867.1 1057.2 L867.1 1055.7 L867.1 1054.2 L867.2 1052.7 L867.2 1051.2 L867.3 1049.7 L867.3 1048.2 L867.3 1046.7 L867.4 1045.2 L867.4 1043.7 L867.4 1042.2 L867.5 1040.7 L867.5 1039.2 L867.6 1037.7 L867.6 1036.2 L867.6 1034.7 L867.7 1033.2 L867.7 1031.7 L867.7 1030.2 L867.8 1028.7 L867.8 1027.2 L867.9 1025.7 L867.9 1024.2 L867.9 1022.7 L868.0 1021.2 L868.0 1019.7 L868.0 1018.2 L868.1 1016.7 L868.1 1015.2 L868.2 1013.7 L868.2 1012.2 L868.2 1010.7 L868.3 1009.2 L868.3 1007.7 L868.3 1006.2 L868.4 1004.7 L868.4 1003.2 L868.5 1001.7 L868.5 1000.2 L868.5 998.7 L868.6 997.2 L868.6 995.7 L868.6 994.2 L868.7 992.7 L868.7 991.2 L868.8 989.7 L868.8 988.2 L868.8 986.7 L868.9 985.2 L868.9 983.7 L868.9 982.2 L869.0 980.7 L869.0 979.2 L869.1 977.7 L869.1 976.2 L869.1 974.7 L869.2 973.2 L869.2 971.7 L869.2 970.2 L869.3 968.7 L869.3 967.2 L869.4 965.7 L869.4 964.2 L869.4 962.7 L869.5 961.2 L869.5 959.7 L869.5 958.2 L869.6 956.7 L869.6 955.2 L869.7 953.7 L869.7 952.2 L869.7 950.7 L869.8 949.2 L869.8 947.7 L869.8 946.2 L869.9 944.7 L869.9 943.3 L870.0 941.8 L870.0 940.3 L870.1 938.8 L870.1 937.3 L870.2 935.8 L870.2 934.3 L870.3 932.8 L870.3 931.3 L870.4 929.8 L870.4 928.3 L870.5 926.8 L870.5 925.3 L870.6 923.8 L870.6 922.3 L870.7 920.8 L870.7 919.3 L870.8 917.8 L870.8 916.3 L870.9 914.8 L870.9 913.3 L871.0 911.8 L871.0 910.3 L871.1 908.8 L871.1 907.3 L871.2 905.8 L871.2 904.3 L871.3 902.8 L871.3 901.3 L871.4 899.8 L871.5 898.3 L871.6 896.8 L871.8 895.3 L871.9 893.8 L872.1 892.3 L872.2 890.8 L872.4 889.3 L872.5 887.8 L872.7 886.3 L872.9 884.9 L873.2 883.4 L873.6 882.0 L874.2 880.6 L874.8 879.2 L875.7 878.2 L877.0 877.9 L878.4 878.1 L879.7 878.7 L881.0 879.4 L882.3 880.2 L883.6 881.0 L884.8 881.8 L886.1 882.6 L887.4 883.4 L888.7 884.0 L890.1 884.6 L891.5 885.0 L892.9 884.8 L894.3 884.4 L895.7 883.8 L896.9 883.0 L898.0 882.0 L899.0 880.9 L900.1 879.9 L901.1 878.7 L902.0 877.6 L902.9 876.4 L903.8 875.2 L904.7 874.0 L905.5 872.7 L906.3 871.5 L907.1 870.2 L907.9 868.9 L908.7 867.6 L909.4 866.3 L910.2 865.0 L910.9 863.7 L911.6 862.4 L912.3 861.0 L913.0 859.7 L913.7 858.4 L914.4 857.1 L915.1 855.7 L915.7 854.4 L916.4 853.0 L917.0 851.7 L917.6 850.3 L918.3 848.9 L918.9 847.6 L919.6 846.3 L920.3 844.9 L921.0 843.6 L921.8 842.3 L922.7 841.3 L923.6 841.0 L924.1 841.9 L924.3 843.4 L924.4 844.9 L924.6 846.3 L924.7 847.8 L924.9 849.3 L925.0 850.8 L925.2 852.3 L925.3 853.8 L925.3 855.3 L925.3 856.8 L925.4 858.3 L925.4 859.8 L925.4 861.3 L925.4 862.8 L925.5 864.3 L925.5 865.8 L925.5 867.3 L925.6 868.8 L925.6 870.3 L925.6 871.8 L925.7 873.3 L925.7 874.8 L925.7 876.3 L925.7 877.8 L925.8 879.3 L925.8 880.8 L925.8 882.3 L925.9 883.8 L925.9 885.3 L925.9 886.8 L926.0 888.3 L926.0 889.8 L926.0 891.3 L926.0 892.8 L926.1 894.3 L926.1 895.8 L926.1 897.3 L926.2 898.8 L926.2 900.3 L926.2 901.8 L926.3 903.3 L926.3 904.8 L926.3 906.3 L926.3 907.8 L926.4 909.3 L926.4 910.8 L926.4 912.3 L926.5 913.8 L926.5 915.3 L926.5 916.8 L926.5 918.3 L926.5 919.8 L926.6 921.3 L926.6 922.8 L926.6 924.3 L926.6 925.8 L926.6 927.3 L926.7 928.8 L926.7 930.3 L926.7 931.8 L926.7 933.3 L926.7 934.8 L926.8 936.3 L926.8 937.8 L926.8 939.3 L926.8 940.8 L926.8 942.3 L926.9 943.8 L926.9 945.3 L926.9 946.8 L926.9 948.3 L926.9 949.8 L927.0 951.3 L927.0 952.8 L927.0 954.3 L927.0 955.8 L927.0 957.3 L927.1 958.8 L927.1 960.3 L927.1 961.8 L927.1 963.3 L927.1 964.8 L927.2 966.3 L927.2 967.8 L927.2 969.3 L927.2 970.8 L927.2 972.3 L927.3 973.8 L927.3 975.3 L927.3 976.8 L927.3 978.3 L927.3 979.8 L927.4 981.3 L927.4 982.8 L927.4 984.3 L927.4 985.8 L927.4 987.3 L927.5 988.8 L927.5 990.3 L927.5 991.8 L927.5 993.3 L927.5 994.8 L927.6 996.3 L927.6 997.8 L927.6 999.3 L927.6 1000.8 L927.6 1002.3 L927.7 1003.8 L927.7 1005.3 L927.7 1006.8 L927.7 1008.3 L927.8 1009.8 L927.8 1011.3 L927.9 1012.8 L927.9 1014.3 L928.0 1015.8 L928.0 1017.3 L928.1 1018.8 L928.1 1020.3 L928.2 1021.8 L928.2 1023.3 L928.2 1024.8 L928.3 1026.3 L928.3 1027.8 L928.4 1029.3 L928.4 1030.8 L928.5 1032.3 L928.5 1033.8 L928.6 1035.3 L928.6 1036.8 L928.7 1038.3 L928.7 1039.8 L928.8 1041.3 L928.8 1042.8 L928.8 1044.3 L928.9 1045.8 L929.0 1046.9 L929.2 1046.7 L929.4 1045.3 L929.7 1043.9 L930.0 1042.4 L930.3 1040.9 L930.6 1039.5 L930.8 1038.0 L930.9 1036.5 L930.9 1035.0 L930.9 1033.5 L930.9 1032.0 L931.0 1030.5 L931.0 1029.0 L931.0 1027.5 L931.1 1026.0 L931.1 1024.5 L931.1 1023.0 L931.2 1021.5 L931.2 1020.0 L931.2 1018.5 L931.2 1017.0 L931.3 1015.5 L931.3 1014.0 L931.3 1012.5 L931.4 1011.0 L931.4 1009.5 L931.4 1008.0 L931.5 1006.5 L931.5 1005.0 L931.5 1003.5 L931.5 1002.0 L931.6 1000.5 L931.6 999.0 L931.6 997.5 L931.7 996.0 L931.7 994.5 L931.7 993.0 L931.8 991.5 L931.8 990.0 L931.8 988.5 L931.8 987.0 L931.9 985.5 L931.9 984.0 L931.9 982.5 L932.0 981.0 L932.0 979.5 L932.0 978.0 L932.1 976.5 L932.1 975.0 L932.1 973.5 L932.1 972.0 L932.1 970.5 L932.2 969.0 L932.2 967.5 L932.2 966.0 L932.2 964.5 L932.3 963.0 L932.3 961.5 L932.3 960.0 L932.3 958.5 L932.4 957.0 L932.4 955.5 L932.4 954.0 L932.4 952.5 L932.5 951.0 L932.5 949.5 L932.5 948.0 L932.5 946.5 L932.6 945.0 L932.6 943.5 L932.6 942.0 L932.6 940.5 L932.7 939.0 L932.7 937.5 L932.7 936.0 L932.7 934.5 L932.7 933.0 L932.8 931.5 L932.8 930.0 L932.8 928.5 L932.8 927.0 L932.9 925.5 L932.9 924.0 L932.9 922.5 L932.9 921.0 L933.0 919.5 L933.0 918.0 L933.0 916.5 L933.0 915.0 L933.1 913.5 L933.1 912.0 L933.1 910.5 L933.1 909.0 L933.2 907.5 L933.2 906.0 L933.2 904.5 L933.2 903.0 L933.3 901.5 L933.3 900.0 L933.3 898.5 L933.3 897.0 L933.4 895.5 L933.4 894.0 L933.5 892.5 L933.5 891.0 L933.5 889.5 L933.6 888.0 L933.6 886.5 L933.7 885.0 L933.7 883.5 L933.7 882.0 L933.8 880.5 L933.8 879.0 L933.9 877.5 L933.9 876.0 L933.9 874.5 L934.0 873.0 L934.0 871.5 L934.1 870.0 L934.1 868.5 L934.1 867.0 L934.2 865.5 L934.2 864.0 L934.3 862.5 L934.3 861.0 L934.3 859.5 L934.4 858.0 L934.4 856.5 L934.5 855.0 L934.5 853.5 L934.6 852.0 L934.7 850.5 L934.8 849.0 L935.0 847.5 L935.1 846.0 L935.2 844.5 L935.3 843.0 L935.4 841.6 L935.5 840.1 L935.7 838.7 L936.1 838.1 L936.7 838.9 L937.1 840.2 L937.2 841.7 L937.3 843.2 L937.4 844.7 L937.5 846.2 L937.5 847.7 L937.6 849.2 L937.7 850.7 L937.8 852.2 L937.9 853.7 L938.0 855.2 L938.1 856.7 L938.2 858.2 L938.2 859.7 L938.3 861.2 L938.3 862.7 L938.4 864.2 L938.4 865.7 L938.4 867.2 L938.5 868.7 L938.5 870.2 L938.5 871.7 L938.6 873.2 L938.6 874.7 L938.6 876.2 L938.7 877.7 L938.7 879.2 L938.7 880.7 L938.8 882.2 L938.8 883.7 L938.8 885.2 L938.9 886.7 L938.9 888.2 L938.9 889.7 L939.0 891.2 L939.0 892.7 L939.0 894.2 L939.1 895.7 L939.1 897.2 L939.1 898.7 L939.2 900.2 L939.2 901.7 L939.2 903.2 L939.3 904.7 L939.3 906.2 L939.3 907.7 L939.4 909.2 L939.4 910.7 L939.4 912.2 L939.5 913.7 L939.5 915.2 L939.5 916.7 L939.5 918.2 L939.6 919.7 L939.6 921.2 L939.6 922.7 L939.6 924.2 L939.7 925.7 L939.7 927.2 L939.7 928.7 L939.7 930.2 L939.7 931.7 L939.8 933.2 L939.8 934.7 L939.8 936.2 L939.8 937.7 L939.9 939.2 L939.9 940.7 L939.9 942.2 L939.9 943.7 L940.0 945.2 L940.0 946.7 L940.0 948.2 L940.0 949.7 L940.1 951.2 L940.1 952.7 L940.1 954.2 L940.1 955.7 L940.2 957.2 L940.2 958.7 L940.2 960.2 L940.2 961.7 L940.3 963.2 L940.3 964.7 L940.3 966.2 L940.3 967.7 L940.3 969.2 L940.4 970.7 L940.4 972.2 L940.4 973.7 L940.4 975.2 L940.5 976.7 L940.5 978.2 L940.5 979.7 L940.5 981.2 L940.6 982.7 L940.6 984.2 L940.6 985.7 L940.6 987.2 L940.7 988.7 L940.7 990.2 L940.7 991.7 L940.7 993.2 L940.8 994.7 L940.8 996.2 L940.9 997.7 L940.9 999.2 L941.0 1000.7 L941.0 1002.2 L941.0 1003.7 L941.1 1005.2 L941.1 1006.7 L941.2 1008.2 L941.2 1009.7 L941.3 1011.2 L941.3 1012.7 L941.3 1014.2 L941.4 1015.6 L941.4 1017.1 L941.5 1018.6 L941.5 1020.1 L941.6 1021.6 L941.6 1023.1 L941.6 1024.6 L941.7 1026.1 L941.7 1027.6 L941.8 1029.1 L941.8 1030.6 L941.9 1032.1 L941.9 1033.6 L942.0 1034.6 L942.1 1034.1 L942.2 1032.7 L942.4 1031.2 L942.5 1029.7 L942.7 1028.2 L942.8 1026.7 L943.0 1025.2 L943.1 1023.7 L943.2 1022.2 L943.2 1020.7 L943.3 1019.2 L943.3 1017.7 L943.3 1016.2 L943.3 1014.7 L943.3 1013.2 L943.4 1011.7 L943.4 1010.2 L943.4 1008.7 L943.4 1007.2 L943.5 1005.7 L943.5 1004.2 L943.5 1002.7 L943.5 1001.2 L943.6 999.7 L943.6 998.2 L943.6 996.7 L943.6 995.2 L943.7 993.7 L943.7 992.2 L943.7 990.7 L943.7 989.2 L943.8 987.7 L943.8 986.2 L943.8 984.7 L943.8 983.2 L943.9 981.7 L943.9 980.2 L943.9 978.7 L943.9 977.2 L943.9 975.7 L944.0 974.2 L944.0 972.7 L944.0 971.2 L944.0 969.7 L944.1 968.2 L944.1 966.7 L944.1 965.2 L944.1 963.7 L944.2 962.2 L944.2 960.7 L944.2 959.2 L944.2 957.7 L944.3 956.2 L944.3 954.7 L944.3 953.2 L944.3 951.7 L944.4 950.2 L944.4 948.7 L944.4 947.2 L944.4 945.7 L944.5 944.2 L944.5 942.7 L944.5 941.2 L944.5 939.7 L944.6 938.2 L944.6 936.7 L944.6 935.2 L944.6 933.7 L944.7 932.2 L944.7 930.7 L944.7 929.2 L944.8 927.7 L944.8 926.2 L944.8 924.7 L944.8 923.2 L944.9 921.7 L944.9 920.2 L944.9 918.7 L944.9 917.2 L945.0 915.7 L945.0 914.2 L945.0 912.7 L945.1 911.2 L945.1 909.7 L945.1 908.2 L945.1 906.7 L945.2 905.2 L945.2 903.7 L945.2 902.2 L945.2 900.7 L945.3 899.2 L945.3 897.7 L945.3 896.2 L945.4 894.7 L945.4 893.2 L945.4 891.7 L945.4 890.3 L945.5 888.8 L945.5 887.3 L945.5 885.8 L945.5 884.3 L945.6 882.8 L945.6 881.3 L945.6 879.8 L945.7 878.3 L945.7 876.8 L945.8 875.3 L945.8 873.8 L945.9 872.3 L946.0 870.8 L946.0 869.3 L946.1 867.8 L946.2 866.3 L946.2 864.8 L946.3 863.3 L946.4 861.8 L946.4 860.3 L946.5 858.8 L946.6 857.3 L946.6 855.8 L946.7 854.3 L946.8 852.8 L946.8 851.3 L946.9 850.5 L947.1 851.2 L947.3 852.7 L947.6 854.1 L947.8 855.6 L947.9 857.1 L947.9 858.6 L947.9 860.1 L948.0 861.6 L948.0 863.1 L948.0 864.6 L948.1 866.1 L948.1 867.6 L948.1 869.1 L948.1 870.6 L948.2 872.1 L948.2 873.6 L948.2 875.1 L948.3 876.6 L948.3 878.1 L948.3 879.6 L948.4 881.1 L948.4 882.6 L948.4 884.1 L948.5 885.6 L948.5 887.1 L948.5 888.6 L948.6 890.1 L948.6 891.6 L948.6 893.1 L948.7 894.6 L948.7 896.1 L948.7 897.6 L948.8 899.1 L948.8 900.6 L948.8 902.1 L948.8 903.6 L948.9 905.1 L948.9 906.6 L948.9 908.1 L949.0 909.6 L949.0 911.1 L949.0 912.6 L949.1 914.1 L949.1 915.6 L949.1 917.1 L949.1 918.6 L949.2 920.1 L949.2 921.6 L949.2 923.1 L949.3 924.6 L949.3 926.1 L949.3 927.6 L949.4 929.1 L949.4 930.6 L949.4 932.1 L949.4 933.6 L949.5 935.1 L949.5 936.6 L949.5 938.1 L949.6 939.6 L949.6 941.1 L949.6 942.6 L949.7 944.1 L949.7 945.6 L949.7 947.1 L949.7 948.6 L949.8 950.1 L949.8 951.6 L949.8 953.1 L949.9 954.6 L949.9 956.1 L949.9 957.6 L950.0 959.1 L950.0 960.2 L950.1 960.0 L950.2 958.7 L950.3 957.2 L950.4 955.7 L950.6 954.2 L950.7 952.7 L950.8 951.2 L950.9 949.7 L951.0 948.2 L951.1 946.7 L951.2 945.2 L951.3 943.7 L951.3 942.2 L951.4 940.7 L951.4 939.2 L951.4 937.7 L951.5 936.2 L951.5 934.7 L951.6 933.2 L951.6 931.7 L951.6 930.2 L951.7 928.7 L951.7 927.2 L951.8 925.7 L951.8 924.2 L951.8 922.7 L951.9 921.2 L951.9 919.7 L952.0 918.2 L952.0 916.7 L952.0 915.2 L952.1 913.7 L952.1 912.2 L952.2 910.7 L952.2 909.2 L952.2 907.7 L952.3 906.2 L952.3 904.7 L952.4 903.2 L952.4 901.7 L952.4 900.2 L952.5 898.7 L952.6 897.2 L952.6 895.7 L952.7 894.2 L952.8 892.7 L952.9 891.2 L952.9 889.7 L953.0 888.3 L953.1 886.8 L953.2 885.3 L953.2 883.8 L953.3 882.3 L953.4 881.5 L953.5 882.2 L953.6 883.6 L953.7 885.1 L953.8 886.6 L954.0 888.1 L954.1 889.6 L954.2 891.1 L954.3 892.6 L954.4 894.1 L954.4 895.6 L954.4 897.1 L954.5 898.6 L954.5 900.1 L954.5 901.6 L954.6 903.1 L954.6 904.6 L954.6 906.1 L954.7 907.6 L954.7 909.1 L954.7 910.6 L954.8 912.1 L954.8 913.6 L954.8 915.1 L954.9 916.6 L954.9 918.1 L955.0 919.6 L955.0 921.1 L955.0 922.6 L955.1 924.1 L955.1 925.6 L955.1 927.1 L955.2 928.6 L955.2 930.1 L955.2 931.6 L955.3 933.1 L955.3 934.6 L955.3 936.1 L955.4 937.6 L955.4 939.1 L955.4 940.6 L955.5 942.1 L955.5 943.6 L955.6 945.1 L955.6 946.6 L955.7 948.1 L955.7 949.6 L955.8 951.1 L955.9 952.6 L955.9 954.0 L956.0 955.5 L956.1 957.0 L956.1 958.5 L956.2 960.0 L956.3 961.5 L956.3 963.0 L956.4 964.5 L956.5 966.0 L956.5 967.5 L956.6 969.0 L956.7 970.5 L956.7 972.0 L956.8 972.7 L956.9 972.0 L956.9 970.5 L957.0 969.0 L957.1 967.5 L957.1 966.0 L957.2 964.5 L957.3 963.0 L957.3 961.5 L957.4 960.0 L957.5 958.5 L957.5 957.0 L957.6 955.5 L957.7 954.0 L957.7 952.5 L957.8 951.0 L957.9 949.5 L957.9 948.0 L958.0 946.5 L958.1 945.0 L958.1 943.5 L958.2 942.0 L958.3 940.5 L958.3 939.0 L958.4 937.5 L958.4 936.0 L958.5 934.5 L958.6 933.0 L958.6 931.5 L958.7 930.0 L958.8 928.5 L958.8 927.0 L958.9 925.5 L958.9 924.0 L959.0 922.6 L959.1 921.1 L959.1 919.6 L959.2 918.1 L959.3 916.6 L959.3 915.1 L959.4 913.6 L959.4 912.1 L959.5 910.6 L959.6 909.1 L959.8 907.6 L960.0 906.1 L960.3 904.6 L960.5 903.1 L960.8 901.7 L961.1 900.2 L961.3 898.7 L961.6 897.4 L962.0 896.9 L962.6 897.9 L963.3 899.2 L964.0 900.5 L964.7 901.8 L965.4 903.2 L966.1 904.5 L966.8 905.8 L967.4 907.2 L968.1 908.5 L968.8 909.9 L969.4 911.2 L970.1 912.6 L970.7 913.9 L971.4 915.3 L972.0 916.7 L972.6 918.0 L973.2 919.4 L973.8 920.8 L974.4 922.1 L975.0 923.5 L975.6 924.9 L976.2 926.3 L976.8 927.6 L977.3 929.1 L977.7 930.5 L978.2 931.9 L978.7 933.3 L979.2 934.8 L979.6 936.2 L980.1 937.6 L980.6 939.0 L981.1 940.4 L981.5 941.9 L982.0 943.3 L982.5 944.7 L982.9 946.1 L983.3 947.6 L983.8 949.0 L984.2 950.5 L984.6 951.9 L985.0 953.4 L985.4 954.8 L985.8 956.2 L986.2 957.7 L986.6 959.1 L987.1 960.6 L987.5 962.0 L987.9 963.5 L988.3 964.9 L988.7 966.3 L989.1 967.8 L989.6 969.2 L990.1 970.6 L990.6 972.0 L991.0 973.5 L991.5 974.9 L992.0 976.3 L992.5 977.7 L992.9 979.2 L993.4 980.6 L993.9 982.0 L994.5 983.4 L995.0 984.8 L995.6 986.2 L996.2 987.5 L996.9 988.4 L998.0 988.3 L999.3 987.6 L1000.1 986.5 L1000.6 985.1 L1001.1 983.6 L1001.6 982.2 L1002.0 980.8 L1002.5 979.4 L1003.0 978.0 L1003.5 976.5 L1003.9 975.1 L1004.4 973.7 L1004.8 972.2 L1005.1 970.8 L1005.5 969.3 L1005.9 967.9 L1006.2 966.4 L1006.6 965.0 L1007.0 963.5 L1007.3 962.0 L1007.7 960.6 L1008.1 959.1 L1008.4 957.7 L1008.8 956.2 L1009.1 954.8 L1009.5 953.3 L1009.8 951.8 L1010.1 950.4 L1010.4 948.9 L1010.7 947.4 L1011.0 946.0 L1011.3 944.5 L1011.7 943.0 L1012.0 941.6 L1012.3 940.1 L1012.6 938.6 L1012.9 937.2 L1013.2 935.7 L1013.5 934.2 L1013.9 932.8 L1014.2 931.3 L1014.5 929.8 L1014.8 928.4 L1015.1 926.9 L1015.4 925.4 L1015.7 924.0 L1016.1 922.5 L1016.4 921.0 L1016.7 919.6 L1017.0 918.1 L1017.3 916.6 L1017.6 915.2 L1017.9 913.7 L1018.3 912.2 L1018.6 910.8 L1019.0 909.3 L1019.3 907.9 L1019.7 906.4 L1020.1 905.0 L1020.4 903.5 L1020.8 902.0 L1021.1 900.6 L1021.5 899.1 L1021.9 897.7 L1022.2 896.2 L1022.6 894.8 L1023.0 893.3 L1023.4 891.9 L1023.8 890.4 L1024.2 889.0 L1024.7 887.6 L1025.1 886.1 L1025.5 884.7 L1026.0 883.3 L1026.4 881.8 L1026.9 880.4 L1027.6 879.1 L1028.4 877.8 L1029.1 876.5 L1030.0 875.5 L1031.3 875.2 L1032.6 875.6 L1033.6 876.6 L1034.7 877.7 L1035.7 878.8 L1036.6 880.0 L1037.4 881.2 L1038.2 882.5 L1039.0 883.7 L1039.8 885.0 L1040.2 886.4 L1040.6 887.9 L1040.9 889.4 L1041.1 890.8 L1041.4 892.3 L1041.7 893.8 L1042.0 895.2 L1042.5 896.7 L1043.0 898.0 L1043.4 898.4 L1043.7 897.5 L1043.9 896.0 L1044.1 894.6 L1044.3 893.1 L1044.5 891.6 L1044.7 890.1 L1045.0 888.6 L1045.3 887.2 L1045.5 885.7 L1045.8 884.6 L1046.0 885.0 L1046.0 886.3 L1046.1 887.8 L1046.1 889.3 L1046.2 890.8 L1046.3 892.3 L1046.3 893.8 L1046.4 895.3 L1046.4 896.8 L1046.5 898.3 L1046.6 899.8 L1046.6 901.3 L1046.7 902.8 L1046.7 904.3 L1046.8 905.8 L1046.9 907.3 L1046.9 908.8 L1047.0 910.3 L1047.0 911.8 L1047.1 913.3 L1047.2 914.8 L1047.2 916.3 L1047.2 917.8 L1047.2 919.3 L1047.3 920.8 L1047.3 922.3 L1047.3 923.8 L1047.3 925.3 L1047.4 926.8 L1047.4 928.3 L1047.4 929.8 L1047.4 931.3 L1047.5 932.8 L1047.5 934.3 L1047.5 935.8 L1047.5 937.3 L1047.5 938.8 L1047.6 940.3 L1047.6 941.8 L1047.6 943.3 L1047.6 944.8 L1047.7 946.3 L1047.7 947.8 L1047.7 949.3 L1047.7 950.8 L1047.8 952.3 L1047.8 953.8 L1047.8 955.3 L1047.8 956.8 L1047.9 958.3 L1047.9 959.8 L1047.9 961.3 L1047.9 962.8 L1048.0 964.3 L1048.0 965.8 L1048.0 967.3 L1048.0 968.8 L1048.1 970.3 L1048.1 971.8 L1048.1 973.3 L1048.1 974.8 L1048.1 976.3 L1048.2 977.8 L1048.2 979.3 L1048.2 980.8 L1048.2 982.3 L1048.3 983.8 L1048.3 985.3 L1048.3 986.8 L1048.3 988.3 L1048.4 989.8 L1048.4 991.3 L1048.4 992.8 L1048.5 994.3 L1048.5 995.8 L1048.5 997.3 L1048.6 998.8 L1048.6 1000.3 L1048.6 1001.8 L1048.7 1003.3 L1048.7 1004.8 L1048.8 1006.3 L1048.8 1007.8 L1048.8 1009.3 L1048.9 1010.8 L1048.9 1012.3 L1048.9 1013.8 L1049.0 1015.3 L1049.0 1016.8 L1049.1 1018.3 L1049.1 1019.8 L1049.1 1021.3 L1049.2 1022.8 L1049.2 1024.3 L1049.2 1025.8 L1049.3 1027.3 L1049.3 1028.8 L1049.4 1030.3 L1049.4 1031.8 L1049.4 1033.3 L1049.5 1034.8 L1049.5 1036.3 L1049.5 1037.8 L1049.6 1039.3 L1049.6 1040.8 L1049.7 1042.3 L1049.7 1043.8 L1049.7 1045.3 L1049.8 1046.8 L1049.8 1048.3 L1049.8 1049.8 L1049.9 1051.3 L1049.9 1052.8 L1050.0 1054.3 L1050.1 1055.8 L1050.2 1057.3 L1050.3 1058.8 L1050.4 1060.3 L1050.5 1061.8 L1050.6 1063.3 L1050.8 1064.8 L1050.9 1066.2 L1051.0 1067.7 L1051.1 1069.2 L1051.2 1070.7 L1051.3 1072.2 L1051.4 1073.7 L1051.5 1075.2 L1051.7 1076.7 L1051.9 1078.2 L1052.4 1079.5 L1053.2 1080.8 L1054.1 1082.0 L1055.0 1083.1 L1056.1 1083.8 L1057.6 1084.0 L1059.1 1084.0 L1060.6 1084.0 L1062.1 1084.0 L1063.6 1084.0 L1065.1 1084.0 L1066.6 1084.0 L1068.1 1084.0 L1069.6 1084.0 L1071.1 1084.0 L1072.6 1084.0 L1074.1 1084.0 L1075.6 1084.0 L1077.1 1084.0 L1078.6 1084.0 L1080.1 1084.0 L1081.6 1084.0 L1083.1 1084.0 L1084.6 1084.0 L1086.1 1084.0 L1087.6 1084.0 L1089.1 1084.0 L1090.6 1084.0 L1092.1 1084.0 L1093.6 1084.0 L1095.1 1084.0 L1096.6 1084.0 L1098.1 1084.0 L1099.6 1084.0 L1101.1 1084.0 L1102.6 1084.0 L1104.1 1084.0 L1105.6 1084.0 L1107.1 1084.0 L1108.6 1084.0 L1110.1 1084.0 L1111.6 1084.0 L1113.1 1084.0 L1114.6 1084.0 L1116.1 1084.0 L1117.6 1084.0 L1119.1 1084.0 L1120.6 1084.0 L1122.1 1084.0 L1123.6 1084.0 L1125.1 1084.0 L1126.6 1084.0 L1128.1 1084.0 L1129.6 1084.0 L1131.1 1084.0 L1132.6 1084.0 L1133.9 1084.0 L1135.0 1084.0" fill="none" stroke="#ff0000" stroke-width="2.7" stroke-linejoin="round" stroke-linecap="round"/>
<path d="M766.0 1084.0 L767.1 1084.0 L768.6 1084.0 L770.1 1084.0 L771.6 1084.0 L773.1 1084.0 L774.6 1084.0 L776.1 1084.0 L777.6 1084.0 L779.1 1084.0 L780.6 1084.0 L782.1 1084.0 L783.6 1084.0 L785.1 1084.0 L786.6 1084.0 L788.1 1084.0 L789.6 1084.0 L791.1 1084.0 L792.6 1084.0 L794.1 1084.0 L795.6 1084.0 L797.1 1084.0 L798.6 1084.0 L800.1 1084.0 L801.6 1084.0 L803.1 1084.0 L804.6 1084.0 L806.1 1084.0 L807.6 1084.0 L809.1 1084.0 L810.6 1084.0 L812.1 1084.0 L813.6 1084.0 L815.1 1084.0 L816.6 1084.0 L818.1 1084.0 L819.6 1084.0 L821.1 1084.0 L822.6 1084.0 L824.1 1084.0 L825.6 1084.0 L827.1 1084.0 L828.6 1084.0 L830.1 1084.0 L831.6 1084.0 L833.1 1084.0 L834.6 1084.0 L836.1 1084.0 L837.6 1084.0 L839.1 1084.0 L840.6 1084.0 L842.1 1084.0 L843.6 1084.0 L845.1 1084.0 L846.6 1084.0 L848.1 1084.0 L849.6 1084.0 L851.1 1083.9 L852.5 1083.6 L853.9 1083.1 L855.3 1082.6 L856.7 1082.0 L858.0 1081.3 L859.3 1081.2 L860.7 1081.4 L861.7 1081.0 L862.2 1079.7 L862.7 1078.3 L863.2 1076.9 L863.7 1075.5 L864.2 1074.0 L864.7 1072.6 L865.2 1071.2 L865.8 1070.2 L866.4 1070.5 L867.2 1071.5 L867.7 1071.7 L868.0 1070.5 L868.2 1069.1 L868.3 1067.6 L868.5 1066.1 L868.7 1064.6 L868.9 1063.1 L869.0 1061.6 L869.1 1060.1 L869.1 1058.6 L869.2 1057.1 L869.3 1055.6 L869.3 1054.1 L869.4 1052.6 L869.5 1051.1 L869.6 1049.6 L869.6 1048.1 L869.7 1046.6 L869.8 1045.1 L869.8 1043.6 L869.9 1042.1 L870.0 1040.6 L870.0 1039.1 L870.1 1037.6 L870.2 1036.1 L870.2 1034.6 L870.3 1033.1 L870.4 1031.6 L870.5 1030.1 L870.5 1028.6 L870.6 1027.1 L870.7 1025.6 L870.7 1024.1 L870.8 1022.6 L870.9 1021.1 L871.0 1019.7 L871.1 1018.2 L871.2 1016.7 L871.3 1015.2 L871.4 1013.7 L871.5 1012.2 L871.6 1010.7 L871.8 1009.2 L871.9 1007.7 L872.0 1006.2 L872.1 1004.7 L872.2 1003.2 L872.3 1001.7 L872.4 1000.2 L872.5 998.7 L872.6 997.2 L872.7 995.7 L872.8 994.2 L872.9 992.7 L873.0 991.2 L873.2 989.7 L873.3 988.2 L873.5 986.7 L873.6 985.3 L873.8 983.8 L873.9 982.3 L874.1 980.8 L874.2 979.3 L874.4 977.8 L874.5 976.3 L874.7 974.8 L874.8 973.3 L875.0 971.8 L875.1 970.3 L875.3 968.8 L875.4 967.3 L875.6 965.9 L875.7 964.4 L875.9 962.9 L876.0 961.4 L876.2 959.9 L876.3 958.4 L876.5 956.9 L876.6 955.4 L876.8 953.9 L876.9 952.4 L877.1 950.9 L877.2 949.4 L877.4 947.9 L877.5 946.4 L877.7 945.0 L877.9 943.5 L878.1 942.0 L878.3 940.5 L878.5 939.0 L878.7 937.5 L878.9 936.0 L879.1 934.6 L879.3 933.1 L879.5 931.6 L879.7 930.1 L879.9 928.6 L880.1 927.1 L880.3 925.6 L880.5 924.1 L880.7 922.7 L880.9 921.2 L881.1 919.7 L881.3 918.2 L881.5 916.7 L881.7 915.2 L881.9 913.7 L882.2 912.3 L882.5 910.8 L883.0 909.4 L883.5 908.0 L884.0 906.6 L884.8 905.4 L885.9 904.5 L886.8 903.4 L887.1 902.0 L887.3 900.5 L887.5 899.1 L887.7 897.6 L887.9 896.1 L888.1 894.6 L888.3 893.1 L888.5 891.6 L888.7 890.1 L889.0 888.7 L889.3 887.2 L889.6 885.7 L889.9 884.2 L890.2 882.8 L890.5 881.3 L890.8 879.8 L891.1 878.4 L891.4 876.9 L891.9 875.5 L892.4 874.1 L892.9 872.9 L893.9 872.5 L894.9 872.3 L895.7 871.3 L896.3 870.0 L897.0 869.0 L898.0 869.0 L899.1 869.3 L900.0 868.5 L900.7 867.3 L901.3 865.9 L901.6 864.4 L901.9 863.0 L902.2 861.5 L902.6 860.5 L902.9 860.8 L903.2 862.2 L903.5 863.6 L903.8 865.1 L904.2 866.6 L904.6 868.0 L905.0 869.4 L905.4 870.9 L905.9 872.1 L906.8 872.3 L907.8 872.0 L908.8 872.6 L909.6 873.2 L910.2 872.5 L910.7 871.2 L911.2 869.8 L911.7 868.4 L912.2 867.5 L912.7 868.1 L913.3 869.4 L913.8 870.7 L914.4 872.1 L915.0 873.5 L915.5 874.8 L916.2 875.3 L916.9 874.5 L917.6 873.2 L918.2 871.8 L918.7 870.4 L919.2 869.0 L920.0 867.8 L921.0 866.9 L921.6 865.7 L921.8 864.2 L921.9 862.7 L922.0 861.2 L922.2 859.8 L922.3 858.3 L922.4 856.8 L922.6 855.3 L922.7 853.8 L922.8 852.3 L923.0 850.8 L923.1 849.3 L923.3 847.8 L923.5 846.3 L923.7 844.8 L923.9 843.3 L924.1 841.9 L924.4 840.4 L925.0 839.6 L925.5 840.0 L925.7 841.3 L925.7 842.8 L925.8 844.3 L925.9 845.8 L925.9 847.3 L926.0 848.8 L926.1 850.3 L926.1 851.8 L926.2 853.3 L926.3 854.8 L926.4 856.3 L926.4 857.8 L926.5 859.3 L926.5 860.8 L926.6 862.3 L926.6 863.8 L926.6 865.3 L926.7 866.8 L926.7 868.3 L926.7 869.8 L926.8 871.3 L926.8 872.8 L926.8 874.3 L926.9 875.8 L926.9 877.3 L926.9 878.8 L927.0 880.3 L927.0 881.8 L927.0 883.3 L927.1 884.8 L927.1 886.3 L927.1 887.8 L927.2 889.3 L927.2 890.8 L927.2 892.3 L927.3 893.8 L927.3 895.3 L927.3 896.8 L927.4 898.3 L927.4 899.8 L927.4 901.3 L927.5 902.8 L927.5 904.3 L927.5 905.8 L927.6 907.3 L927.6 908.8 L927.6 910.3 L927.7 911.8 L927.7 913.3 L927.7 914.8 L927.8 916.3 L927.8 917.8 L927.8 919.3 L927.9 920.8 L927.9 922.3 L927.9 923.8 L928.0 925.3 L928.0 926.8 L928.0 928.3 L928.1 929.8 L928.1 931.3 L928.1 932.8 L928.2 934.3 L928.2 935.8 L928.2 937.3 L928.3 938.8 L928.3 940.3 L928.3 941.8 L928.4 943.3 L928.4 944.8 L928.4 946.3 L928.5 947.8 L928.5 949.3 L928.5 950.8 L928.6 952.3 L928.6 953.8 L928.6 955.3 L928.7 956.8 L928.7 958.3 L928.7 959.8 L928.8 961.3 L928.8 962.8 L928.8 964.3 L928.9 965.8 L928.9 967.3 L928.9 968.8 L929.0 970.3 L929.0 971.8 L929.1 973.3 L929.2 974.8 L929.3 976.3 L929.4 977.8 L929.4 979.3 L929.5 980.8 L929.6 982.3 L929.7 983.8 L929.8 985.3 L929.9 986.8 L929.9 988.3 L930.0 989.7 L930.1 991.2 L930.2 992.7 L930.3 994.2 L930.4 995.7 L930.4 997.1 L930.5 997.4 L930.6 996.3 L930.7 994.8 L930.8 993.3 L930.9 991.8 L931.0 990.3 L931.0 988.8 L931.1 987.3 L931.2 985.8 L931.3 984.3 L931.4 982.8 L931.5 981.3 L931.6 979.8 L931.6 978.3 L931.7 976.8 L931.8 975.3 L931.8 973.8 L931.8 972.3 L931.9 970.8 L931.9 969.3 L932.0 967.8 L932.0 966.3 L932.0 964.8 L932.1 963.3 L932.1 961.8 L932.1 960.3 L932.2 958.8 L932.2 957.3 L932.3 955.8 L932.3 954.3 L932.3 952.9 L932.4 951.4 L932.4 949.9 L932.4 948.4 L932.5 946.9 L932.5 945.4 L932.6 943.9 L932.6 942.4 L932.6 940.9 L932.7 939.4 L932.7 937.9 L932.7 936.4 L932.8 934.9 L932.8 933.4 L932.9 931.9 L932.9 930.4 L932.9 928.9 L933.0 927.4 L933.0 925.9 L933.0 924.4 L933.1 922.9 L933.1 921.4 L933.2 919.9 L933.2 918.4 L933.2 916.9 L933.3 915.4 L933.3 913.9 L933.4 912.4 L933.5 910.9 L933.5 909.4 L933.6 907.9 L933.7 906.4 L933.7 904.9 L933.8 903.4 L933.9 901.9 L934.0 900.4 L934.0 898.9 L934.1 897.4 L934.2 895.9 L934.2 894.4 L934.3 892.9 L934.4 891.4 L934.4 889.9 L934.5 888.4 L934.6 886.9 L934.6 885.4 L934.7 883.9 L934.8 882.4 L934.8 880.9 L934.9 879.4 L935.0 877.9 L935.1 876.4 L935.1 874.9 L935.3 873.4 L935.5 871.9 L935.8 870.5 L936.0 869.0 L936.2 867.5 L936.4 866.0 L936.6 864.5 L936.9 863.0 L937.1 861.5 L937.2 860.1 L937.4 858.6 L937.5 857.1 L937.7 855.6 L937.8 854.1 L938.0 852.6 L938.1 851.2 L938.2 850.5 L938.3 851.4 L938.4 852.9 L938.5 854.4 L938.6 855.9 L938.7 857.4 L938.8 858.9 L938.9 860.3 L939.0 861.8 L939.1 863.3 L939.2 864.8 L939.3 866.3 L939.4 867.8 L939.5 869.3 L939.5 870.8 L939.5 872.3 L939.6 873.8 L939.6 875.3 L939.6 876.8 L939.6 878.3 L939.7 879.8 L939.7 881.3 L939.7 882.8 L939.7 884.3 L939.8 885.8 L939.8 887.3 L939.8 888.8 L939.8 890.3 L939.9 891.8 L939.9 893.3 L939.9 894.8 L939.9 896.3 L940.0 897.8 L940.0 899.3 L940.0 900.8 L940.0 902.3 L940.0 903.8 L940.1 905.3 L940.1 906.8 L940.1 908.3 L940.1 909.8 L940.2 911.3 L940.2 912.8 L940.2 914.3 L940.2 915.8 L940.3 917.3 L940.3 918.8 L940.3 920.3 L940.3 921.8 L940.4 923.3 L940.4 924.8 L940.4 926.3 L940.4 927.8 L940.5 929.3 L940.5 930.8 L940.5 932.3 L940.5 933.8 L940.5 935.3 L940.6 936.8 L940.6 938.3 L940.6 939.8 L940.6 941.3 L940.7 942.8 L940.7 944.3 L940.7 945.8 L940.7 947.3 L940.8 948.8 L940.8 950.3 L940.8 951.8 L940.9 953.3 L940.9 954.8 L940.9 956.3 L941.0 957.8 L941.0 959.3 L941.0 960.8 L941.0 962.3 L941.1 963.8 L941.1 965.3 L941.1 966.8 L941.2 968.3 L941.2 969.8 L941.2 971.3 L941.3 972.8 L941.3 974.3 L941.3 975.8 L941.3 977.3 L941.4 978.8 L941.4 980.3 L941.4 981.8 L941.5 983.3 L941.5 984.8 L941.5 986.3 L941.6 987.8 L941.6 989.3 L941.6 990.8 L941.6 992.3 L941.7 993.8 L941.7 995.3 L941.7 996.8 L941.8 998.3 L941.8 999.8 L941.8 1001.3 L941.9 1002.8 L941.9 1004.3 L941.9 1005.8 L942.0 1006.7 L942.2 1006.2 L942.5 1004.9 L942.8 1003.4 L943.1 1001.9 L943.2 1000.4 L943.2 998.9 L943.3 997.4 L943.3 995.9 L943.3 994.4 L943.4 992.9 L943.4 991.4 L943.4 989.9 L943.5 988.4 L943.5 986.9 L943.5 985.4 L943.6 983.9 L943.6 982.4 L943.6 980.9 L943.7 979.4 L943.7 977.9 L943.7 976.4 L943.8 974.9 L943.8 973.4 L943.8 971.9 L943.9 970.4 L943.9 968.9 L943.9 967.4 L944.0 965.9 L944.0 964.4 L944.0 962.9 L944.1 961.4 L944.1 959.9 L944.1 958.4 L944.2 956.9 L944.2 955.4 L944.2 953.9 L944.3 952.4 L944.3 950.9 L944.3 949.4 L944.4 947.9 L944.4 946.4 L944.4 944.9 L944.5 943.4 L944.5 941.9 L944.6 940.4 L944.6 938.9 L944.6 937.4 L944.7 935.9 L944.7 934.4 L944.7 932.9 L944.8 931.4 L944.8 929.9 L944.9 928.4 L944.9 926.9 L944.9 925.4 L945.0 923.9 L945.0 922.4 L945.0 920.9 L945.1 919.4 L945.1 917.9 L945.2 916.4 L945.2 914.9 L945.2 913.4 L945.3 911.9 L945.3 910.4 L945.3 908.9 L945.4 907.5 L945.4 906.0 L945.5 904.5 L945.5 903.0 L945.5 901.5 L945.6 900.0 L945.6 898.5 L945.6 897.0 L945.7 895.5 L945.8 894.0 L945.9 892.5 L945.9 891.0 L946.0 889.5 L946.1 888.0 L946.2 886.5 L946.2 885.0 L946.3 883.5 L946.4 882.0 L946.5 880.5 L946.5 879.0 L946.6 877.5 L946.7 876.0 L946.8 874.5 L946.8 873.0 L946.9 872.2 L947.0 872.9 L947.2 874.3 L947.3 875.8 L947.5 877.3 L947.6 878.8 L947.8 880.3 L947.9 881.8 L948.1 883.3 L948.2 884.8 L948.2 886.3 L948.2 887.8 L948.3 889.3 L948.3 890.8 L948.4 892.3 L948.4 893.8 L948.4 895.2 L948.5 896.7 L948.5 898.2 L948.5 899.7 L948.6 901.2 L948.6 902.7 L948.7 904.2 L948.7 905.7 L948.7 907.2 L948.8 908.7 L948.8 910.2 L948.8 911.7 L948.9 913.2 L948.9 914.7 L949.0 916.2 L949.0 917.7 L949.0 919.2 L949.1 920.7 L949.1 922.2 L949.1 923.7 L949.2 925.2 L949.2 926.7 L949.3 928.2 L949.3 929.7 L949.3 931.2 L949.4 932.7 L949.4 934.2 L949.5 935.7 L949.5 937.2 L949.6 938.7 L949.7 940.2 L949.7 941.7 L949.8 943.2 L949.8 944.7 L949.9 946.2 L950.0 947.7 L950.0 949.2 L950.1 950.7 L950.1 952.2 L950.2 953.7 L950.3 955.2 L950.3 956.7 L950.4 958.2 L950.4 959.7 L950.5 961.2 L950.6 962.7 L950.6 963.4 L950.7 962.7 L950.7 961.3 L950.8 959.8 L950.9 958.3 L950.9 956.8 L951.0 955.3 L951.0 953.8 L951.1 952.3 L951.2 950.8 L951.2 949.3 L951.3 947.8 L951.3 946.3 L951.4 944.8 L951.5 943.3 L951.5 941.8 L951.6 940.3 L951.6 938.8 L951.7 937.3 L951.8 935.8 L951.8 934.3 L951.9 932.8 L951.9 931.3 L952.0 929.8 L952.0 928.3 L952.1 926.8 L952.1 925.3 L952.2 923.8 L952.2 922.3 L952.3 920.8 L952.3 919.3 L952.4 917.8 L952.4 916.3 L952.5 914.8 L952.5 913.3 L952.6 911.8 L952.6 910.3 L952.7 908.8 L952.7 907.3 L952.8 905.8 L952.8 904.3 L952.9 902.8 L952.9 901.3 L953.0 899.8 L953.0 898.3 L953.1 896.8 L953.2 895.3 L953.3 893.8 L953.4 892.3 L953.5 890.8 L953.6 889.3 L953.7 887.8 L953.8 886.3 L953.9 885.0 L954.0 884.6 L954.1 885.7 L954.2 887.2 L954.2 888.7 L954.3 890.2 L954.3 891.7 L954.4 893.2 L954.5 894.7 L954.5 896.2 L954.6 897.7 L954.6 899.2 L954.7 900.7 L954.8 902.2 L954.8 903.7 L954.9 905.2 L954.9 906.7 L955.0 908.2 L955.1 909.7 L955.1 911.2 L955.2 912.7 L955.2 914.2 L955.3 915.7 L955.4 917.2 L955.4 918.7 L955.5 920.2 L955.5 921.7 L955.6 923.2 L955.7 924.7 L955.7 926.2 L955.8 927.7 L955.8 929.2 L955.9 930.7 L956.0 932.2 L956.0 933.7 L956.1 935.2 L956.1 936.7 L956.2 938.2 L956.3 939.7 L956.3 941.2 L956.4 942.7 L956.4 944.1 L956.5 944.9 L956.6 944.1 L956.7 942.7 L956.8 941.2 L956.9 939.7 L957.0 938.2 L957.1 936.7 L957.2 935.2 L957.2 933.7 L957.3 932.2 L957.4 930.7 L957.5 929.2 L957.6 927.7 L957.7 926.2 L957.8 924.7 L957.9 923.2 L958.0 921.7 L958.1 920.2 L958.2 918.7 L958.3 917.2 L958.4 915.7 L958.5 914.2 L958.6 912.7 L958.6 911.2 L958.7 909.7 L958.8 908.2 L958.9 906.7 L959.0 905.2 L959.1 903.7 L959.2 902.2 L959.3 900.7 L959.4 899.3 L959.5 897.8 L959.8 896.3 L960.4 895.0 L961.3 893.8 L962.1 892.5 L962.9 891.3 L963.7 890.3 L964.4 890.3 L964.8 891.4 L965.2 892.9 L965.6 894.3 L966.0 895.8 L966.3 897.2 L966.7 898.7 L967.0 900.1 L967.4 901.6 L967.8 902.9 L968.5 903.2 L969.5 903.0 L970.1 903.6 L970.6 905.0 L971.0 906.4 L971.5 907.6 L972.0 907.6 L972.5 906.4 L973.0 905.1 L973.5 904.7 L973.8 905.7 L974.1 907.1 L974.3 908.6 L974.6 910.1 L974.8 911.5 L975.1 913.0 L975.5 914.0 L976.5 914.0 L977.5 913.1 L978.2 911.9 L978.7 910.5 L979.2 909.0 L979.6 907.6 L980.1 906.4 L980.5 906.4 L980.8 907.6 L981.1 909.1 L981.4 910.6 L981.6 912.0 L981.9 913.5 L982.2 915.0 L982.4 916.5 L982.7 918.0 L982.9 919.4 L983.1 920.9 L983.3 922.4 L983.6 923.9 L983.8 925.4 L984.1 926.8 L984.5 928.3 L985.1 929.7 L985.6 931.1 L986.2 932.4 L986.6 933.9 L986.9 935.3 L987.2 936.8 L987.5 938.3 L987.8 939.7 L988.1 941.2 L988.4 942.7 L988.7 944.2 L989.2 945.5 L990.2 946.4 L991.4 946.7 L992.2 945.9 L993.0 944.9 L993.4 945.2 L993.6 946.5 L993.8 948.0 L994.0 949.5 L994.2 951.0 L994.4 952.5 L994.6 954.0 L994.8 955.5 L995.0 956.9 L995.2 958.4 L995.5 959.9 L995.7 961.4 L995.9 962.9 L996.1 964.4 L996.3 965.8 L996.6 967.3 L996.8 968.8 L997.1 969.6 L997.4 969.0 L997.9 967.7 L998.3 966.2 L998.7 964.8 L999.0 963.3 L999.2 961.8 L999.4 960.3 L999.5 958.9 L999.7 957.4 L999.9 955.9 L1000.1 954.4 L1000.3 952.9 L1000.4 951.4 L1000.6 949.9 L1001.0 948.5 L1001.7 947.2 L1002.4 945.9 L1003.0 944.5 L1003.6 943.1 L1004.2 942.0 L1004.7 942.0 L1005.3 943.1 L1005.8 944.4 L1006.3 944.9 L1006.8 944.0 L1007.1 942.6 L1007.5 941.1 L1007.9 939.7 L1008.3 938.2 L1008.7 936.8 L1009.1 935.3 L1009.6 933.9 L1010.0 932.5 L1010.5 931.0 L1011.0 929.6 L1011.8 928.5 L1012.9 927.7 L1014.1 927.8 L1015.0 928.7 L1015.9 929.5 L1016.5 929.0 L1016.9 927.7 L1017.3 926.2 L1017.7 924.8 L1018.1 923.3 L1018.4 921.9 L1018.8 920.4 L1019.3 919.0 L1019.7 917.6 L1020.1 916.1 L1020.6 914.7 L1021.0 913.2 L1021.5 911.9 L1022.2 910.6 L1023.1 909.5 L1023.9 909.3 L1024.7 910.2 L1025.3 910.9 L1025.7 910.2 L1025.9 908.7 L1026.1 907.2 L1026.3 905.8 L1026.5 904.3 L1026.7 902.8 L1026.9 901.3 L1027.2 899.8 L1027.4 898.3 L1027.6 896.9 L1028.0 895.4 L1028.4 894.0 L1028.9 892.6 L1029.4 891.2 L1029.9 889.7 L1030.3 888.3 L1030.7 886.8 L1031.1 885.4 L1031.4 883.9 L1031.8 882.5 L1032.3 881.5 L1032.9 881.8 L1033.6 883.0 L1034.2 884.3 L1034.6 885.8 L1034.9 887.2 L1035.2 888.7 L1035.4 890.2 L1035.8 891.6 L1036.3 893.0 L1037.2 893.9 L1038.1 893.8 L1038.7 892.6 L1039.2 891.2 L1039.7 889.8 L1039.9 888.3 L1040.1 886.8 L1040.2 885.3 L1040.3 883.9 L1040.5 882.4 L1040.6 880.9 L1040.8 879.4 L1040.9 877.9 L1041.1 876.4 L1041.2 874.9 L1041.3 873.4 L1041.4 871.9 L1041.5 870.4 L1041.6 868.9 L1041.7 867.4 L1041.8 865.9 L1041.9 864.4 L1042.0 862.9 L1042.1 861.4 L1042.2 859.9 L1042.4 858.5 L1042.8 857.0 L1043.1 855.7 L1043.4 855.2 L1043.7 856.2 L1043.8 857.7 L1044.0 859.1 L1044.2 860.6 L1044.3 862.1 L1044.5 863.6 L1044.7 865.1 L1044.7 866.6 L1044.8 868.1 L1044.9 869.6 L1044.9 871.1 L1045.0 872.6 L1045.0 874.1 L1045.1 875.6 L1045.2 877.1 L1045.2 878.6 L1045.3 880.1 L1045.3 881.6 L1045.4 883.1 L1045.5 884.6 L1045.5 886.1 L1045.6 887.6 L1045.6 889.1 L1045.7 890.6 L1045.8 892.1 L1045.8 893.6 L1045.9 895.1 L1045.9 896.6 L1046.0 898.1 L1046.0 899.6 L1046.0 901.1 L1046.1 902.6 L1046.1 904.1 L1046.2 905.6 L1046.2 907.1 L1046.2 908.6 L1046.3 910.1 L1046.3 911.6 L1046.3 913.1 L1046.4 914.6 L1046.4 916.1 L1046.5 917.6 L1046.5 919.1 L1046.5 920.6 L1046.6 922.1 L1046.6 923.6 L1046.6 925.1 L1046.7 926.6 L1046.7 928.1 L1046.8 929.6 L1046.8 931.1 L1046.8 932.6 L1046.9 934.1 L1046.9 935.6 L1046.9 937.1 L1047.0 938.6 L1047.0 940.1 L1047.1 941.6 L1047.1 943.1 L1047.1 944.6 L1047.2 946.1 L1047.2 947.6 L1047.3 949.1 L1047.3 950.6 L1047.4 952.1 L1047.4 953.6 L1047.4 955.1 L1047.5 956.6 L1047.5 958.1 L1047.6 959.6 L1047.6 961.1 L1047.7 962.6 L1047.7 964.1 L1047.8 965.6 L1047.8 967.1 L1047.9 968.6 L1047.9 970.1 L1047.9 971.6 L1048.0 973.1 L1048.0 974.5 L1048.1 976.0 L1048.1 977.5 L1048.2 979.0 L1048.2 980.5 L1048.3 982.0 L1048.3 983.5 L1048.3 985.0 L1048.4 986.5 L1048.4 988.0 L1048.5 989.5 L1048.5 991.0 L1048.6 992.5 L1048.6 994.0 L1048.7 995.5 L1048.7 997.0 L1048.8 998.5 L1048.8 1000.0 L1048.8 1001.5 L1048.9 1003.0 L1048.9 1004.5 L1049.0 1006.0 L1049.0 1007.5 L1049.1 1009.0 L1049.1 1010.5 L1049.2 1012.0 L1049.3 1013.5 L1049.3 1015.0 L1049.4 1016.5 L1049.4 1018.0 L1049.5 1019.5 L1049.6 1021.0 L1049.6 1022.5 L1049.7 1024.0 L1049.7 1025.5 L1049.8 1027.0 L1049.9 1028.5 L1049.9 1030.0 L1050.0 1031.5 L1050.0 1033.0 L1050.1 1034.5 L1050.2 1036.0 L1050.2 1037.5 L1050.3 1039.0 L1050.3 1040.5 L1050.4 1042.0 L1050.5 1043.5 L1050.5 1045.0 L1050.6 1046.5 L1050.6 1048.0 L1050.7 1049.5 L1050.8 1051.0 L1050.8 1052.5 L1050.9 1054.0 L1051.0 1055.5 L1051.2 1057.0 L1051.3 1058.5 L1051.5 1060.0 L1051.6 1061.5 L1051.8 1063.0 L1051.9 1064.4 L1052.1 1065.9 L1052.2 1067.4 L1052.4 1068.9 L1052.5 1070.4 L1052.7 1071.9 L1052.8 1073.4 L1053.0 1074.9 L1053.1 1076.4 L1053.3 1077.9 L1053.8 1079.2 L1054.5 1080.5 L1055.4 1081.8 L1056.3 1082.9 L1057.5 1083.5 L1059.0 1083.8 L1060.5 1083.9 L1062.0 1084.0 L1063.5 1084.0 L1065.0 1084.0 L1066.5 1084.0 L1068.0 1084.0 L1069.5 1084.0 L1071.0 1084.0 L1072.5 1084.0 L1074.0 1084.0 L1075.5 1084.0 L1077.0 1084.0 L1078.5 1084.0 L1080.0 1084.0 L1081.5 1084.0 L1083.0 1084.0 L1084.5 1084.0 L1086.0 1084.0 L1087.5 1084.0 L1089.0 1084.0 L1090.5 1084.0 L1092.0 1084.0 L1093.5 1084.0 L1095.0 1084.0 L1096.5 1084.0 L1098.0 1084.0 L1099.5 1084.0 L1101.0 1084.0 L1102.5 1084.0 L1104.0 1084.0 L1105.5 1084.0 L1107.0 1084.0 L1108.5 1084.0 L1110.0 1084.0 L1111.5 1084.0 L1113.0 1084.0 L1114.5 1084.0 L1116.0 1084.0 L1117.5 1084.0 L1119.0 1084.0 L1120.5 1084.0 L1122.0 1084.0 L1123.5 1084.0 L1125.0 1084.0 L1126.5 1084.0 L1128.0 1084.0 L1129.5 1084.0 L1131.0 1084.0 L1132.5 1084.0 L1133.9 1084.0 L1135.0 1084.0" fill="none" stroke="#0000ff" stroke-width="2.7" stroke-linejoin="round" stroke-linecap="round"/>
</g>
<path d="M806.2 1134.4 v-3.7 M806.2 764.6 v3.7 M949.6 1134.4 v-3.7 M949.6 764.6 v3.7 M1093.1 1134.4 v-3.7 M1093.1 764.6 v3.7 M765.6 875.1 h3.7 M1135.0 875.1 h-3.7 M765.6 939.8 h3.7 M1135.0 939.8 h-3.7 M765.6 1004.6 h3.7 M1135.0 1004.6 h-3.7 M765.6 1069.4 h3.7 M1135.0 1069.4 h-3.7 " stroke="#262626" stroke-width="1" fill="none"/>
<rect x="765.6" y="764.6" width="369.4" height="369.80000000000007" fill="none" stroke="#262626" stroke-width="1"/>
<text class="k" x="776.4" y="802.6" font-size="33.5">k)</text>
<text class="k" x="806.2" y="1177.6" font-size="32.6" text-anchor="middle">-15</text>
<text class="k" x="949.6" y="1177.6" font-size="32.6" text-anchor="middle">0</text>
<text class="k" x="1093.1" y="1177.6" font-size="32.6" text-anchor="middle">15</text>
<text class="k" x="950.1" y="1220.6" font-size="33" text-anchor="middle"><tspan font-style="italic">μ</tspan>m</text>
<!-- plot l) -->
<clipPath id="pc3"><rect x="1147.1" y="764.6" width="369.8000000000002" height="369.80000000000007"/></clipPath>
<rect x="1147.1" y="764.6" width="369.8000000000002" height="369.80000000000007" fill="#fff"/>
<path d="M1188.3 764.6 V1134.4 M1331.7 764.6 V1134.4 M1475.2 764.6 V1134.4 M1147.1 875.1 H1516.9 M1147.1 939.8 H1516.9 M1147.1 1004.6 H1516.9 M1147.1 1069.4 H1516.9 " stroke="#dfdfdf" stroke-width="1" fill="none"/>
<g clip-path="url(#pc3)">
<path d="M1147.1 1134.4 L1147.1 1084.0 L1300.3 1084.0 L1301.5 1080.9 L1303.1 899.2 L1303.7 896.2 L1305.6 896.2 L1306.2 899.2 L1308.0 1078.7 L1308.6 1080.9 L1312.4 1080.9 L1313.0 1078.7 L1315.5 899.2 L1316.4 896.2 L1328.8 896.2 L1329.4 899.2 L1331.9 1078.7 L1332.5 1080.9 L1338.0 1080.9 L1338.7 1078.7 L1341.1 899.2 L1342.1 896.2 L1355.1 896.2 L1355.7 899.2 L1358.5 1078.7 L1359.4 1080.9 L1365.9 1080.9 L1366.5 1078.7 L1369.6 899.2 L1370.5 896.2 L1392.2 896.2 L1392.8 899.2 L1395.6 1078.7 L1396.8 1084.0 L1516.9 1084.0 L1516.9 1134.4 Z" fill="#d9d9d9" stroke="#000" stroke-width="0.7" stroke-linejoin="round"/>
<path d="M1147.5 1084.0 L1148.6 1084.0 L1150.1 1084.0 L1151.6 1084.0 L1153.1 1084.0 L1154.6 1084.0 L1156.1 1084.0 L1157.6 1084.0 L1159.1 1084.0 L1160.6 1084.0 L1162.1 1084.0 L1163.6 1084.0 L1165.1 1084.0 L1166.6 1084.0 L1168.1 1084.0 L1169.6 1084.0 L1171.1 1084.0 L1172.6 1084.0 L1174.1 1084.0 L1175.6 1084.0 L1177.1 1084.0 L1178.6 1084.0 L1180.1 1084.0 L1181.6 1084.0 L1183.1 1084.0 L1184.6 1084.0 L1186.1 1084.0 L1187.6 1084.0 L1189.1 1084.0 L1190.6 1084.0 L1192.1 1084.0 L1193.6 1084.0 L1195.1 1084.0 L1196.6 1084.0 L1198.1 1084.0 L1199.6 1084.0 L1201.1 1084.0 L1202.6 1084.0 L1204.1 1084.0 L1205.6 1084.0 L1207.1 1084.0 L1208.6 1084.0 L1210.1 1084.0 L1211.6 1084.0 L1213.1 1084.0 L1214.6 1084.0 L1216.1 1084.0 L1217.6 1084.0 L1219.1 1084.0 L1220.6 1084.0 L1222.1 1084.0 L1223.6 1084.0 L1225.1 1084.0 L1226.6 1084.0 L1228.1 1084.0 L1229.6 1084.0 L1231.1 1084.0 L1232.6 1084.0 L1234.1 1084.0 L1235.6 1084.0 L1237.1 1084.0 L1238.6 1084.0 L1240.1 1084.0 L1241.6 1084.0 L1243.1 1084.0 L1244.6 1084.0 L1246.1 1084.0 L1247.6 1084.0 L1249.1 1084.0 L1250.6 1084.0 L1252.1 1084.0 L1253.6 1084.0 L1255.1 1084.0 L1256.6 1084.0 L1258.1 1084.0 L1259.6 1084.0 L1261.1 1084.0 L1262.6 1084.0 L1264.1 1084.0 L1265.6 1084.0 L1267.1 1084.0 L1268.6 1084.0 L1270.1 1084.0 L1271.6 1084.0 L1273.1 1084.0 L1274.6 1084.0 L1276.1 1084.0 L1277.6 1084.0 L1279.1 1084.0 L1280.6 1084.0 L1282.1 1084.0 L1283.6 1084.0 L1285.1 1084.0 L1286.6 1084.0 L1288.1 1084.0 L1289.6 1084.0 L1291.1 1083.9 L1292.5 1083.5 L1293.9 1082.9 L1295.2 1082.3 L1296.3 1081.3 L1296.9 1080.1 L1297.4 1078.6 L1297.9 1077.2 L1298.3 1075.8 L1298.5 1074.3 L1298.6 1072.8 L1298.6 1071.3 L1298.7 1069.8 L1298.7 1068.3 L1298.8 1066.8 L1298.9 1065.3 L1298.9 1063.8 L1299.0 1062.3 L1299.1 1060.8 L1299.1 1059.3 L1299.2 1057.8 L1299.2 1056.3 L1299.3 1054.8 L1299.4 1053.3 L1299.4 1051.8 L1299.5 1050.3 L1299.6 1048.8 L1299.6 1047.3 L1299.7 1045.8 L1299.7 1044.3 L1299.8 1042.9 L1299.9 1041.4 L1299.9 1039.9 L1300.0 1038.4 L1300.0 1036.9 L1300.1 1035.4 L1300.1 1033.9 L1300.2 1032.4 L1300.2 1030.9 L1300.2 1029.4 L1300.3 1027.9 L1300.3 1026.4 L1300.4 1024.9 L1300.4 1023.4 L1300.4 1021.9 L1300.5 1020.4 L1300.5 1018.9 L1300.6 1017.4 L1300.6 1015.9 L1300.7 1014.4 L1300.7 1012.9 L1300.7 1011.4 L1300.8 1009.9 L1300.8 1008.4 L1300.9 1006.9 L1300.9 1005.4 L1300.9 1003.9 L1301.0 1002.4 L1301.0 1000.9 L1301.1 999.4 L1301.1 997.9 L1301.2 996.4 L1301.2 994.9 L1301.2 993.4 L1301.3 991.9 L1301.3 990.4 L1301.4 988.9 L1301.4 987.4 L1301.4 985.9 L1301.5 984.4 L1301.5 982.9 L1301.6 981.4 L1301.7 979.9 L1301.8 978.4 L1301.9 976.9 L1302.0 975.4 L1302.1 973.9 L1302.2 972.4 L1302.3 970.9 L1302.4 969.4 L1302.5 967.9 L1302.6 966.4 L1302.6 964.9 L1302.7 963.4 L1302.8 961.9 L1302.9 960.4 L1303.0 959.1 L1303.3 959.0 L1303.6 960.1 L1304.0 961.6 L1304.3 963.0 L1304.6 964.5 L1304.8 966.0 L1304.9 967.5 L1305.1 968.9 L1305.2 970.4 L1305.4 971.9 L1305.5 973.4 L1305.7 974.9 L1305.8 976.4 L1306.0 977.9 L1306.1 979.4 L1306.3 980.9 L1306.4 982.4 L1306.6 983.9 L1306.8 985.4 L1306.9 986.9 L1307.1 988.3 L1307.2 989.8 L1307.4 991.3 L1307.6 992.8 L1307.7 994.3 L1307.9 995.8 L1308.0 997.3 L1308.2 998.8 L1308.4 1000.3 L1308.5 1001.8 L1308.8 1003.2 L1309.3 1004.6 L1309.9 1006.0 L1310.4 1006.8 L1310.8 1006.2 L1311.1 1004.8 L1311.4 1003.3 L1311.7 1001.8 L1311.9 1000.3 L1312.2 998.9 L1312.4 997.4 L1312.6 995.9 L1312.7 994.4 L1312.9 992.9 L1313.0 991.4 L1313.2 989.9 L1313.3 988.4 L1313.5 986.9 L1313.6 985.5 L1313.8 984.0 L1313.9 982.5 L1314.1 981.0 L1314.2 979.5 L1314.4 978.0 L1314.5 976.5 L1314.7 975.0 L1314.9 973.5 L1315.0 972.0 L1315.3 970.5 L1315.5 969.1 L1315.7 967.6 L1315.9 966.1 L1316.1 964.6 L1316.3 963.1 L1316.5 961.6 L1316.7 960.1 L1317.0 958.7 L1317.2 957.2 L1317.4 955.7 L1317.6 954.2 L1317.8 952.7 L1318.2 951.3 L1318.7 949.9 L1319.3 948.5 L1319.8 947.1 L1320.4 945.7 L1321.1 944.7 L1322.2 944.7 L1323.2 945.6 L1323.8 946.9 L1324.4 948.3 L1324.9 949.7 L1325.4 951.1 L1325.7 952.5 L1326.0 954.0 L1326.2 955.5 L1326.4 957.0 L1326.6 958.5 L1326.8 960.0 L1327.0 961.4 L1327.2 962.9 L1327.5 964.4 L1327.7 965.9 L1327.9 967.4 L1328.1 968.9 L1328.3 970.4 L1328.5 971.8 L1328.7 973.3 L1329.0 974.8 L1329.2 976.3 L1329.4 977.8 L1329.6 979.3 L1329.9 980.7 L1330.1 982.2 L1330.3 983.7 L1330.6 985.2 L1330.8 986.7 L1331.0 988.2 L1331.2 989.6 L1331.5 991.1 L1331.7 992.6 L1332.0 994.1 L1332.5 995.5 L1333.0 996.9 L1333.5 998.3 L1334.0 999.6 L1334.4 999.9 L1334.8 998.9 L1335.2 997.4 L1335.5 996.0 L1335.9 994.5 L1336.2 993.1 L1336.5 991.6 L1336.6 990.1 L1336.7 988.6 L1336.8 987.1 L1337.0 985.6 L1337.1 984.1 L1337.2 982.6 L1337.3 981.1 L1337.4 979.6 L1337.5 978.1 L1337.6 976.6 L1337.7 975.1 L1337.8 973.6 L1337.9 972.1 L1338.0 970.6 L1338.1 969.1 L1338.2 967.6 L1338.3 966.2 L1338.4 964.7 L1338.5 963.2 L1338.6 961.7 L1338.7 960.2 L1338.9 958.7 L1339.0 957.2 L1339.1 955.7 L1339.2 954.2 L1339.3 952.7 L1339.5 951.2 L1339.6 949.7 L1339.7 948.2 L1339.8 946.7 L1339.9 945.2 L1340.1 943.7 L1340.2 942.2 L1340.3 940.7 L1340.4 939.2 L1340.5 937.7 L1340.7 936.2 L1340.8 934.7 L1340.9 933.3 L1341.0 931.8 L1341.2 930.3 L1341.3 928.8 L1341.5 927.3 L1341.7 925.8 L1341.9 924.3 L1342.1 922.8 L1342.3 921.3 L1342.5 919.9 L1342.7 918.4 L1342.9 916.9 L1343.1 915.4 L1343.3 913.9 L1343.5 912.4 L1343.9 911.0 L1344.4 909.6 L1345.0 908.2 L1345.5 906.8 L1346.1 905.5 L1346.9 905.2 L1347.8 906.0 L1348.7 907.1 L1349.1 908.5 L1349.4 910.0 L1349.7 911.5 L1350.0 912.9 L1350.2 914.4 L1350.5 915.9 L1350.8 917.4 L1351.0 918.8 L1351.3 920.3 L1351.6 921.8 L1351.8 923.3 L1352.0 924.8 L1352.2 926.3 L1352.3 927.7 L1352.4 929.2 L1352.5 930.7 L1352.7 932.2 L1352.8 933.7 L1352.9 935.2 L1353.0 936.7 L1353.2 938.2 L1353.3 939.7 L1353.4 941.2 L1353.5 942.7 L1353.7 944.2 L1353.8 945.7 L1353.9 947.2 L1354.0 948.7 L1354.1 950.2 L1354.3 951.7 L1354.4 953.2 L1354.5 954.7 L1354.6 956.2 L1354.8 957.6 L1354.9 959.1 L1355.0 960.6 L1355.1 962.1 L1355.2 963.6 L1355.3 965.1 L1355.5 966.6 L1355.6 968.1 L1355.7 969.6 L1355.8 971.1 L1355.9 972.6 L1356.0 974.1 L1356.1 975.6 L1356.2 977.1 L1356.3 978.6 L1356.4 980.1 L1356.5 981.6 L1356.6 983.1 L1356.7 984.6 L1356.8 986.1 L1357.0 987.6 L1357.1 989.1 L1357.2 990.6 L1357.3 992.1 L1357.4 993.6 L1357.5 995.0 L1357.6 996.5 L1357.7 998.0 L1357.8 999.5 L1357.9 1001.0 L1358.0 1002.5 L1358.1 1004.0 L1358.3 1005.5 L1358.5 1007.0 L1358.7 1008.5 L1358.8 1010.0 L1359.0 1011.5 L1359.2 1013.0 L1359.4 1014.4 L1359.6 1015.9 L1359.8 1017.4 L1360.0 1018.9 L1360.2 1020.4 L1360.3 1021.9 L1360.5 1023.4 L1360.7 1024.9 L1360.9 1026.4 L1361.1 1027.8 L1361.4 1029.3 L1362.1 1030.6 L1362.8 1031.8 L1363.4 1032.1 L1363.8 1031.1 L1364.0 1029.7 L1364.3 1028.2 L1364.6 1026.7 L1364.9 1025.3 L1365.2 1023.8 L1365.4 1022.3 L1365.7 1020.8 L1365.9 1019.3 L1366.1 1017.9 L1366.2 1016.4 L1366.3 1014.9 L1366.4 1013.4 L1366.6 1011.9 L1366.7 1010.4 L1366.8 1008.9 L1366.9 1007.4 L1367.1 1005.9 L1367.2 1004.4 L1367.3 1002.9 L1367.4 1001.4 L1367.6 999.9 L1367.7 998.4 L1367.8 996.9 L1367.9 995.4 L1368.1 993.9 L1368.2 992.4 L1368.3 990.9 L1368.4 989.5 L1368.6 988.0 L1368.7 986.5 L1368.8 985.0 L1368.9 983.5 L1369.1 982.0 L1369.2 980.5 L1369.3 979.0 L1369.5 977.5 L1369.6 976.0 L1369.7 974.5 L1369.9 973.0 L1370.0 971.5 L1370.1 970.0 L1370.3 968.5 L1370.4 967.0 L1370.6 965.5 L1370.7 964.1 L1370.8 962.6 L1371.0 961.1 L1371.1 959.6 L1371.2 958.1 L1371.4 956.6 L1371.5 955.1 L1371.6 953.6 L1371.8 952.1 L1371.9 950.6 L1372.1 949.1 L1372.3 947.6 L1372.5 946.1 L1372.7 944.7 L1372.9 943.2 L1373.2 941.7 L1373.4 940.2 L1373.6 938.7 L1373.9 937.3 L1374.1 935.8 L1374.3 934.3 L1374.5 932.8 L1374.8 931.3 L1375.0 929.8 L1375.3 928.4 L1375.8 927.0 L1376.3 925.6 L1376.8 924.2 L1377.4 922.7 L1377.9 921.4 L1378.7 920.2 L1379.9 919.3 L1381.2 918.9 L1382.4 919.3 L1383.5 920.2 L1384.5 921.3 L1385.1 922.6 L1385.7 924.0 L1386.2 925.4 L1386.8 926.8 L1387.3 928.2 L1387.8 929.6 L1388.1 931.1 L1388.4 932.5 L1388.7 934.0 L1389.1 935.5 L1389.4 936.9 L1389.7 938.4 L1390.0 939.9 L1390.4 941.3 L1390.7 942.8 L1390.9 944.3 L1391.1 945.8 L1391.3 947.2 L1391.5 948.7 L1391.7 950.2 L1391.9 951.7 L1392.1 953.2 L1392.3 954.7 L1392.5 956.2 L1392.7 957.7 L1392.9 959.1 L1393.0 960.6 L1393.2 962.1 L1393.3 963.6 L1393.5 965.1 L1393.6 966.6 L1393.7 968.1 L1393.9 969.6 L1394.0 971.1 L1394.1 972.6 L1394.3 974.1 L1394.4 975.6 L1394.5 977.1 L1394.6 978.6 L1394.8 980.1 L1394.9 981.5 L1395.0 983.0 L1395.2 984.5 L1395.3 986.0 L1395.4 987.5 L1395.5 989.0 L1395.6 990.5 L1395.7 992.0 L1395.8 993.5 L1395.9 995.0 L1396.0 996.5 L1396.2 998.0 L1396.3 999.5 L1396.4 1001.0 L1396.5 1002.5 L1396.6 1004.0 L1396.7 1005.5 L1396.8 1007.0 L1396.9 1008.5 L1396.9 1010.0 L1397.0 1011.5 L1397.1 1013.0 L1397.1 1014.5 L1397.2 1016.0 L1397.2 1017.5 L1397.3 1019.0 L1397.4 1020.5 L1397.4 1022.0 L1397.5 1023.5 L1397.5 1025.0 L1397.6 1026.5 L1397.7 1028.0 L1397.7 1029.5 L1397.8 1031.0 L1397.8 1032.5 L1397.9 1034.0 L1398.0 1035.5 L1398.0 1036.9 L1398.1 1038.4 L1398.1 1039.9 L1398.2 1041.4 L1398.2 1042.9 L1398.3 1044.4 L1398.3 1045.9 L1398.4 1047.4 L1398.4 1048.9 L1398.5 1050.4 L1398.5 1051.9 L1398.6 1053.4 L1398.6 1054.9 L1398.7 1056.4 L1398.7 1057.9 L1398.8 1059.4 L1398.8 1060.9 L1398.9 1062.4 L1398.9 1063.9 L1399.0 1065.4 L1399.0 1066.9 L1399.1 1068.4 L1399.1 1069.9 L1399.2 1071.4 L1399.2 1072.9 L1399.3 1074.4 L1399.4 1075.9 L1399.6 1077.4 L1399.8 1078.9 L1400.0 1080.4 L1400.2 1081.9 L1400.6 1083.2 L1401.5 1083.9 L1402.9 1084.0 L1404.4 1084.0 L1405.9 1084.0 L1407.4 1084.0 L1408.9 1084.0 L1410.4 1084.0 L1411.9 1084.0 L1413.4 1084.0 L1414.9 1084.0 L1416.4 1084.0 L1417.9 1084.0 L1419.4 1084.0 L1420.9 1084.0 L1422.4 1084.0 L1423.9 1084.0 L1425.4 1084.0 L1426.9 1084.0 L1428.4 1084.0 L1429.9 1084.0 L1431.4 1084.0 L1432.9 1084.0 L1434.4 1084.0 L1435.9 1084.0 L1437.4 1084.0 L1438.9 1084.0 L1440.4 1084.0 L1441.9 1084.0 L1443.4 1084.0 L1444.9 1084.0 L1446.4 1084.0 L1447.9 1084.0 L1449.4 1084.0 L1450.9 1084.0 L1452.4 1084.0 L1453.9 1084.0 L1455.4 1084.0 L1456.9 1084.0 L1458.4 1084.0 L1459.9 1084.0 L1461.4 1084.0 L1462.9 1084.0 L1464.4 1084.0 L1465.9 1084.0 L1467.4 1084.0 L1468.9 1084.0 L1470.4 1084.0 L1471.9 1084.0 L1473.4 1084.0 L1474.9 1084.0 L1476.4 1084.0 L1477.9 1084.0 L1479.4 1084.0 L1480.9 1084.0 L1482.4 1084.0 L1483.9 1084.0 L1485.4 1084.0 L1486.9 1084.0 L1488.4 1084.0 L1489.9 1084.0 L1491.4 1084.0 L1492.9 1084.0 L1494.4 1084.0 L1495.9 1084.0 L1497.4 1084.0 L1498.9 1084.0 L1500.4 1084.0 L1501.9 1084.0 L1503.4 1084.0 L1504.9 1084.0 L1506.4 1084.0 L1507.9 1084.0 L1509.4 1084.0 L1510.9 1084.0 L1512.4 1084.0 L1513.9 1084.0 L1515.4 1084.0 L1516.5 1084.0 L1516.9 1084.0" fill="none" stroke="#ff0000" stroke-width="2.7" stroke-linejoin="round" stroke-linecap="round"/>
<path d="M1147.5 1084.0 L1148.6 1084.0 L1150.1 1084.0 L1151.6 1084.0 L1153.1 1084.0 L1154.6 1084.0 L1156.1 1084.0 L1157.6 1084.0 L1159.1 1084.0 L1160.6 1084.0 L1162.1 1084.0 L1163.6 1084.0 L1165.1 1084.0 L1166.6 1084.0 L1168.1 1084.0 L1169.6 1084.0 L1171.1 1084.0 L1172.6 1084.0 L1174.1 1084.0 L1175.6 1084.0 L1177.1 1084.0 L1178.6 1084.0 L1180.1 1084.0 L1181.6 1084.0 L1183.1 1084.0 L1184.6 1084.0 L1186.1 1084.0 L1187.6 1084.0 L1189.1 1084.0 L1190.6 1084.0 L1192.1 1084.0 L1193.6 1084.0 L1195.1 1084.0 L1196.6 1084.0 L1198.1 1084.0 L1199.6 1084.0 L1201.1 1084.0 L1202.6 1084.0 L1204.1 1084.0 L1205.6 1084.0 L1207.1 1084.0 L1208.6 1084.0 L1210.1 1084.0 L1211.6 1084.0 L1213.1 1084.0 L1214.6 1084.0 L1216.1 1084.0 L1217.6 1084.0 L1219.1 1084.0 L1220.6 1084.0 L1222.1 1084.0 L1223.6 1084.0 L1225.1 1084.0 L1226.6 1084.0 L1228.1 1084.0 L1229.6 1084.0 L1231.1 1084.0 L1232.6 1084.0 L1234.1 1084.0 L1235.6 1084.0 L1237.1 1084.0 L1238.6 1084.0 L1240.1 1084.0 L1241.6 1084.0 L1243.1 1084.0 L1244.6 1084.0 L1246.1 1084.0 L1247.6 1084.0 L1249.1 1084.0 L1250.6 1084.0 L1252.1 1084.0 L1253.6 1084.0 L1255.1 1084.0 L1256.6 1084.0 L1258.1 1084.0 L1259.6 1084.0 L1261.1 1084.0 L1262.6 1084.0 L1264.1 1084.0 L1265.6 1084.0 L1267.1 1084.0 L1268.6 1084.0 L1270.1 1084.0 L1271.6 1084.0 L1273.1 1084.0 L1274.6 1084.0 L1276.1 1084.0 L1277.6 1084.0 L1279.1 1084.0 L1280.6 1084.0 L1282.1 1084.0 L1283.6 1084.0 L1285.1 1084.0 L1286.6 1084.0 L1288.1 1084.0 L1289.6 1084.0 L1291.1 1083.8 L1292.5 1083.4 L1293.9 1082.8 L1295.2 1082.2 L1296.4 1081.3 L1297.1 1080.1 L1297.8 1078.8 L1298.5 1077.4 L1299.1 1076.1 L1299.4 1074.6 L1299.5 1073.1 L1299.6 1071.6 L1299.8 1070.1 L1299.9 1068.7 L1300.0 1067.2 L1300.1 1065.7 L1300.2 1064.2 L1300.3 1062.7 L1300.4 1061.2 L1300.5 1059.7 L1300.6 1058.2 L1300.7 1056.7 L1300.8 1055.2 L1300.9 1053.7 L1301.0 1052.2 L1301.0 1050.7 L1301.1 1049.2 L1301.1 1047.7 L1301.2 1046.2 L1301.2 1044.7 L1301.3 1043.2 L1301.3 1041.7 L1301.4 1040.2 L1301.4 1038.7 L1301.5 1037.2 L1301.5 1035.7 L1301.6 1034.2 L1301.6 1032.7 L1301.7 1031.2 L1301.7 1029.7 L1301.8 1028.2 L1301.8 1026.7 L1301.9 1025.2 L1301.9 1023.7 L1302.0 1022.2 L1302.0 1020.7 L1302.1 1019.2 L1302.1 1017.7 L1302.2 1016.2 L1302.2 1014.7 L1302.3 1013.2 L1302.3 1011.7 L1302.4 1010.2 L1302.4 1008.7 L1302.5 1007.2 L1302.5 1005.7 L1302.6 1004.2 L1302.6 1002.7 L1302.7 1001.2 L1302.7 999.7 L1302.7 998.2 L1302.8 996.7 L1302.8 995.2 L1302.9 993.7 L1302.9 992.2 L1303.0 990.7 L1303.0 989.2 L1303.1 987.7 L1303.1 986.2 L1303.2 984.7 L1303.2 983.2 L1303.3 981.7 L1303.3 980.2 L1303.4 978.7 L1303.4 977.2 L1303.5 975.7 L1303.5 974.2 L1303.5 972.7 L1303.6 971.2 L1303.6 969.7 L1303.7 968.2 L1303.7 966.7 L1303.8 965.2 L1303.8 963.7 L1303.9 962.2 L1303.9 960.7 L1304.0 959.2 L1304.0 957.7 L1304.1 956.2 L1304.3 954.7 L1304.4 953.3 L1304.5 951.8 L1304.6 950.3 L1304.7 948.8 L1304.8 947.3 L1304.9 945.8 L1305.1 944.3 L1305.2 942.8 L1305.3 941.3 L1305.4 939.8 L1305.6 938.3 L1305.9 936.9 L1306.4 935.4 L1306.9 934.2 L1307.5 934.2 L1308.2 935.2 L1308.9 936.6 L1309.3 938.0 L1309.6 939.4 L1310.0 940.9 L1310.3 942.4 L1310.6 943.8 L1311.0 945.3 L1311.3 946.8 L1311.6 948.2 L1312.0 949.7 L1312.3 951.1 L1312.7 952.6 L1313.1 954.0 L1313.4 955.5 L1313.8 957.0 L1314.2 958.4 L1314.5 959.9 L1315.0 961.3 L1315.5 962.7 L1316.2 964.0 L1316.8 965.4 L1317.4 966.8 L1318.2 968.0 L1319.3 969.0 L1320.4 969.8 L1321.5 969.7 L1322.5 968.7 L1323.4 967.5 L1324.2 966.3 L1324.9 965.0 L1325.5 963.6 L1326.1 962.2 L1326.7 960.8 L1327.4 959.5 L1328.2 958.2 L1329.0 957.0 L1329.9 956.2 L1330.9 956.5 L1331.9 957.6 L1332.7 958.8 L1333.2 960.2 L1333.7 961.6 L1334.1 963.0 L1334.6 964.5 L1335.1 965.9 L1335.6 967.3 L1336.0 968.7 L1336.5 970.1 L1337.0 971.6 L1337.5 973.0 L1337.9 974.4 L1338.5 975.8 L1339.2 977.1 L1340.2 978.1 L1341.2 979.0 L1342.1 978.8 L1342.8 977.7 L1343.5 976.3 L1344.2 975.0 L1344.6 973.6 L1344.9 972.1 L1345.2 970.6 L1345.6 969.2 L1345.9 967.7 L1346.2 966.2 L1346.6 964.8 L1347.0 963.3 L1347.4 961.9 L1347.8 960.4 L1348.2 959.0 L1348.6 957.6 L1349.1 956.2 L1350.1 955.4 L1351.0 955.7 L1351.5 956.9 L1351.9 958.3 L1352.3 959.8 L1352.7 961.2 L1353.1 962.7 L1353.4 964.1 L1353.7 965.6 L1353.9 967.1 L1354.1 968.6 L1354.3 970.0 L1354.5 971.5 L1354.7 973.0 L1354.9 974.5 L1355.1 976.0 L1355.3 977.5 L1355.5 979.0 L1355.7 980.5 L1355.9 981.9 L1356.2 983.4 L1356.5 984.9 L1356.9 986.3 L1357.3 987.8 L1357.7 989.2 L1358.1 990.6 L1358.7 991.5 L1359.7 991.1 L1360.6 990.1 L1361.0 988.7 L1361.3 987.2 L1361.6 985.8 L1361.9 984.3 L1362.2 982.8 L1362.5 981.4 L1362.8 979.9 L1363.1 978.4 L1363.3 976.9 L1363.6 975.5 L1363.9 974.0 L1364.1 972.5 L1364.3 971.0 L1364.6 969.5 L1364.8 968.1 L1365.1 966.6 L1365.3 965.1 L1365.6 963.6 L1365.8 962.1 L1366.1 960.7 L1366.3 959.2 L1366.6 957.7 L1366.8 956.2 L1367.1 954.8 L1367.3 953.3 L1367.6 951.8 L1367.8 950.3 L1368.0 948.8 L1368.3 947.4 L1368.5 945.9 L1368.8 944.4 L1369.0 942.9 L1369.3 941.4 L1369.5 940.0 L1369.9 938.5 L1370.2 937.0 L1370.6 935.6 L1370.9 934.1 L1371.3 932.7 L1371.7 931.2 L1372.0 929.8 L1372.4 928.3 L1372.9 926.9 L1373.5 925.6 L1374.2 924.2 L1375.0 923.2 L1375.8 923.4 L1376.7 924.4 L1377.5 925.7 L1378.0 927.0 L1378.4 928.5 L1378.8 929.9 L1379.2 931.4 L1379.6 932.8 L1380.0 934.3 L1380.4 935.7 L1380.7 937.2 L1381.1 938.6 L1381.5 940.1 L1381.9 941.5 L1382.2 943.0 L1382.6 944.4 L1383.0 945.9 L1383.4 947.3 L1383.8 948.8 L1384.2 950.2 L1384.6 951.7 L1385.0 953.1 L1385.5 954.6 L1385.9 956.0 L1386.2 957.5 L1386.5 958.9 L1386.9 960.4 L1387.2 961.8 L1387.5 963.3 L1387.8 964.8 L1388.2 966.2 L1388.5 967.7 L1388.8 969.2 L1389.1 970.6 L1389.4 972.1 L1389.7 973.6 L1390.0 975.0 L1390.3 976.5 L1390.6 978.0 L1390.9 979.5 L1391.2 980.9 L1391.5 982.4 L1391.8 983.9 L1392.1 985.3 L1392.3 986.8 L1392.6 988.3 L1392.8 989.8 L1393.1 991.3 L1393.3 992.7 L1393.6 994.2 L1393.8 995.7 L1394.1 997.2 L1394.3 998.7 L1394.6 1000.1 L1394.8 1001.6 L1395.1 1003.1 L1395.3 1004.6 L1395.4 1006.1 L1395.5 1007.6 L1395.6 1009.1 L1395.7 1010.6 L1395.8 1012.1 L1395.9 1013.6 L1396.0 1015.1 L1396.1 1016.5 L1396.2 1018.0 L1396.3 1019.5 L1396.3 1021.0 L1396.4 1022.5 L1396.5 1024.0 L1396.6 1025.5 L1396.7 1027.0 L1396.8 1028.5 L1396.9 1030.0 L1397.0 1031.5 L1397.1 1033.0 L1397.2 1034.5 L1397.3 1036.0 L1397.4 1037.5 L1397.5 1039.0 L1397.5 1040.5 L1397.6 1042.0 L1397.7 1043.5 L1397.7 1045.0 L1397.8 1046.5 L1397.8 1048.0 L1397.9 1049.5 L1398.0 1051.0 L1398.0 1052.5 L1398.1 1054.0 L1398.1 1055.5 L1398.2 1057.0 L1398.3 1058.5 L1398.3 1060.0 L1398.4 1061.5 L1398.4 1063.0 L1398.5 1064.5 L1398.6 1066.0 L1398.6 1067.5 L1398.7 1069.0 L1398.8 1070.5 L1398.9 1072.0 L1399.0 1073.5 L1399.2 1075.0 L1399.3 1076.5 L1399.4 1077.9 L1399.5 1079.4 L1399.7 1080.9 L1399.8 1082.4 L1400.3 1083.6 L1401.4 1084.0 L1402.9 1084.0 L1404.4 1084.0 L1405.9 1084.0 L1407.4 1084.0 L1408.9 1084.0 L1410.4 1084.0 L1411.9 1084.0 L1413.4 1084.0 L1414.9 1084.0 L1416.4 1084.0 L1417.9 1084.0 L1419.4 1084.0 L1420.9 1084.0 L1422.4 1084.0 L1423.9 1084.0 L1425.4 1084.0 L1426.9 1084.0 L1428.4 1084.0 L1429.9 1084.0 L1431.4 1084.0 L1432.9 1084.0 L1434.4 1084.0 L1435.9 1084.0 L1437.4 1084.0 L1438.9 1084.0 L1440.4 1084.0 L1441.9 1084.0 L1443.4 1084.0 L1444.9 1084.0 L1446.4 1084.0 L1447.9 1084.0 L1449.4 1084.0 L1450.9 1084.0 L1452.4 1084.0 L1453.9 1084.0 L1455.4 1084.0 L1456.9 1084.0 L1458.4 1084.0 L1459.9 1084.0 L1461.4 1084.0 L1462.9 1084.0 L1464.4 1084.0 L1465.9 1084.0 L1467.4 1084.0 L1468.9 1084.0 L1470.4 1084.0 L1471.9 1084.0 L1473.4 1084.0 L1474.9 1084.0 L1476.4 1084.0 L1477.9 1084.0 L1479.4 1084.0 L1480.9 1084.0 L1482.4 1084.0 L1483.9 1084.0 L1485.4 1084.0 L1486.9 1084.0 L1488.4 1084.0 L1489.9 1084.0 L1491.4 1084.0 L1492.9 1084.0 L1494.4 1084.0 L1495.9 1084.0 L1497.4 1084.0 L1498.9 1084.0 L1500.4 1084.0 L1501.9 1084.0 L1503.4 1084.0 L1504.9 1084.0 L1506.4 1084.0 L1507.9 1084.0 L1509.4 1084.0 L1510.9 1084.0 L1512.4 1084.0 L1513.9 1084.0 L1515.3 1084.0 L1516.5 1084.0 L1516.9 1084.0" fill="none" stroke="#0000ff" stroke-width="2.7" stroke-linejoin="round" stroke-linecap="round"/>
</g>
<path d="M1188.3 1134.4 v-3.7 M1188.3 764.6 v3.7 M1331.7 1134.4 v-3.7 M1331.7 764.6 v3.7 M1475.2 1134.4 v-3.7 M1475.2 764.6 v3.7 M1147.1 875.1 h3.7 M1516.9 875.1 h-3.7 M1147.1 939.8 h3.7 M1516.9 939.8 h-3.7 M1147.1 1004.6 h3.7 M1516.9 1004.6 h-3.7 M1147.1 1069.4 h3.7 M1516.9 1069.4 h-3.7 " stroke="#262626" stroke-width="1" fill="none"/>
<rect x="1147.1" y="764.6" width="369.8000000000002" height="369.80000000000007" fill="none" stroke="#262626" stroke-width="1"/>
<text class="k" x="1158.5" y="802.6" font-size="33.5">l)</text>
<text class="k" x="1188.3" y="1177.6" font-size="32.6" text-anchor="middle">-15</text>
<text class="k" x="1331.7" y="1177.6" font-size="32.6" text-anchor="middle">0</text>
<text class="k" x="1475.2" y="1177.6" font-size="32.6" text-anchor="middle">15</text>
<text class="k" x="1332.2" y="1220.6" font-size="33" text-anchor="middle"><tspan font-style="italic">μ</tspan>m</text>
<!-- legend -->
<rect x="1284.7" y="781.4" width="218.9" height="101.1" fill="#fff" stroke="#262626" stroke-width="1"/>
<rect x="1290" y="788" width="55" height="23.3" fill="#d9d9d9" stroke="#262626" stroke-width="0.9"/>
<path d="M1290 832 H1345" stroke="#ff0000" stroke-width="2.7"/>
<path d="M1290 864.3 H1345" stroke="#0000ff" stroke-width="2.7"/>
<text fill="#0d0d0d" x="1349.6" y="809.8" font-size="25.35">Model</text>
<text fill="#0d0d0d" x="1349.6" y="841.2" font-size="25.35">Synthetic</text>
<text fill="#0d0d0d" x="1349.6" y="874.1" font-size="25.35">Experimental</text>
<text class="k" x="1528" y="887.6" font-size="32.6">1.52</text>
<text class="k" x="1528" y="1147.6" font-size="32.6">1.48</text>
<text class="k" transform="translate(1631.2 949) rotate(-90)" font-size="33" text-anchor="middle">Refractive index</text>
<path d="M1.0 0.5 H370.7 M383.1 0.5 H752.8 M765.3 0.5 H1135.0 M1147.4 0.5 H1517.1000000000001" stroke="#7c7c78" stroke-width="1" fill="none"/>
<path d="M0.5 0 V370.0 M0.5 382.5 V752.3" stroke="#a9aba6" stroke-width="1" fill="none"/>
</svg>
</body></html>
